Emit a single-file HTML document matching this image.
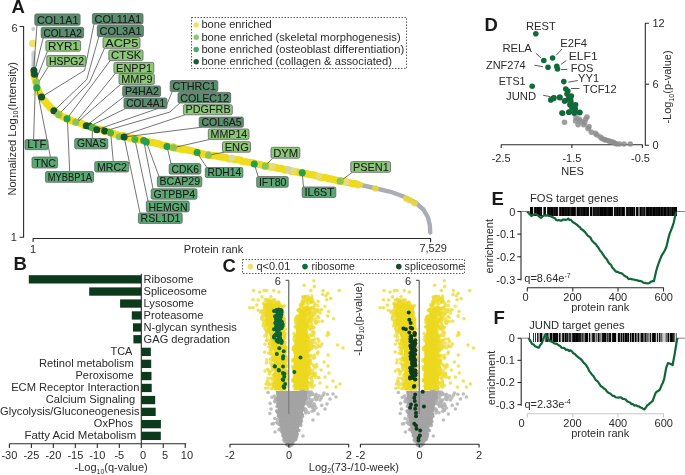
<!DOCTYPE html>
<html><head><meta charset="utf-8"><style>html,body{margin:0;padding:0;background:#fff;overflow:hidden}svg{display:block;will-change:transform}</style></head>
<body><svg width="685" height="475" viewBox="0 0 685 475" font-family='"Liberation Sans", sans-serif'>
<rect width="685" height="475" fill="#fff"/>
<text x="11.50" y="13.00" font-size="18.5" text-anchor="start" fill="#1a1a1a" font-weight="bold">A</text>
<text x="13.50" y="270.30" font-size="18.5" text-anchor="start" fill="#1a1a1a" font-weight="bold">B</text>
<text x="222.50" y="271.50" font-size="18.5" text-anchor="start" fill="#1a1a1a" font-weight="bold">C</text>
<text x="484.50" y="31.40" font-size="18.5" text-anchor="start" fill="#1a1a1a" font-weight="bold">D</text>
<text x="491.50" y="205.40" font-size="18.5" text-anchor="start" fill="#1a1a1a" font-weight="bold">E</text>
<text x="493.50" y="324.30" font-size="18.5" text-anchor="start" fill="#1a1a1a" font-weight="bold">F</text>
<polyline points="19.50,26.50 23.60,26.50 23.60,237.30 19.50,237.30" fill="none" stroke="#2a2a2a" stroke-width="1.1" stroke-linejoin="round"/>
<polyline points="33.10,242.00 33.10,238.50 430.60,238.50 430.60,242.20" fill="none" stroke="#2a2a2a" stroke-width="1.1" stroke-linejoin="round"/>
<text x="17.60" y="31.60" font-size="11" text-anchor="end" fill="#2b2b2b" font-weight="normal">6</text>
<text x="16.80" y="240.80" font-size="11" text-anchor="end" fill="#2b2b2b" font-weight="normal">1</text>
<text x="33.10" y="252.80" font-size="11" text-anchor="middle" fill="#2b2b2b" font-weight="normal">1</text>
<text x="433.20" y="252.40" font-size="11" text-anchor="middle" fill="#2b2b2b" font-weight="normal">7,529</text>
<text x="213.50" y="252.60" font-size="11" text-anchor="middle" fill="#2b2b2b" font-weight="normal">Protein rank</text>
<text transform="translate(16.0,128.8) rotate(-90)" font-size="11" text-anchor="middle" fill="#2b2b2b" textLength="133.5" lengthAdjust="spacingAndGlyphs">Normalized Log<tspan font-size="7" dy="2">10</tspan><tspan dy="-2">(Intensity)</tspan></text>
<circle cx="33.30" cy="29.10" r="2.0" fill="#c8cbcd"/>
<circle cx="33.50" cy="52.50" r="2.1" fill="#c6cacd" opacity="0.75"/>
<circle cx="33.50" cy="54.00" r="2.1" fill="#c6cacd" opacity="0.75"/>
<circle cx="33.50" cy="55.50" r="2.1" fill="#c6cacd" opacity="0.75"/>
<circle cx="33.50" cy="57.00" r="2.1" fill="#c6cacd" opacity="0.75"/>
<circle cx="33.50" cy="58.50" r="2.1" fill="#c6cacd" opacity="0.75"/>
<circle cx="33.50" cy="60.00" r="2.1" fill="#c6cacd" opacity="0.75"/>
<circle cx="33.50" cy="61.50" r="2.1" fill="#c6cacd" opacity="0.75"/>
<circle cx="33.50" cy="63.00" r="2.1" fill="#c6cacd" opacity="0.75"/>
<circle cx="33.50" cy="64.50" r="2.1" fill="#c6cacd" opacity="0.75"/>
<circle cx="33.50" cy="66.00" r="2.1" fill="#c6cacd" opacity="0.75"/>
<circle cx="33.50" cy="67.50" r="2.1" fill="#c6cacd" opacity="0.75"/>
<circle cx="32.70" cy="43.50" r="3.8" fill="#efe074"/>
<polyline points="358.00,184.40 367.80,186.50 390.50,191.80 403.00,196.30 415.80,202.80 423.40,209.50 428.00,217.50 429.80,225.00 430.20,232.50" fill="none" stroke="#a9aeb2" stroke-width="4.4" stroke-linejoin="round" stroke-linecap="round"/>
<polyline points="33.60,74.00 34.50,78.00 35.50,82.00 37.00,88.00 39.00,92.50 41.60,97.00 47.00,104.00 53.90,110.60 58.60,114.30 67.00,118.50 75.80,122.20 86.30,125.50 96.80,128.60 104.70,130.80 110.50,132.50 119.40,135.20 124.40,136.60 134.90,139.00 146.30,141.50 167.00,145.90 173.40,147.30 197.10,152.40 208.50,154.80 231.50,159.00 240.00,160.30 254.40,163.40 265.20,165.60 302.20,172.80 340.20,180.80 360.00,184.70" fill="none" stroke="#efdb1e" stroke-width="6.0" stroke-linejoin="round" stroke-linecap="round"/>
<circle cx="33.71" cy="73.97" r="3.6" fill="#efdb1e"/>
<circle cx="34.85" cy="77.91" r="3.6" fill="#efdb1e"/>
<circle cx="35.87" cy="81.91" r="3.6" fill="#efdb1e"/>
<circle cx="36.54" cy="84.93" r="3.6" fill="#efdb1e"/>
<circle cx="36.72" cy="88.13" r="3.6" fill="#efdb1e"/>
<circle cx="38.27" cy="90.13" r="3.6" fill="#efdb1e"/>
<circle cx="39.12" cy="92.43" r="3.6" fill="#efdb1e"/>
<circle cx="40.11" cy="94.86" r="3.6" fill="#efdb1e"/>
<circle cx="41.56" cy="97.03" r="3.6" fill="#efdb1e"/>
<circle cx="42.53" cy="99.07" r="3.6" fill="#efdb1e"/>
<circle cx="44.31" cy="100.49" r="3.6" fill="#efdb1e"/>
<circle cx="45.72" cy="102.19" r="3.6" fill="#efdb1e"/>
<circle cx="46.91" cy="104.10" r="3.6" fill="#efdb1e"/>
<circle cx="48.96" cy="105.40" r="3.6" fill="#efdb1e"/>
<circle cx="50.12" cy="107.65" r="3.6" fill="#efdb1e"/>
<circle cx="52.28" cy="108.84" r="3.6" fill="#efdb1e"/>
<circle cx="53.98" cy="110.49" r="3.6" fill="#efdb1e"/>
<circle cx="56.11" cy="112.62" r="3.6" fill="#efdb1e"/>
<circle cx="58.79" cy="113.93" r="3.6" fill="#efdb1e"/>
<circle cx="60.61" cy="115.52" r="3.6" fill="#efdb1e"/>
<circle cx="62.61" cy="116.78" r="3.6" fill="#efdb1e"/>
<circle cx="64.99" cy="117.28" r="3.6" fill="#efdb1e"/>
<circle cx="66.79" cy="118.99" r="3.6" fill="#efdb1e"/>
<circle cx="69.19" cy="119.46" r="3.6" fill="#efdb1e"/>
<circle cx="71.27" cy="120.65" r="3.6" fill="#efdb1e"/>
<circle cx="73.61" cy="121.24" r="3.6" fill="#efdb1e"/>
<circle cx="75.84" cy="122.09" r="3.6" fill="#efdb1e"/>
<circle cx="77.98" cy="122.60" r="3.6" fill="#efdb1e"/>
<circle cx="80.18" cy="122.96" r="3.6" fill="#efdb1e"/>
<circle cx="82.21" cy="123.84" r="3.6" fill="#efdb1e"/>
<circle cx="84.02" cy="125.40" r="3.6" fill="#efdb1e"/>
<circle cx="86.29" cy="125.54" r="3.6" fill="#efdb1e"/>
<circle cx="88.94" cy="126.23" r="3.6" fill="#efdb1e"/>
<circle cx="91.41" cy="127.51" r="3.6" fill="#efdb1e"/>
<circle cx="94.14" cy="127.95" r="3.6" fill="#efdb1e"/>
<circle cx="96.65" cy="129.15" r="3.6" fill="#efdb1e"/>
<circle cx="99.48" cy="129.17" r="3.6" fill="#efdb1e"/>
<circle cx="102.16" cy="129.74" r="3.6" fill="#efdb1e"/>
<circle cx="104.56" cy="131.28" r="3.6" fill="#efdb1e"/>
<circle cx="107.71" cy="131.26" r="3.6" fill="#efdb1e"/>
<circle cx="110.40" cy="132.84" r="3.6" fill="#efdb1e"/>
<circle cx="112.69" cy="133.28" r="3.6" fill="#efdb1e"/>
<circle cx="114.78" cy="134.40" r="3.6" fill="#efdb1e"/>
<circle cx="117.02" cy="135.03" r="3.6" fill="#efdb1e"/>
<circle cx="119.35" cy="135.39" r="3.6" fill="#efdb1e"/>
<circle cx="122.05" cy="135.37" r="3.6" fill="#efdb1e"/>
<circle cx="124.53" cy="136.04" r="3.6" fill="#efdb1e"/>
<circle cx="127.03" cy="137.17" r="3.6" fill="#efdb1e"/>
<circle cx="129.56" cy="138.17" r="3.6" fill="#efdb1e"/>
<circle cx="132.39" cy="137.91" r="3.6" fill="#efdb1e"/>
<circle cx="134.92" cy="138.91" r="3.6" fill="#efdb1e"/>
<circle cx="137.29" cy="139.01" r="3.6" fill="#efdb1e"/>
<circle cx="139.51" cy="139.78" r="3.6" fill="#efdb1e"/>
<circle cx="141.87" cy="139.92" r="3.6" fill="#efdb1e"/>
<circle cx="144.06" cy="140.80" r="3.6" fill="#efdb1e"/>
<circle cx="146.29" cy="141.53" r="3.6" fill="#efdb1e"/>
<circle cx="148.67" cy="141.64" r="3.6" fill="#efdb1e"/>
<circle cx="150.83" cy="142.81" r="3.6" fill="#efdb1e"/>
<circle cx="153.31" cy="142.44" r="3.6" fill="#efdb1e"/>
<circle cx="155.57" cy="143.12" r="3.6" fill="#efdb1e"/>
<circle cx="157.86" cy="143.66" r="3.6" fill="#efdb1e"/>
<circle cx="160.12" cy="144.32" r="3.6" fill="#efdb1e"/>
<circle cx="162.33" cy="145.23" r="3.6" fill="#efdb1e"/>
<circle cx="164.74" cy="145.24" r="3.6" fill="#efdb1e"/>
<circle cx="166.95" cy="146.13" r="3.6" fill="#efdb1e"/>
<circle cx="170.09" cy="147.09" r="3.6" fill="#efdb1e"/>
<circle cx="173.49" cy="146.87" r="3.6" fill="#efdb1e"/>
<circle cx="175.46" cy="148.19" r="3.6" fill="#efdb1e"/>
<circle cx="177.68" cy="148.34" r="3.6" fill="#efdb1e"/>
<circle cx="179.80" cy="148.98" r="3.6" fill="#efdb1e"/>
<circle cx="181.99" cy="149.28" r="3.6" fill="#efdb1e"/>
<circle cx="184.20" cy="149.51" r="3.6" fill="#efdb1e"/>
<circle cx="186.43" cy="149.61" r="3.6" fill="#efdb1e"/>
<circle cx="188.57" cy="150.13" r="3.6" fill="#efdb1e"/>
<circle cx="190.72" cy="150.63" r="3.6" fill="#efdb1e"/>
<circle cx="192.87" cy="151.09" r="3.6" fill="#efdb1e"/>
<circle cx="195.03" cy="151.52" r="3.6" fill="#efdb1e"/>
<circle cx="197.17" cy="152.06" r="3.6" fill="#efdb1e"/>
<circle cx="199.36" cy="152.95" r="3.6" fill="#efdb1e"/>
<circle cx="201.59" cy="153.68" r="3.6" fill="#efdb1e"/>
<circle cx="203.87" cy="154.19" r="3.6" fill="#efdb1e"/>
<circle cx="206.13" cy="154.73" r="3.6" fill="#efdb1e"/>
<circle cx="208.58" cy="154.35" r="3.6" fill="#efdb1e"/>
<circle cx="210.73" cy="155.60" r="3.6" fill="#efdb1e"/>
<circle cx="213.17" cy="155.27" r="3.6" fill="#efdb1e"/>
<circle cx="215.49" cy="155.56" r="3.6" fill="#efdb1e"/>
<circle cx="217.75" cy="156.23" r="3.6" fill="#efdb1e"/>
<circle cx="219.98" cy="157.00" r="3.6" fill="#efdb1e"/>
<circle cx="222.40" cy="156.79" r="3.6" fill="#efdb1e"/>
<circle cx="224.66" cy="157.41" r="3.6" fill="#efdb1e"/>
<circle cx="226.92" cy="158.04" r="3.6" fill="#efdb1e"/>
<circle cx="229.13" cy="158.96" r="3.6" fill="#efdb1e"/>
<circle cx="231.52" cy="158.88" r="3.6" fill="#efdb1e"/>
<circle cx="234.35" cy="159.33" r="3.6" fill="#efdb1e"/>
<circle cx="237.19" cy="159.71" r="3.6" fill="#efdb1e"/>
<circle cx="240.10" cy="159.82" r="3.6" fill="#efdb1e"/>
<circle cx="242.30" cy="161.26" r="3.6" fill="#efdb1e"/>
<circle cx="244.69" cy="161.83" r="3.6" fill="#efdb1e"/>
<circle cx="247.14" cy="162.11" r="3.6" fill="#efdb1e"/>
<circle cx="249.63" cy="162.25" r="3.6" fill="#efdb1e"/>
<circle cx="252.01" cy="162.82" r="3.6" fill="#efdb1e"/>
<circle cx="254.45" cy="163.18" r="3.6" fill="#efdb1e"/>
<circle cx="256.52" cy="164.02" r="3.6" fill="#efdb1e"/>
<circle cx="258.68" cy="164.46" r="3.6" fill="#efdb1e"/>
<circle cx="260.93" cy="164.50" r="3.6" fill="#efdb1e"/>
<circle cx="262.95" cy="165.60" r="3.6" fill="#efdb1e"/>
<circle cx="265.15" cy="165.86" r="3.6" fill="#efdb1e"/>
<circle cx="267.44" cy="165.69" r="3.6" fill="#efdb1e"/>
<circle cx="269.48" cy="166.81" r="3.6" fill="#efdb1e"/>
<circle cx="271.69" cy="167.08" r="3.6" fill="#efdb1e"/>
<circle cx="273.96" cy="167.00" r="3.6" fill="#efdb1e"/>
<circle cx="276.13" cy="167.48" r="3.6" fill="#efdb1e"/>
<circle cx="278.20" cy="168.44" r="3.6" fill="#efdb1e"/>
<circle cx="280.53" cy="168.07" r="3.6" fill="#efdb1e"/>
<circle cx="282.63" cy="168.91" r="3.6" fill="#efdb1e"/>
<circle cx="284.68" cy="169.96" r="3.6" fill="#efdb1e"/>
<circle cx="287.02" cy="169.55" r="3.6" fill="#efdb1e"/>
<circle cx="289.14" cy="170.26" r="3.6" fill="#efdb1e"/>
<circle cx="291.22" cy="171.16" r="3.6" fill="#efdb1e"/>
<circle cx="293.41" cy="171.55" r="3.6" fill="#efdb1e"/>
<circle cx="295.60" cy="171.87" r="3.6" fill="#efdb1e"/>
<circle cx="297.84" cy="171.99" r="3.6" fill="#efdb1e"/>
<circle cx="299.93" cy="172.88" r="3.6" fill="#efdb1e"/>
<circle cx="302.26" cy="172.51" r="3.6" fill="#efdb1e"/>
<circle cx="304.34" cy="173.72" r="3.6" fill="#efdb1e"/>
<circle cx="306.69" cy="173.63" r="3.6" fill="#efdb1e"/>
<circle cx="308.87" cy="174.40" r="3.6" fill="#efdb1e"/>
<circle cx="311.11" cy="174.81" r="3.6" fill="#efdb1e"/>
<circle cx="313.43" cy="174.90" r="3.6" fill="#efdb1e"/>
<circle cx="315.57" cy="175.83" r="3.6" fill="#efdb1e"/>
<circle cx="317.82" cy="176.22" r="3.6" fill="#efdb1e"/>
<circle cx="319.96" cy="177.14" r="3.6" fill="#efdb1e"/>
<circle cx="322.28" cy="177.23" r="3.6" fill="#efdb1e"/>
<circle cx="324.57" cy="177.44" r="3.6" fill="#efdb1e"/>
<circle cx="326.82" cy="177.84" r="3.6" fill="#efdb1e"/>
<circle cx="328.93" cy="178.90" r="3.6" fill="#efdb1e"/>
<circle cx="331.30" cy="178.74" r="3.6" fill="#efdb1e"/>
<circle cx="333.45" cy="179.58" r="3.6" fill="#efdb1e"/>
<circle cx="335.68" cy="180.09" r="3.6" fill="#efdb1e"/>
<circle cx="337.85" cy="180.88" r="3.6" fill="#efdb1e"/>
<circle cx="340.27" cy="180.44" r="3.6" fill="#efdb1e"/>
<circle cx="342.36" cy="181.43" r="3.6" fill="#efdb1e"/>
<circle cx="344.68" cy="181.28" r="3.6" fill="#efdb1e"/>
<circle cx="346.77" cy="182.26" r="3.6" fill="#efdb1e"/>
<circle cx="348.96" cy="182.72" r="3.6" fill="#efdb1e"/>
<circle cx="351.14" cy="183.25" r="3.6" fill="#efdb1e"/>
<circle cx="353.32" cy="183.83" r="3.6" fill="#efdb1e"/>
<circle cx="355.66" cy="183.52" r="3.6" fill="#efdb1e"/>
<circle cx="357.72" cy="184.69" r="3.6" fill="#efdb1e"/>
<circle cx="231.80" cy="157.90" r="3.4" fill="#dcdaa0" opacity="0.9"/>
<circle cx="272.60" cy="166.40" r="3.4" fill="#e8da80" opacity="0.9"/>
<circle cx="288.30" cy="169.70" r="3.4" fill="#cfd0b8" opacity="0.9"/>
<circle cx="293.60" cy="171.00" r="3.4" fill="#e8da80" opacity="0.9"/>
<circle cx="318.70" cy="176.40" r="3.4" fill="#e8da80" opacity="0.9"/>
<circle cx="346.10" cy="182.20" r="3.4" fill="#e8da80" opacity="0.9"/>
<circle cx="358.20" cy="185.00" r="3.3" fill="#ecd83a" opacity="0.85"/>
<circle cx="375.40" cy="188.50" r="3.3" fill="#ecd83a" opacity="0.85"/>
<circle cx="406.20" cy="198.60" r="3.3" fill="#ecd83a" opacity="0.85"/>
<circle cx="410.00" cy="200.50" r="3.3" fill="#ecd83a" opacity="0.85"/>
<circle cx="414.50" cy="203.20" r="3.3" fill="#ecd83a" opacity="0.85"/>
<polyline points="37.00,25.30 33.80,68.00" fill="none" stroke="#3a3a3a" stroke-width="0.7" stroke-linejoin="round"/>
<polyline points="43.20,38.00 34.50,72.00" fill="none" stroke="#3a3a3a" stroke-width="0.7" stroke-linejoin="round"/>
<polyline points="47.50,51.20 36.00,80.00" fill="none" stroke="#3a3a3a" stroke-width="0.7" stroke-linejoin="round"/>
<polyline points="48.50,66.40 37.50,84.00" fill="none" stroke="#3a3a3a" stroke-width="0.7" stroke-linejoin="round"/>
<polyline points="94.00,24.00 84.60,70.30 41.60,97.00" fill="none" stroke="#3a3a3a" stroke-width="0.7" stroke-linejoin="round"/>
<polyline points="98.80,36.70 86.80,79.40 53.90,110.80" fill="none" stroke="#3a3a3a" stroke-width="0.7" stroke-linejoin="round"/>
<polyline points="104.50,48.30 89.60,82.00 58.60,114.70" fill="none" stroke="#3a3a3a" stroke-width="0.7" stroke-linejoin="round"/>
<polyline points="110.20,60.60 67.00,118.70" fill="none" stroke="#3a3a3a" stroke-width="0.7" stroke-linejoin="round"/>
<polyline points="115.40,73.20 75.80,122.20" fill="none" stroke="#3a3a3a" stroke-width="0.7" stroke-linejoin="round"/>
<polyline points="120.50,84.40 80.00,120.00 75.80,122.20" fill="none" stroke="#3a3a3a" stroke-width="0.7" stroke-linejoin="round"/>
<polyline points="124.20,96.60 86.30,125.70" fill="none" stroke="#3a3a3a" stroke-width="0.7" stroke-linejoin="round"/>
<polyline points="125.50,108.60 89.80,126.20" fill="none" stroke="#3a3a3a" stroke-width="0.7" stroke-linejoin="round"/>
<polyline points="172.20,91.60 166.50,105.50 96.80,129.70" fill="none" stroke="#3a3a3a" stroke-width="0.7" stroke-linejoin="round"/>
<polyline points="179.80,103.00 170.00,112.00 104.70,131.00" fill="none" stroke="#3a3a3a" stroke-width="0.7" stroke-linejoin="round"/>
<polyline points="185.00,114.80 119.40,136.70" fill="none" stroke="#3a3a3a" stroke-width="0.7" stroke-linejoin="round"/>
<polyline points="200.80,127.30 124.10,137.00" fill="none" stroke="#3a3a3a" stroke-width="0.7" stroke-linejoin="round"/>
<polyline points="209.80,139.40 173.40,147.70" fill="none" stroke="#3a3a3a" stroke-width="0.7" stroke-linejoin="round"/>
<polyline points="224.00,152.20 208.50,155.20" fill="none" stroke="#3a3a3a" stroke-width="0.7" stroke-linejoin="round"/>
<polyline points="272.50,158.20 265.20,166.20" fill="none" stroke="#3a3a3a" stroke-width="0.7" stroke-linejoin="round"/>
<polyline points="352.30,172.30 340.20,181.20" fill="none" stroke="#3a3a3a" stroke-width="0.7" stroke-linejoin="round"/>
<polyline points="303.50,187.00 302.20,172.80" fill="none" stroke="#3a3a3a" stroke-width="0.7" stroke-linejoin="round"/>
<polyline points="258.20,176.60 254.30,164.00" fill="none" stroke="#3a3a3a" stroke-width="0.7" stroke-linejoin="round"/>
<polyline points="206.80,167.50 197.10,152.60" fill="none" stroke="#3a3a3a" stroke-width="0.7" stroke-linejoin="round"/>
<polyline points="171.00,163.60 167.00,146.40" fill="none" stroke="#3a3a3a" stroke-width="0.7" stroke-linejoin="round"/>
<polyline points="159.00,176.40 146.30,142.00" fill="none" stroke="#3a3a3a" stroke-width="0.7" stroke-linejoin="round"/>
<polyline points="153.00,188.80 143.70,140.60" fill="none" stroke="#3a3a3a" stroke-width="0.7" stroke-linejoin="round"/>
<polyline points="148.00,201.00 134.90,139.40" fill="none" stroke="#3a3a3a" stroke-width="0.7" stroke-linejoin="round"/>
<polyline points="140.00,213.00 124.10,137.00" fill="none" stroke="#3a3a3a" stroke-width="0.7" stroke-linejoin="round"/>
<polyline points="33.60,139.60 35.20,88.00" fill="none" stroke="#3a3a3a" stroke-width="0.7" stroke-linejoin="round"/>
<polyline points="50.40,157.00 37.10,89.70" fill="none" stroke="#3a3a3a" stroke-width="0.7" stroke-linejoin="round"/>
<polyline points="69.70,171.60 67.40,118.80" fill="none" stroke="#3a3a3a" stroke-width="0.7" stroke-linejoin="round"/>
<polyline points="92.30,138.50 92.30,128.00" fill="none" stroke="#3a3a3a" stroke-width="0.7" stroke-linejoin="round"/>
<polyline points="113.30,161.50 110.70,133.20" fill="none" stroke="#3a3a3a" stroke-width="0.7" stroke-linejoin="round"/>
<circle cx="33.90" cy="70.50" r="3.5" fill="#11532f"/>
<circle cx="34.50" cy="74.30" r="3.5" fill="#11532f"/>
<circle cx="36.40" cy="81.90" r="3.5" fill="#8cc453"/>
<circle cx="36.90" cy="87.70" r="3.5" fill="#22a04a"/>
<circle cx="41.60" cy="97.10" r="3.5" fill="#11532f"/>
<circle cx="53.90" cy="110.80" r="3.5" fill="#11532f"/>
<circle cx="58.60" cy="114.70" r="3.5" fill="#8cc453"/>
<circle cx="67.00" cy="118.70" r="3.5" fill="#22a04a"/>
<circle cx="75.80" cy="122.20" r="3.5" fill="#8cc453"/>
<circle cx="86.30" cy="125.70" r="3.5" fill="#11532f"/>
<circle cx="89.80" cy="126.20" r="3.5" fill="#11532f"/>
<circle cx="92.30" cy="127.50" r="3.5" fill="#50b040"/>
<circle cx="96.80" cy="129.70" r="3.5" fill="#11532f"/>
<circle cx="104.70" cy="131.00" r="3.5" fill="#11532f"/>
<circle cx="110.50" cy="132.70" r="3.5" fill="#50b040"/>
<circle cx="119.40" cy="136.70" r="3.5" fill="#8cc453"/>
<circle cx="124.10" cy="137.00" r="3.5" fill="#11532f"/>
<circle cx="134.90" cy="139.40" r="3.5" fill="#50b040"/>
<circle cx="143.70" cy="140.60" r="3.5" fill="#3b9a4e"/>
<circle cx="146.30" cy="142.00" r="3.5" fill="#22a050"/>
<circle cx="167.00" cy="146.40" r="3.5" fill="#22a04a"/>
<circle cx="173.40" cy="147.70" r="3.5" fill="#8cc453"/>
<circle cx="197.10" cy="152.60" r="3.5" fill="#22a04a"/>
<circle cx="208.50" cy="155.20" r="3.5" fill="#8cc453"/>
<circle cx="254.30" cy="164.00" r="3.5" fill="#22a04a"/>
<circle cx="265.20" cy="166.20" r="3.5" fill="#8cc453"/>
<circle cx="302.20" cy="172.80" r="3.5" fill="#22a04a"/>
<circle cx="340.20" cy="181.20" r="3.5" fill="#8cc453"/>
<rect x="34.80" y="13.90" width="45.30" height="11.40" rx="1.6" fill="#5a8c6e" stroke="#5e6660" stroke-width="0.8"/>
<text x="37.00" y="23.90" font-size="10.6" text-anchor="start" fill="#1a1a1a" font-weight="normal" textLength="41.40" lengthAdjust="spacingAndGlyphs" stroke="#1a1a1a" stroke-width="0.08">COL1A1</text>
<rect x="41.20" y="27.30" width="42.40" height="10.70" rx="1.6" fill="#5a8c6e" stroke="#5e6660" stroke-width="0.8"/>
<text x="43.40" y="36.60" font-size="10.6" text-anchor="start" fill="#1a1a1a" font-weight="normal" textLength="38.50" lengthAdjust="spacingAndGlyphs" stroke="#1a1a1a" stroke-width="0.08">COL1A2</text>
<rect x="45.90" y="40.60" width="34.70" height="10.60" rx="1.6" fill="#8cc878" stroke="#5e6660" stroke-width="0.8"/>
<text x="48.10" y="49.80" font-size="10.6" text-anchor="start" fill="#1a1a1a" font-weight="normal" textLength="30.80" lengthAdjust="spacingAndGlyphs" stroke="#1a1a1a" stroke-width="0.08">RYR1</text>
<rect x="46.80" y="55.60" width="39.00" height="10.80" rx="1.6" fill="#8cc878" stroke="#5e6660" stroke-width="0.8"/>
<text x="49.00" y="65.00" font-size="10.6" text-anchor="start" fill="#1a1a1a" font-weight="normal" textLength="35.10" lengthAdjust="spacingAndGlyphs" stroke="#1a1a1a" stroke-width="0.08">HSPG2</text>
<rect x="92.40" y="13.50" width="50.60" height="10.50" rx="1.6" fill="#5a8c6e" stroke="#5e6660" stroke-width="0.8"/>
<text x="94.60" y="22.60" font-size="10.6" text-anchor="start" fill="#1a1a1a" font-weight="normal" textLength="46.70" lengthAdjust="spacingAndGlyphs" stroke="#1a1a1a" stroke-width="0.08">COL11A1</text>
<rect x="97.30" y="25.20" width="46.10" height="11.50" rx="1.6" fill="#5a8c6e" stroke="#5e6660" stroke-width="0.8"/>
<text x="99.50" y="35.30" font-size="10.6" text-anchor="start" fill="#1a1a1a" font-weight="normal" textLength="42.20" lengthAdjust="spacingAndGlyphs" stroke="#1a1a1a" stroke-width="0.08">COL3A1</text>
<rect x="103.00" y="37.40" width="37.00" height="10.90" rx="1.6" fill="#8cc878" stroke="#5e6660" stroke-width="0.8"/>
<text x="105.20" y="46.90" font-size="10.6" text-anchor="start" fill="#1a1a1a" font-weight="normal" textLength="33.10" lengthAdjust="spacingAndGlyphs" stroke="#1a1a1a" stroke-width="0.08">ACP5</text>
<rect x="108.80" y="50.00" width="34.20" height="10.60" rx="1.6" fill="#8cc878" stroke="#5e6660" stroke-width="0.8"/>
<text x="111.00" y="59.20" font-size="10.6" text-anchor="start" fill="#1a1a1a" font-weight="normal" textLength="30.30" lengthAdjust="spacingAndGlyphs" stroke="#1a1a1a" stroke-width="0.08">CTSK</text>
<rect x="113.90" y="62.40" width="39.90" height="10.80" rx="1.6" fill="#8cc878" stroke="#5e6660" stroke-width="0.8"/>
<text x="116.10" y="71.80" font-size="10.6" text-anchor="start" fill="#1a1a1a" font-weight="normal" textLength="36.00" lengthAdjust="spacingAndGlyphs" stroke="#1a1a1a" stroke-width="0.08">ENPP1</text>
<rect x="119.00" y="73.70" width="35.30" height="10.70" rx="1.6" fill="#8cc878" stroke="#5e6660" stroke-width="0.8"/>
<text x="121.20" y="83.00" font-size="10.6" text-anchor="start" fill="#1a1a1a" font-weight="normal" textLength="31.40" lengthAdjust="spacingAndGlyphs" stroke="#1a1a1a" stroke-width="0.08">MMP9</text>
<rect x="122.70" y="85.90" width="37.90" height="10.70" rx="1.6" fill="#5a8c6e" stroke="#5e6660" stroke-width="0.8"/>
<text x="124.90" y="95.20" font-size="10.6" text-anchor="start" fill="#1a1a1a" font-weight="normal" textLength="34.00" lengthAdjust="spacingAndGlyphs" stroke="#1a1a1a" stroke-width="0.08">P4HA2</text>
<rect x="124.00" y="98.00" width="42.90" height="10.60" rx="1.6" fill="#5a8c6e" stroke="#5e6660" stroke-width="0.8"/>
<text x="126.20" y="107.20" font-size="10.6" text-anchor="start" fill="#1a1a1a" font-weight="normal" textLength="39.00" lengthAdjust="spacingAndGlyphs" stroke="#1a1a1a" stroke-width="0.08">COL4A1</text>
<rect x="170.20" y="80.50" width="47.60" height="11.10" rx="1.6" fill="#5a8c6e" stroke="#5e6660" stroke-width="0.8"/>
<text x="172.40" y="90.20" font-size="10.6" text-anchor="start" fill="#1a1a1a" font-weight="normal" textLength="43.70" lengthAdjust="spacingAndGlyphs" stroke="#1a1a1a" stroke-width="0.08">CTHRC1</text>
<rect x="178.00" y="92.40" width="52.70" height="10.60" rx="1.6" fill="#5a8c6e" stroke="#5e6660" stroke-width="0.8"/>
<text x="180.20" y="101.60" font-size="10.6" text-anchor="start" fill="#1a1a1a" font-weight="normal" textLength="48.80" lengthAdjust="spacingAndGlyphs" stroke="#1a1a1a" stroke-width="0.08">COLEC12</text>
<rect x="183.40" y="104.70" width="48.90" height="10.10" rx="1.6" fill="#8cc878" stroke="#5e6660" stroke-width="0.8"/>
<text x="185.60" y="113.40" font-size="10.6" text-anchor="start" fill="#1a1a1a" font-weight="normal" textLength="45.00" lengthAdjust="spacingAndGlyphs" stroke="#1a1a1a" stroke-width="0.08">PDGFRB</text>
<rect x="199.20" y="117.10" width="44.20" height="10.20" rx="1.6" fill="#5a8c6e" stroke="#5e6660" stroke-width="0.8"/>
<text x="201.40" y="125.90" font-size="10.6" text-anchor="start" fill="#1a1a1a" font-weight="normal" textLength="40.30" lengthAdjust="spacingAndGlyphs" stroke="#1a1a1a" stroke-width="0.08">COL6A5</text>
<rect x="208.30" y="129.00" width="40.70" height="10.40" rx="1.6" fill="#8cc878" stroke="#5e6660" stroke-width="0.8"/>
<text x="210.50" y="138.00" font-size="10.6" text-anchor="start" fill="#1a1a1a" font-weight="normal" textLength="36.80" lengthAdjust="spacingAndGlyphs" stroke="#1a1a1a" stroke-width="0.08">MMP14</text>
<rect x="222.50" y="141.70" width="28.00" height="10.50" rx="1.6" fill="#8cc878" stroke="#5e6660" stroke-width="0.8"/>
<text x="224.70" y="150.80" font-size="10.6" text-anchor="start" fill="#1a1a1a" font-weight="normal" textLength="24.10" lengthAdjust="spacingAndGlyphs" stroke="#1a1a1a" stroke-width="0.08">ENG</text>
<rect x="271.00" y="147.30" width="28.90" height="10.90" rx="1.6" fill="#8cc878" stroke="#5e6660" stroke-width="0.8"/>
<text x="273.20" y="156.80" font-size="10.6" text-anchor="start" fill="#1a1a1a" font-weight="normal" textLength="25.00" lengthAdjust="spacingAndGlyphs" stroke="#1a1a1a" stroke-width="0.08">DYM</text>
<rect x="350.80" y="161.60" width="39.70" height="10.70" rx="1.6" fill="#8cc878" stroke="#5e6660" stroke-width="0.8"/>
<text x="353.00" y="170.90" font-size="10.6" text-anchor="start" fill="#1a1a1a" font-weight="normal" textLength="35.80" lengthAdjust="spacingAndGlyphs" stroke="#1a1a1a" stroke-width="0.08">PSEN1</text>
<rect x="302.20" y="187.00" width="33.60" height="10.50" rx="1.6" fill="#5aa874" stroke="#5e6660" stroke-width="0.8"/>
<text x="304.40" y="196.10" font-size="10.6" text-anchor="start" fill="#1a1a1a" font-weight="normal" textLength="29.70" lengthAdjust="spacingAndGlyphs" stroke="#1a1a1a" stroke-width="0.08">IL6ST</text>
<rect x="256.70" y="176.60" width="31.50" height="10.70" rx="1.6" fill="#5aa874" stroke="#5e6660" stroke-width="0.8"/>
<text x="258.90" y="185.90" font-size="10.6" text-anchor="start" fill="#1a1a1a" font-weight="normal" textLength="27.60" lengthAdjust="spacingAndGlyphs" stroke="#1a1a1a" stroke-width="0.08">IFT80</text>
<rect x="205.30" y="167.50" width="37.60" height="10.00" rx="1.6" fill="#5aa874" stroke="#5e6660" stroke-width="0.8"/>
<text x="207.50" y="176.10" font-size="10.6" text-anchor="start" fill="#1a1a1a" font-weight="normal" textLength="33.70" lengthAdjust="spacingAndGlyphs" stroke="#1a1a1a" stroke-width="0.08">RDH14</text>
<rect x="169.20" y="163.60" width="31.60" height="10.50" rx="1.6" fill="#5aa874" stroke="#5e6660" stroke-width="0.8"/>
<text x="171.40" y="172.70" font-size="10.6" text-anchor="start" fill="#1a1a1a" font-weight="normal" textLength="27.70" lengthAdjust="spacingAndGlyphs" stroke="#1a1a1a" stroke-width="0.08">CDK6</text>
<rect x="157.30" y="176.40" width="44.50" height="10.40" rx="1.6" fill="#5aa874" stroke="#5e6660" stroke-width="0.8"/>
<text x="159.50" y="185.40" font-size="10.6" text-anchor="start" fill="#1a1a1a" font-weight="normal" textLength="40.60" lengthAdjust="spacingAndGlyphs" stroke="#1a1a1a" stroke-width="0.08">BCAP29</text>
<rect x="151.20" y="188.80" width="45.80" height="10.40" rx="1.6" fill="#5aa874" stroke="#5e6660" stroke-width="0.8"/>
<text x="153.40" y="197.80" font-size="10.6" text-anchor="start" fill="#1a1a1a" font-weight="normal" textLength="41.90" lengthAdjust="spacingAndGlyphs" stroke="#1a1a1a" stroke-width="0.08">GTPBP4</text>
<rect x="146.30" y="201.00" width="42.90" height="10.90" rx="1.6" fill="#5aa874" stroke="#5e6660" stroke-width="0.8"/>
<text x="148.50" y="210.50" font-size="10.6" text-anchor="start" fill="#1a1a1a" font-weight="normal" textLength="39.00" lengthAdjust="spacingAndGlyphs" stroke="#1a1a1a" stroke-width="0.08">HEMGN</text>
<rect x="138.40" y="213.00" width="43.80" height="10.40" rx="1.6" fill="#5aa874" stroke="#5e6660" stroke-width="0.8"/>
<text x="140.60" y="222.00" font-size="10.6" text-anchor="start" fill="#1a1a1a" font-weight="normal" textLength="39.90" lengthAdjust="spacingAndGlyphs" stroke="#1a1a1a" stroke-width="0.08">RSL1D1</text>
<rect x="25.00" y="139.60" width="23.00" height="10.10" rx="1.6" fill="#5aa874" stroke="#5e6660" stroke-width="0.8"/>
<text x="27.20" y="148.30" font-size="10.6" text-anchor="start" fill="#1a1a1a" font-weight="normal" textLength="19.10" lengthAdjust="spacingAndGlyphs" stroke="#1a1a1a" stroke-width="0.08">LTF</text>
<rect x="32.00" y="157.00" width="25.60" height="11.00" rx="1.6" fill="#5aa874" stroke="#5e6660" stroke-width="0.8"/>
<text x="34.20" y="166.60" font-size="10.6" text-anchor="start" fill="#1a1a1a" font-weight="normal" textLength="21.70" lengthAdjust="spacingAndGlyphs" stroke="#1a1a1a" stroke-width="0.08">TNC</text>
<rect x="45.50" y="171.60" width="48.10" height="10.70" rx="1.6" fill="#5aa874" stroke="#5e6660" stroke-width="0.8"/>
<text x="47.70" y="180.90" font-size="10.6" text-anchor="start" fill="#1a1a1a" font-weight="normal" textLength="44.20" lengthAdjust="spacingAndGlyphs" stroke="#1a1a1a" stroke-width="0.08">MYBBP1A</text>
<rect x="74.70" y="138.50" width="33.10" height="10.30" rx="1.6" fill="#5aa874" stroke="#5e6660" stroke-width="0.8"/>
<text x="76.90" y="147.40" font-size="10.6" text-anchor="start" fill="#1a1a1a" font-weight="normal" textLength="29.20" lengthAdjust="spacingAndGlyphs" stroke="#1a1a1a" stroke-width="0.08">GNAS</text>
<rect x="94.80" y="161.50" width="33.90" height="10.50" rx="1.6" fill="#5aa874" stroke="#5e6660" stroke-width="0.8"/>
<text x="97.00" y="170.60" font-size="10.6" text-anchor="start" fill="#1a1a1a" font-weight="normal" textLength="30.00" lengthAdjust="spacingAndGlyphs" stroke="#1a1a1a" stroke-width="0.08">MRC2</text>
<rect x="191.5" y="17.5" width="215" height="51" fill="none" stroke="#5a5a5a" stroke-width="1" stroke-dasharray="1.5,1.5"/>
<circle cx="196.20" cy="24.90" r="2.7" fill="#f2e06a"/>
<text x="201.40" y="28.30" font-size="11" text-anchor="start" fill="#2b2b2b" font-weight="normal" textLength="70.40" lengthAdjust="spacingAndGlyphs">bone enriched</text>
<circle cx="196.20" cy="37.20" r="2.7" fill="#8cc86e"/>
<text x="201.40" y="40.60" font-size="11" text-anchor="start" fill="#2b2b2b" font-weight="normal" textLength="199.30" lengthAdjust="spacingAndGlyphs">bone enriched (skeletal morphogenesis)</text>
<circle cx="196.20" cy="49.50" r="2.7" fill="#4ea56a"/>
<text x="201.40" y="52.90" font-size="11" text-anchor="start" fill="#2b2b2b" font-weight="normal" textLength="202.80" lengthAdjust="spacingAndGlyphs">bone enriched (osteoblast differentiation)</text>
<circle cx="196.20" cy="61.80" r="2.7" fill="#1f5a35"/>
<text x="201.40" y="65.20" font-size="11" text-anchor="start" fill="#2b2b2b" font-weight="normal" textLength="190.60" lengthAdjust="spacingAndGlyphs">bone enriched (collagen &amp; associated)</text>
<rect x="28.80" y="275.20" width="112.50" height="8.30" fill="#0c3a1d"/>
<text x="143.60" y="283.00" font-size="11" text-anchor="start" fill="#2b2b2b" font-weight="normal" textLength="49.80" lengthAdjust="spacingAndGlyphs">Ribosome</text>
<rect x="89.20" y="287.40" width="52.10" height="8.30" fill="#0c3a1d"/>
<text x="143.60" y="295.20" font-size="11" text-anchor="start" fill="#2b2b2b" font-weight="normal" textLength="63.30" lengthAdjust="spacingAndGlyphs">Spliceosome</text>
<rect x="120.10" y="299.40" width="21.20" height="8.30" fill="#0c3a1d"/>
<text x="143.60" y="307.20" font-size="11" text-anchor="start" fill="#2b2b2b" font-weight="normal" textLength="50.20" lengthAdjust="spacingAndGlyphs">Lysosome</text>
<rect x="131.80" y="311.30" width="9.50" height="8.30" fill="#0c3a1d"/>
<text x="143.60" y="319.10" font-size="11" text-anchor="start" fill="#2b2b2b" font-weight="normal" textLength="59.90" lengthAdjust="spacingAndGlyphs">Proteasome</text>
<rect x="133.00" y="323.30" width="8.30" height="8.30" fill="#0c3a1d"/>
<text x="143.60" y="331.10" font-size="11" text-anchor="start" fill="#2b2b2b" font-weight="normal" textLength="93.30" lengthAdjust="spacingAndGlyphs">N-glycan synthesis</text>
<rect x="133.40" y="335.10" width="7.90" height="8.30" fill="#0c3a1d"/>
<text x="143.60" y="342.90" font-size="11" text-anchor="start" fill="#2b2b2b" font-weight="normal" textLength="86.40" lengthAdjust="spacingAndGlyphs">GAG degradation</text>
<rect x="141.30" y="347.70" width="9.50" height="8.30" fill="#0c3a1d"/>
<text x="110.50" y="354.60" font-size="11" text-anchor="start" fill="#2b2b2b" font-weight="normal" textLength="21.90" lengthAdjust="spacingAndGlyphs">TCA</text>
<rect x="141.30" y="359.70" width="9.90" height="8.30" fill="#0c3a1d"/>
<text x="39.00" y="366.60" font-size="11" text-anchor="start" fill="#2b2b2b" font-weight="normal" textLength="94.90" lengthAdjust="spacingAndGlyphs">Retinol metabolism</text>
<rect x="141.30" y="371.90" width="10.20" height="8.30" fill="#0c3a1d"/>
<text x="133.60" y="378.80" font-size="11" text-anchor="end" fill="#2b2b2b" font-weight="normal">Peroxisome</text>
<rect x="141.30" y="383.80" width="10.40" height="8.30" fill="#0c3a1d"/>
<text x="11.20" y="390.70" font-size="11" text-anchor="start" fill="#2b2b2b" font-weight="normal" textLength="128.30" lengthAdjust="spacingAndGlyphs">ECM Receptor Interaction</text>
<rect x="141.30" y="395.90" width="13.90" height="8.30" fill="#0c3a1d"/>
<text x="45.70" y="402.80" font-size="11" text-anchor="start" fill="#2b2b2b" font-weight="normal" textLength="89.60" lengthAdjust="spacingAndGlyphs">Calcium Signaling</text>
<rect x="141.30" y="407.70" width="14.40" height="8.30" fill="#0c3a1d"/>
<text x="0.10" y="414.60" font-size="11" text-anchor="start" fill="#2b2b2b" font-weight="normal" textLength="139.40" lengthAdjust="spacingAndGlyphs">Glycolysis/Gluconeogenesis</text>
<rect x="141.30" y="420.00" width="19.60" height="8.30" fill="#0c3a1d"/>
<text x="133.00" y="426.90" font-size="11" text-anchor="end" fill="#2b2b2b" font-weight="normal">OxPhos</text>
<rect x="141.30" y="431.70" width="19.50" height="8.30" fill="#0c3a1d"/>
<text x="24.50" y="438.60" font-size="11" text-anchor="start" fill="#2b2b2b" font-weight="normal" textLength="111.80" lengthAdjust="spacingAndGlyphs">Fatty Acid Metabolism</text>
<line x1="141.30" y1="273.80" x2="141.30" y2="443.80" stroke="#2a2a2a" stroke-width="1.1"/>
<line x1="9.40" y1="443.70" x2="186.20" y2="443.70" stroke="#2a2a2a" stroke-width="1.1"/>
<line x1="9.40" y1="443.70" x2="9.40" y2="447.90" stroke="#2a2a2a" stroke-width="1.1"/>
<text x="9.40" y="458.60" font-size="11" text-anchor="middle" fill="#2b2b2b" font-weight="normal">-30</text>
<line x1="31.38" y1="443.70" x2="31.38" y2="447.90" stroke="#2a2a2a" stroke-width="1.1"/>
<text x="31.38" y="458.60" font-size="11" text-anchor="middle" fill="#2b2b2b" font-weight="normal">-25</text>
<line x1="53.36" y1="443.70" x2="53.36" y2="447.90" stroke="#2a2a2a" stroke-width="1.1"/>
<text x="53.36" y="458.60" font-size="11" text-anchor="middle" fill="#2b2b2b" font-weight="normal">-20</text>
<line x1="75.34" y1="443.70" x2="75.34" y2="447.90" stroke="#2a2a2a" stroke-width="1.1"/>
<text x="75.34" y="458.60" font-size="11" text-anchor="middle" fill="#2b2b2b" font-weight="normal">-15</text>
<line x1="97.32" y1="443.70" x2="97.32" y2="447.90" stroke="#2a2a2a" stroke-width="1.1"/>
<text x="97.32" y="458.60" font-size="11" text-anchor="middle" fill="#2b2b2b" font-weight="normal">-10</text>
<line x1="119.30" y1="443.70" x2="119.30" y2="447.90" stroke="#2a2a2a" stroke-width="1.1"/>
<text x="119.30" y="458.60" font-size="11" text-anchor="middle" fill="#2b2b2b" font-weight="normal">-5</text>
<line x1="141.28" y1="443.70" x2="141.28" y2="447.90" stroke="#2a2a2a" stroke-width="1.1"/>
<text x="142.98" y="458.60" font-size="11" text-anchor="middle" fill="#2b2b2b" font-weight="normal">0</text>
<line x1="163.26" y1="443.70" x2="163.26" y2="447.90" stroke="#2a2a2a" stroke-width="1.1"/>
<text x="164.96" y="458.60" font-size="11" text-anchor="middle" fill="#2b2b2b" font-weight="normal">5</text>
<line x1="185.24" y1="443.70" x2="185.24" y2="447.90" stroke="#2a2a2a" stroke-width="1.1"/>
<text x="186.94" y="458.60" font-size="11" text-anchor="middle" fill="#2b2b2b" font-weight="normal">10</text>
<text x="74.5" y="471" font-size="11" fill="#2b2b2b">-Log<tspan font-size="7" dy="2.5">10</tspan><tspan dy="-2.5">(q-value)</tspan></text>
<g id="vol"><polygon points="265.0,303.5 265.0,305.8 265.5,320.0 269.5,335.0 273.5,350.0 274.2,370.0 274.5,390.5 286.1,390.5 286.0,370.0 285.6,350.0 284.8,335.0 284.0,320.0 283.3,305.8 275.0,303.5" fill="#ecd91f"/><polygon points="299.5,311.0 297.0,320.0 295.0,340.0 293.6,360.0 293.6,380.0 293.6,390.5 308.5,390.5 308.0,380.0 307.5,360.0 307.5,340.0 306.5,320.0 304.5,311.0" fill="#ecd91f"/><circle cx="268.6" cy="329.0" r="1.8" fill="#ecd91f" fill-opacity="0.7"/><circle cx="272.4" cy="358.3" r="1.8" fill="#ecd91f" fill-opacity="0.7"/><circle cx="276.3" cy="348.0" r="1.8" fill="#ecd91f" fill-opacity="0.7"/><circle cx="273.9" cy="305.2" r="1.8" fill="#ecd91f" fill-opacity="0.7"/><circle cx="271.1" cy="303.4" r="1.8" fill="#ecd91f" fill-opacity="0.7"/><circle cx="265.0" cy="306.3" r="1.8" fill="#ecd91f" fill-opacity="0.7"/><circle cx="282.9" cy="338.0" r="1.8" fill="#ecd91f" fill-opacity="0.7"/><circle cx="268.0" cy="311.1" r="1.8" fill="#ecd91f" fill-opacity="0.7"/><circle cx="285.9" cy="356.2" r="1.8" fill="#ecd91f" fill-opacity="0.7"/><circle cx="277.2" cy="351.7" r="1.8" fill="#ecd91f" fill-opacity="0.7"/><circle cx="273.1" cy="387.4" r="1.8" fill="#ecd91f" fill-opacity="0.7"/><circle cx="276.3" cy="376.8" r="1.8" fill="#ecd91f" fill-opacity="0.7"/><circle cx="265.8" cy="312.9" r="1.8" fill="#ecd91f" fill-opacity="0.7"/><circle cx="281.8" cy="327.6" r="1.8" fill="#ecd91f" fill-opacity="0.7"/><circle cx="275.9" cy="316.2" r="1.8" fill="#ecd91f" fill-opacity="0.7"/><circle cx="277.0" cy="357.2" r="1.8" fill="#ecd91f" fill-opacity="0.7"/><circle cx="271.7" cy="349.0" r="1.8" fill="#ecd91f" fill-opacity="0.7"/><circle cx="267.4" cy="305.3" r="1.8" fill="#ecd91f" fill-opacity="0.7"/><circle cx="278.0" cy="360.9" r="1.8" fill="#ecd91f" fill-opacity="0.7"/><circle cx="277.2" cy="328.1" r="1.8" fill="#ecd91f" fill-opacity="0.7"/><circle cx="273.8" cy="340.6" r="1.8" fill="#ecd91f" fill-opacity="0.7"/><circle cx="282.3" cy="371.1" r="1.8" fill="#ecd91f" fill-opacity="0.7"/><circle cx="276.1" cy="321.8" r="1.8" fill="#ecd91f" fill-opacity="0.7"/><circle cx="284.4" cy="347.0" r="1.8" fill="#ecd91f" fill-opacity="0.7"/><circle cx="275.9" cy="365.3" r="1.8" fill="#ecd91f" fill-opacity="0.7"/><circle cx="274.1" cy="387.7" r="1.8" fill="#ecd91f" fill-opacity="0.7"/><circle cx="281.6" cy="337.4" r="1.8" fill="#ecd91f" fill-opacity="0.7"/><circle cx="273.8" cy="313.6" r="1.8" fill="#ecd91f" fill-opacity="0.7"/><circle cx="275.7" cy="303.5" r="1.8" fill="#ecd91f" fill-opacity="0.7"/><circle cx="280.4" cy="368.4" r="1.8" fill="#ecd91f" fill-opacity="0.7"/><circle cx="276.7" cy="378.4" r="1.8" fill="#ecd91f" fill-opacity="0.7"/><circle cx="280.5" cy="362.2" r="1.8" fill="#ecd91f" fill-opacity="0.7"/><circle cx="278.2" cy="351.9" r="1.8" fill="#ecd91f" fill-opacity="0.7"/><circle cx="286.1" cy="375.2" r="1.8" fill="#ecd91f" fill-opacity="0.7"/><circle cx="280.5" cy="342.4" r="1.8" fill="#ecd91f" fill-opacity="0.7"/><circle cx="278.1" cy="305.4" r="1.8" fill="#ecd91f" fill-opacity="0.7"/><circle cx="286.6" cy="357.9" r="1.8" fill="#ecd91f" fill-opacity="0.7"/><circle cx="276.1" cy="373.6" r="1.8" fill="#ecd91f" fill-opacity="0.7"/><circle cx="279.6" cy="334.5" r="1.8" fill="#ecd91f" fill-opacity="0.7"/><circle cx="270.6" cy="302.0" r="1.8" fill="#ecd91f" fill-opacity="0.7"/><circle cx="265.9" cy="315.0" r="1.8" fill="#ecd91f" fill-opacity="0.7"/><circle cx="279.5" cy="305.3" r="1.8" fill="#ecd91f" fill-opacity="0.7"/><circle cx="268.5" cy="311.6" r="1.8" fill="#ecd91f" fill-opacity="0.7"/><circle cx="283.6" cy="335.0" r="1.8" fill="#ecd91f" fill-opacity="0.7"/><circle cx="272.7" cy="307.2" r="1.8" fill="#ecd91f" fill-opacity="0.7"/><circle cx="284.7" cy="349.2" r="1.8" fill="#ecd91f" fill-opacity="0.7"/><circle cx="284.8" cy="373.3" r="1.8" fill="#ecd91f" fill-opacity="0.7"/><circle cx="273.2" cy="324.9" r="1.8" fill="#ecd91f" fill-opacity="0.7"/><circle cx="283.6" cy="332.1" r="1.8" fill="#ecd91f" fill-opacity="0.7"/><circle cx="274.5" cy="385.7" r="1.8" fill="#ecd91f" fill-opacity="0.7"/><circle cx="268.3" cy="315.8" r="1.8" fill="#ecd91f" fill-opacity="0.7"/><circle cx="274.1" cy="320.9" r="1.8" fill="#ecd91f" fill-opacity="0.7"/><circle cx="275.2" cy="352.7" r="1.8" fill="#ecd91f" fill-opacity="0.7"/><circle cx="268.7" cy="300.4" r="1.8" fill="#ecd91f" fill-opacity="0.7"/><circle cx="277.5" cy="333.0" r="1.8" fill="#ecd91f" fill-opacity="0.7"/><circle cx="282.5" cy="385.3" r="1.8" fill="#ecd91f" fill-opacity="0.7"/><circle cx="280.1" cy="346.1" r="1.8" fill="#ecd91f" fill-opacity="0.7"/><circle cx="272.2" cy="360.5" r="1.8" fill="#ecd91f" fill-opacity="0.7"/><circle cx="283.7" cy="380.5" r="1.8" fill="#ecd91f" fill-opacity="0.7"/><circle cx="283.9" cy="378.3" r="1.8" fill="#ecd91f" fill-opacity="0.7"/><circle cx="274.6" cy="335.1" r="1.8" fill="#ecd91f" fill-opacity="0.7"/><circle cx="276.8" cy="309.3" r="1.8" fill="#ecd91f" fill-opacity="0.7"/><circle cx="264.5" cy="305.6" r="1.8" fill="#ecd91f" fill-opacity="0.7"/><circle cx="266.9" cy="318.7" r="1.8" fill="#ecd91f" fill-opacity="0.7"/><circle cx="267.0" cy="330.4" r="1.8" fill="#ecd91f" fill-opacity="0.7"/><circle cx="265.0" cy="300.0" r="1.8" fill="#ecd91f" fill-opacity="0.7"/><circle cx="271.0" cy="309.1" r="1.8" fill="#ecd91f" fill-opacity="0.7"/><circle cx="277.8" cy="302.3" r="1.8" fill="#ecd91f" fill-opacity="0.7"/><circle cx="273.5" cy="355.0" r="1.8" fill="#ecd91f" fill-opacity="0.7"/><circle cx="271.4" cy="322.6" r="1.8" fill="#ecd91f" fill-opacity="0.7"/><circle cx="268.8" cy="332.6" r="1.8" fill="#ecd91f" fill-opacity="0.7"/><circle cx="286.8" cy="376.0" r="1.8" fill="#ecd91f" fill-opacity="0.7"/><circle cx="277.2" cy="341.7" r="1.8" fill="#ecd91f" fill-opacity="0.7"/><circle cx="265.3" cy="307.7" r="1.8" fill="#ecd91f" fill-opacity="0.7"/><circle cx="271.2" cy="330.7" r="1.8" fill="#ecd91f" fill-opacity="0.7"/><circle cx="274.3" cy="374.2" r="1.8" fill="#ecd91f" fill-opacity="0.7"/><circle cx="278.7" cy="302.1" r="1.8" fill="#ecd91f" fill-opacity="0.7"/><circle cx="272.7" cy="347.3" r="1.8" fill="#ecd91f" fill-opacity="0.7"/><circle cx="271.1" cy="348.6" r="1.8" fill="#ecd91f" fill-opacity="0.7"/><circle cx="286.1" cy="347.3" r="1.8" fill="#ecd91f" fill-opacity="0.7"/><circle cx="282.4" cy="377.3" r="1.8" fill="#ecd91f" fill-opacity="0.7"/><circle cx="272.0" cy="323.4" r="1.8" fill="#ecd91f" fill-opacity="0.7"/><circle cx="279.9" cy="315.0" r="1.8" fill="#ecd91f" fill-opacity="0.7"/><circle cx="282.9" cy="347.7" r="1.8" fill="#ecd91f" fill-opacity="0.7"/><circle cx="270.2" cy="329.5" r="1.8" fill="#ecd91f" fill-opacity="0.7"/><circle cx="286.7" cy="372.6" r="1.8" fill="#ecd91f" fill-opacity="0.7"/><circle cx="284.0" cy="376.3" r="1.8" fill="#ecd91f" fill-opacity="0.7"/><circle cx="283.0" cy="373.2" r="1.8" fill="#ecd91f" fill-opacity="0.7"/><circle cx="274.7" cy="320.3" r="1.8" fill="#ecd91f" fill-opacity="0.7"/><circle cx="266.8" cy="331.8" r="1.8" fill="#ecd91f" fill-opacity="0.7"/><circle cx="267.8" cy="302.5" r="1.8" fill="#ecd91f" fill-opacity="0.7"/><circle cx="278.8" cy="323.2" r="1.8" fill="#ecd91f" fill-opacity="0.7"/><circle cx="278.9" cy="385.6" r="1.8" fill="#ecd91f" fill-opacity="0.7"/><circle cx="286.8" cy="383.9" r="1.8" fill="#ecd91f" fill-opacity="0.7"/><circle cx="277.7" cy="385.5" r="1.8" fill="#ecd91f" fill-opacity="0.7"/><circle cx="268.4" cy="319.7" r="1.8" fill="#ecd91f" fill-opacity="0.7"/><circle cx="267.8" cy="317.6" r="1.8" fill="#ecd91f" fill-opacity="0.7"/><circle cx="285.1" cy="355.9" r="1.8" fill="#ecd91f" fill-opacity="0.7"/><circle cx="279.1" cy="375.2" r="1.8" fill="#ecd91f" fill-opacity="0.7"/><circle cx="283.6" cy="358.4" r="1.8" fill="#ecd91f" fill-opacity="0.7"/><circle cx="277.3" cy="307.6" r="1.8" fill="#ecd91f" fill-opacity="0.7"/><circle cx="283.8" cy="381.4" r="1.8" fill="#ecd91f" fill-opacity="0.7"/><circle cx="278.9" cy="367.1" r="1.8" fill="#ecd91f" fill-opacity="0.7"/><circle cx="280.3" cy="316.0" r="1.8" fill="#ecd91f" fill-opacity="0.7"/><circle cx="281.7" cy="329.8" r="1.8" fill="#ecd91f" fill-opacity="0.7"/><circle cx="278.2" cy="387.0" r="1.8" fill="#ecd91f" fill-opacity="0.7"/><circle cx="285.0" cy="335.9" r="1.8" fill="#ecd91f" fill-opacity="0.7"/><circle cx="274.1" cy="364.9" r="1.8" fill="#ecd91f" fill-opacity="0.7"/><circle cx="266.5" cy="311.4" r="1.8" fill="#ecd91f" fill-opacity="0.7"/><circle cx="284.1" cy="381.0" r="1.8" fill="#ecd91f" fill-opacity="0.7"/><circle cx="281.0" cy="313.1" r="1.8" fill="#ecd91f" fill-opacity="0.7"/><circle cx="282.0" cy="387.7" r="1.8" fill="#ecd91f" fill-opacity="0.7"/><circle cx="276.9" cy="331.4" r="1.8" fill="#ecd91f" fill-opacity="0.7"/><circle cx="263.5" cy="311.7" r="1.8" fill="#ecd91f" fill-opacity="0.7"/><circle cx="281.9" cy="386.9" r="1.8" fill="#ecd91f" fill-opacity="0.7"/><circle cx="285.4" cy="347.1" r="1.8" fill="#ecd91f" fill-opacity="0.7"/><circle cx="283.8" cy="338.8" r="1.8" fill="#ecd91f" fill-opacity="0.7"/><circle cx="275.1" cy="373.9" r="1.8" fill="#ecd91f" fill-opacity="0.7"/><circle cx="270.3" cy="322.5" r="1.8" fill="#ecd91f" fill-opacity="0.7"/><circle cx="276.3" cy="321.5" r="1.8" fill="#ecd91f" fill-opacity="0.7"/><circle cx="273.0" cy="323.2" r="1.8" fill="#ecd91f" fill-opacity="0.7"/><circle cx="282.8" cy="311.7" r="1.8" fill="#ecd91f" fill-opacity="0.7"/><circle cx="275.2" cy="331.7" r="1.8" fill="#ecd91f" fill-opacity="0.7"/><circle cx="285.1" cy="352.2" r="1.8" fill="#ecd91f" fill-opacity="0.7"/><circle cx="284.6" cy="337.6" r="1.8" fill="#ecd91f" fill-opacity="0.7"/><circle cx="278.6" cy="344.9" r="1.8" fill="#ecd91f" fill-opacity="0.7"/><circle cx="270.5" cy="346.9" r="1.8" fill="#ecd91f" fill-opacity="0.7"/><circle cx="271.5" cy="339.4" r="1.8" fill="#ecd91f" fill-opacity="0.7"/><circle cx="273.9" cy="300.4" r="1.8" fill="#ecd91f" fill-opacity="0.7"/><circle cx="273.5" cy="315.4" r="1.8" fill="#ecd91f" fill-opacity="0.7"/><circle cx="280.0" cy="364.9" r="1.8" fill="#ecd91f" fill-opacity="0.7"/><circle cx="276.0" cy="329.2" r="1.8" fill="#ecd91f" fill-opacity="0.7"/><circle cx="283.2" cy="349.7" r="1.8" fill="#ecd91f" fill-opacity="0.7"/><circle cx="275.2" cy="309.5" r="1.8" fill="#ecd91f" fill-opacity="0.7"/><circle cx="269.9" cy="322.2" r="1.8" fill="#ecd91f" fill-opacity="0.7"/><circle cx="279.4" cy="369.1" r="1.8" fill="#ecd91f" fill-opacity="0.7"/><circle cx="282.9" cy="350.3" r="1.8" fill="#ecd91f" fill-opacity="0.7"/><circle cx="278.7" cy="381.7" r="1.8" fill="#ecd91f" fill-opacity="0.7"/><circle cx="279.0" cy="354.8" r="1.8" fill="#ecd91f" fill-opacity="0.7"/><circle cx="281.4" cy="345.8" r="1.8" fill="#ecd91f" fill-opacity="0.7"/><circle cx="277.9" cy="340.5" r="1.8" fill="#ecd91f" fill-opacity="0.7"/><circle cx="285.3" cy="342.8" r="1.8" fill="#ecd91f" fill-opacity="0.7"/><circle cx="284.9" cy="362.6" r="1.8" fill="#ecd91f" fill-opacity="0.7"/><circle cx="276.1" cy="384.3" r="1.8" fill="#ecd91f" fill-opacity="0.7"/><circle cx="285.7" cy="350.1" r="1.8" fill="#ecd91f" fill-opacity="0.7"/><circle cx="274.0" cy="375.2" r="1.8" fill="#ecd91f" fill-opacity="0.7"/><circle cx="272.7" cy="310.9" r="1.8" fill="#ecd91f" fill-opacity="0.7"/><circle cx="268.2" cy="306.5" r="1.8" fill="#ecd91f" fill-opacity="0.7"/><circle cx="277.4" cy="306.5" r="1.8" fill="#ecd91f" fill-opacity="0.7"/><circle cx="285.3" cy="370.2" r="1.8" fill="#ecd91f" fill-opacity="0.7"/><circle cx="278.7" cy="313.8" r="1.8" fill="#ecd91f" fill-opacity="0.7"/><circle cx="273.5" cy="359.1" r="1.8" fill="#ecd91f" fill-opacity="0.7"/><circle cx="286.5" cy="379.0" r="1.8" fill="#ecd91f" fill-opacity="0.7"/><circle cx="284.0" cy="319.7" r="1.8" fill="#ecd91f" fill-opacity="0.7"/><circle cx="276.4" cy="335.6" r="1.8" fill="#ecd91f" fill-opacity="0.7"/><circle cx="284.6" cy="388.6" r="1.8" fill="#ecd91f" fill-opacity="0.7"/><circle cx="272.6" cy="314.5" r="1.8" fill="#ecd91f" fill-opacity="0.7"/><circle cx="275.6" cy="346.1" r="1.8" fill="#ecd91f" fill-opacity="0.7"/><circle cx="270.3" cy="317.5" r="1.8" fill="#ecd91f" fill-opacity="0.7"/><circle cx="271.8" cy="364.6" r="1.8" fill="#ecd91f" fill-opacity="0.7"/><circle cx="277.8" cy="349.6" r="1.8" fill="#ecd91f" fill-opacity="0.7"/><circle cx="268.2" cy="301.6" r="1.8" fill="#ecd91f" fill-opacity="0.7"/><circle cx="279.1" cy="355.8" r="1.8" fill="#ecd91f" fill-opacity="0.7"/><circle cx="284.2" cy="305.8" r="1.8" fill="#ecd91f" fill-opacity="0.7"/><circle cx="286.4" cy="370.6" r="1.8" fill="#ecd91f" fill-opacity="0.7"/><circle cx="268.9" cy="309.4" r="1.8" fill="#ecd91f" fill-opacity="0.7"/><circle cx="277.8" cy="303.5" r="1.8" fill="#ecd91f" fill-opacity="0.7"/><circle cx="267.2" cy="324.2" r="1.8" fill="#ecd91f" fill-opacity="0.7"/><circle cx="284.5" cy="337.8" r="1.8" fill="#ecd91f" fill-opacity="0.7"/><circle cx="275.7" cy="373.3" r="1.8" fill="#ecd91f" fill-opacity="0.7"/><circle cx="283.0" cy="313.4" r="1.8" fill="#ecd91f" fill-opacity="0.7"/><circle cx="281.9" cy="351.1" r="1.8" fill="#ecd91f" fill-opacity="0.7"/><circle cx="264.3" cy="308.0" r="1.8" fill="#ecd91f" fill-opacity="0.7"/><circle cx="277.9" cy="361.6" r="1.8" fill="#ecd91f" fill-opacity="0.7"/><circle cx="283.2" cy="306.5" r="1.8" fill="#ecd91f" fill-opacity="0.7"/><circle cx="283.6" cy="356.8" r="1.8" fill="#ecd91f" fill-opacity="0.7"/><circle cx="281.5" cy="307.5" r="1.8" fill="#ecd91f" fill-opacity="0.7"/><circle cx="281.6" cy="306.0" r="1.8" fill="#ecd91f" fill-opacity="0.7"/><circle cx="274.5" cy="340.6" r="1.8" fill="#ecd91f" fill-opacity="0.7"/><circle cx="285.4" cy="349.5" r="1.8" fill="#ecd91f" fill-opacity="0.7"/><circle cx="267.1" cy="324.0" r="1.8" fill="#ecd91f" fill-opacity="0.7"/><circle cx="274.1" cy="347.2" r="1.8" fill="#ecd91f" fill-opacity="0.7"/><circle cx="266.6" cy="309.8" r="1.8" fill="#ecd91f" fill-opacity="0.7"/><circle cx="267.2" cy="304.5" r="1.8" fill="#ecd91f" fill-opacity="0.7"/><circle cx="271.5" cy="327.9" r="1.8" fill="#ecd91f" fill-opacity="0.7"/><circle cx="276.1" cy="368.0" r="1.8" fill="#ecd91f" fill-opacity="0.7"/><circle cx="272.6" cy="344.8" r="1.8" fill="#ecd91f" fill-opacity="0.7"/><circle cx="266.4" cy="331.1" r="1.8" fill="#ecd91f" fill-opacity="0.7"/><circle cx="264.4" cy="322.4" r="1.8" fill="#ecd91f" fill-opacity="0.7"/><circle cx="280.0" cy="365.6" r="1.8" fill="#ecd91f" fill-opacity="0.7"/><circle cx="273.6" cy="317.0" r="1.8" fill="#ecd91f" fill-opacity="0.7"/><circle cx="273.8" cy="383.7" r="1.8" fill="#ecd91f" fill-opacity="0.7"/><circle cx="278.4" cy="373.3" r="1.8" fill="#ecd91f" fill-opacity="0.7"/><circle cx="283.6" cy="344.3" r="1.8" fill="#ecd91f" fill-opacity="0.7"/><circle cx="276.7" cy="335.2" r="1.8" fill="#ecd91f" fill-opacity="0.7"/><circle cx="286.5" cy="361.6" r="1.8" fill="#ecd91f" fill-opacity="0.7"/><circle cx="282.4" cy="330.7" r="1.8" fill="#ecd91f" fill-opacity="0.7"/><circle cx="281.2" cy="363.3" r="1.8" fill="#ecd91f" fill-opacity="0.7"/><circle cx="273.8" cy="336.2" r="1.8" fill="#ecd91f" fill-opacity="0.7"/><circle cx="265.8" cy="304.9" r="1.8" fill="#ecd91f" fill-opacity="0.7"/><circle cx="279.0" cy="306.3" r="1.8" fill="#ecd91f" fill-opacity="0.7"/><circle cx="267.6" cy="322.9" r="1.8" fill="#ecd91f" fill-opacity="0.7"/><circle cx="281.2" cy="307.6" r="1.8" fill="#ecd91f" fill-opacity="0.7"/><circle cx="282.0" cy="377.9" r="1.8" fill="#ecd91f" fill-opacity="0.7"/><circle cx="269.7" cy="325.2" r="1.8" fill="#ecd91f" fill-opacity="0.7"/><circle cx="274.4" cy="326.2" r="1.8" fill="#ecd91f" fill-opacity="0.7"/><circle cx="272.9" cy="314.1" r="1.8" fill="#ecd91f" fill-opacity="0.7"/><circle cx="284.4" cy="323.6" r="1.8" fill="#ecd91f" fill-opacity="0.7"/><circle cx="280.4" cy="387.0" r="1.8" fill="#ecd91f" fill-opacity="0.7"/><circle cx="284.4" cy="321.9" r="1.8" fill="#ecd91f" fill-opacity="0.7"/><circle cx="272.5" cy="327.7" r="1.8" fill="#ecd91f" fill-opacity="0.7"/><circle cx="268.0" cy="300.1" r="1.8" fill="#ecd91f" fill-opacity="0.7"/><circle cx="277.7" cy="342.5" r="1.8" fill="#ecd91f" fill-opacity="0.7"/><circle cx="274.3" cy="318.0" r="1.8" fill="#ecd91f" fill-opacity="0.7"/><circle cx="266.6" cy="300.4" r="1.8" fill="#ecd91f" fill-opacity="0.7"/><circle cx="271.7" cy="308.0" r="1.8" fill="#ecd91f" fill-opacity="0.7"/><circle cx="263.4" cy="303.7" r="1.8" fill="#ecd91f" fill-opacity="0.7"/><circle cx="269.9" cy="327.2" r="1.8" fill="#ecd91f" fill-opacity="0.7"/><circle cx="279.3" cy="352.4" r="1.8" fill="#ecd91f" fill-opacity="0.7"/><circle cx="281.6" cy="367.2" r="1.8" fill="#ecd91f" fill-opacity="0.7"/><circle cx="284.9" cy="364.1" r="1.8" fill="#ecd91f" fill-opacity="0.7"/><circle cx="273.2" cy="334.9" r="1.8" fill="#ecd91f" fill-opacity="0.7"/><circle cx="274.6" cy="388.1" r="1.8" fill="#ecd91f" fill-opacity="0.7"/><circle cx="281.3" cy="364.8" r="1.8" fill="#ecd91f" fill-opacity="0.7"/><circle cx="279.4" cy="303.9" r="1.8" fill="#ecd91f" fill-opacity="0.7"/><circle cx="281.4" cy="379.8" r="1.8" fill="#ecd91f" fill-opacity="0.7"/><circle cx="283.9" cy="365.7" r="1.8" fill="#ecd91f" fill-opacity="0.7"/><circle cx="274.5" cy="312.5" r="1.8" fill="#ecd91f" fill-opacity="0.7"/><circle cx="283.6" cy="345.1" r="1.8" fill="#ecd91f" fill-opacity="0.7"/><circle cx="284.3" cy="372.0" r="1.8" fill="#ecd91f" fill-opacity="0.7"/><circle cx="285.0" cy="352.3" r="1.8" fill="#ecd91f" fill-opacity="0.7"/><circle cx="282.0" cy="361.1" r="1.8" fill="#ecd91f" fill-opacity="0.7"/><circle cx="264.3" cy="320.6" r="1.8" fill="#ecd91f" fill-opacity="0.7"/><circle cx="271.0" cy="311.9" r="1.8" fill="#ecd91f" fill-opacity="0.7"/><circle cx="281.1" cy="309.4" r="1.8" fill="#ecd91f" fill-opacity="0.7"/><circle cx="280.8" cy="350.0" r="1.8" fill="#ecd91f" fill-opacity="0.7"/><circle cx="281.7" cy="356.0" r="1.8" fill="#ecd91f" fill-opacity="0.7"/><circle cx="269.4" cy="343.8" r="1.8" fill="#ecd91f" fill-opacity="0.7"/><circle cx="283.1" cy="371.4" r="1.8" fill="#ecd91f" fill-opacity="0.7"/><circle cx="278.6" cy="345.0" r="1.8" fill="#ecd91f" fill-opacity="0.7"/><circle cx="272.3" cy="359.0" r="1.8" fill="#ecd91f" fill-opacity="0.7"/><circle cx="275.4" cy="365.9" r="1.8" fill="#ecd91f" fill-opacity="0.7"/><circle cx="268.8" cy="306.7" r="1.8" fill="#ecd91f" fill-opacity="0.7"/><circle cx="274.7" cy="365.3" r="1.8" fill="#ecd91f" fill-opacity="0.7"/><circle cx="286.4" cy="366.2" r="1.8" fill="#ecd91f" fill-opacity="0.7"/><circle cx="275.9" cy="344.2" r="1.8" fill="#ecd91f" fill-opacity="0.7"/><circle cx="280.9" cy="342.9" r="1.8" fill="#ecd91f" fill-opacity="0.7"/><circle cx="281.0" cy="368.6" r="1.8" fill="#ecd91f" fill-opacity="0.7"/><circle cx="272.5" cy="357.5" r="1.8" fill="#ecd91f" fill-opacity="0.7"/><circle cx="268.7" cy="313.2" r="1.8" fill="#ecd91f" fill-opacity="0.7"/><circle cx="276.2" cy="366.5" r="1.8" fill="#ecd91f" fill-opacity="0.7"/><circle cx="271.2" cy="350.8" r="1.8" fill="#ecd91f" fill-opacity="0.7"/><circle cx="268.8" cy="305.4" r="1.8" fill="#ecd91f" fill-opacity="0.7"/><circle cx="282.0" cy="360.1" r="1.8" fill="#ecd91f" fill-opacity="0.7"/><circle cx="275.9" cy="360.5" r="1.8" fill="#ecd91f" fill-opacity="0.7"/><circle cx="277.6" cy="346.2" r="1.8" fill="#ecd91f" fill-opacity="0.7"/><circle cx="270.9" cy="341.7" r="1.8" fill="#ecd91f" fill-opacity="0.7"/><circle cx="275.1" cy="380.0" r="1.8" fill="#ecd91f" fill-opacity="0.7"/><circle cx="286.1" cy="387.5" r="1.8" fill="#ecd91f" fill-opacity="0.7"/><circle cx="270.2" cy="301.6" r="1.8" fill="#ecd91f" fill-opacity="0.7"/><circle cx="286.4" cy="373.4" r="1.8" fill="#ecd91f" fill-opacity="0.7"/><circle cx="273.2" cy="340.2" r="1.8" fill="#ecd91f" fill-opacity="0.7"/><circle cx="283.8" cy="318.8" r="1.8" fill="#ecd91f" fill-opacity="0.7"/><circle cx="276.0" cy="318.9" r="1.8" fill="#ecd91f" fill-opacity="0.7"/><circle cx="274.5" cy="312.7" r="1.8" fill="#ecd91f" fill-opacity="0.7"/><circle cx="274.3" cy="385.3" r="1.8" fill="#ecd91f" fill-opacity="0.7"/><circle cx="279.5" cy="373.4" r="1.8" fill="#ecd91f" fill-opacity="0.7"/><circle cx="282.5" cy="379.4" r="1.8" fill="#ecd91f" fill-opacity="0.7"/><circle cx="282.9" cy="320.7" r="1.8" fill="#ecd91f" fill-opacity="0.7"/><circle cx="269.7" cy="343.5" r="1.8" fill="#ecd91f" fill-opacity="0.7"/><circle cx="269.7" cy="300.3" r="1.8" fill="#ecd91f" fill-opacity="0.7"/><circle cx="273.8" cy="340.3" r="1.8" fill="#ecd91f" fill-opacity="0.7"/><circle cx="270.6" cy="312.6" r="1.8" fill="#ecd91f" fill-opacity="0.7"/><circle cx="282.3" cy="328.3" r="1.8" fill="#ecd91f" fill-opacity="0.7"/><circle cx="273.0" cy="300.2" r="1.8" fill="#ecd91f" fill-opacity="0.7"/><circle cx="273.7" cy="375.1" r="1.8" fill="#ecd91f" fill-opacity="0.7"/><circle cx="282.8" cy="382.9" r="1.8" fill="#ecd91f" fill-opacity="0.7"/><circle cx="276.4" cy="380.7" r="1.8" fill="#ecd91f" fill-opacity="0.7"/><circle cx="274.2" cy="333.3" r="1.8" fill="#ecd91f" fill-opacity="0.7"/><circle cx="281.1" cy="389.4" r="1.8" fill="#ecd91f" fill-opacity="0.7"/><circle cx="274.7" cy="332.3" r="1.8" fill="#ecd91f" fill-opacity="0.7"/><circle cx="265.6" cy="324.6" r="1.8" fill="#ecd91f" fill-opacity="0.7"/><circle cx="281.1" cy="309.1" r="1.8" fill="#ecd91f" fill-opacity="0.7"/><circle cx="284.0" cy="325.6" r="1.8" fill="#ecd91f" fill-opacity="0.7"/><circle cx="269.7" cy="322.3" r="1.8" fill="#ecd91f" fill-opacity="0.7"/><circle cx="273.0" cy="345.7" r="1.8" fill="#ecd91f" fill-opacity="0.7"/><circle cx="285.0" cy="333.4" r="1.8" fill="#ecd91f" fill-opacity="0.7"/><circle cx="284.2" cy="379.1" r="1.8" fill="#ecd91f" fill-opacity="0.7"/><circle cx="285.3" cy="356.5" r="1.8" fill="#ecd91f" fill-opacity="0.7"/><circle cx="280.4" cy="384.2" r="1.8" fill="#ecd91f" fill-opacity="0.7"/><circle cx="272.3" cy="364.4" r="1.8" fill="#ecd91f" fill-opacity="0.7"/><circle cx="278.4" cy="365.5" r="1.8" fill="#ecd91f" fill-opacity="0.7"/><circle cx="281.4" cy="367.4" r="1.8" fill="#ecd91f" fill-opacity="0.7"/><circle cx="265.8" cy="325.6" r="1.8" fill="#ecd91f" fill-opacity="0.7"/><circle cx="274.1" cy="382.9" r="1.8" fill="#ecd91f" fill-opacity="0.7"/><circle cx="274.9" cy="342.3" r="1.8" fill="#ecd91f" fill-opacity="0.7"/><circle cx="280.1" cy="326.7" r="1.8" fill="#ecd91f" fill-opacity="0.7"/><circle cx="276.2" cy="387.4" r="1.8" fill="#ecd91f" fill-opacity="0.7"/><circle cx="276.0" cy="358.7" r="1.8" fill="#ecd91f" fill-opacity="0.7"/><circle cx="277.1" cy="349.9" r="1.8" fill="#ecd91f" fill-opacity="0.7"/><circle cx="266.8" cy="315.0" r="1.8" fill="#ecd91f" fill-opacity="0.7"/><circle cx="282.9" cy="318.6" r="1.8" fill="#ecd91f" fill-opacity="0.7"/><circle cx="273.2" cy="344.5" r="1.8" fill="#ecd91f" fill-opacity="0.7"/><circle cx="286.9" cy="381.1" r="1.8" fill="#ecd91f" fill-opacity="0.7"/><circle cx="270.9" cy="340.3" r="1.8" fill="#ecd91f" fill-opacity="0.7"/><circle cx="265.4" cy="317.2" r="1.8" fill="#ecd91f" fill-opacity="0.7"/><circle cx="267.8" cy="330.6" r="1.8" fill="#ecd91f" fill-opacity="0.7"/><circle cx="269.3" cy="321.4" r="1.8" fill="#ecd91f" fill-opacity="0.7"/><circle cx="284.9" cy="351.0" r="1.8" fill="#ecd91f" fill-opacity="0.7"/><circle cx="277.9" cy="367.1" r="1.8" fill="#ecd91f" fill-opacity="0.7"/><circle cx="277.3" cy="337.0" r="1.8" fill="#ecd91f" fill-opacity="0.7"/><circle cx="273.2" cy="333.7" r="1.8" fill="#ecd91f" fill-opacity="0.7"/><circle cx="269.0" cy="305.6" r="1.8" fill="#ecd91f" fill-opacity="0.7"/><circle cx="274.2" cy="386.6" r="1.8" fill="#ecd91f" fill-opacity="0.7"/><circle cx="280.2" cy="345.1" r="1.8" fill="#ecd91f" fill-opacity="0.7"/><circle cx="275.2" cy="377.2" r="1.8" fill="#ecd91f" fill-opacity="0.7"/><circle cx="269.7" cy="324.3" r="1.8" fill="#ecd91f" fill-opacity="0.7"/><circle cx="275.6" cy="335.8" r="1.8" fill="#ecd91f" fill-opacity="0.7"/><circle cx="284.8" cy="385.4" r="1.8" fill="#ecd91f" fill-opacity="0.7"/><circle cx="272.4" cy="378.1" r="1.8" fill="#ecd91f" fill-opacity="0.7"/><circle cx="275.7" cy="302.9" r="1.8" fill="#ecd91f" fill-opacity="0.7"/><circle cx="279.1" cy="380.2" r="1.8" fill="#ecd91f" fill-opacity="0.7"/><circle cx="271.1" cy="352.6" r="1.8" fill="#ecd91f" fill-opacity="0.7"/><circle cx="284.6" cy="335.0" r="1.8" fill="#ecd91f" fill-opacity="0.7"/><circle cx="284.7" cy="373.9" r="1.8" fill="#ecd91f" fill-opacity="0.7"/><circle cx="276.0" cy="387.0" r="1.8" fill="#ecd91f" fill-opacity="0.7"/><circle cx="266.5" cy="309.8" r="1.8" fill="#ecd91f" fill-opacity="0.7"/><circle cx="281.3" cy="346.8" r="1.8" fill="#ecd91f" fill-opacity="0.7"/><circle cx="282.9" cy="384.3" r="1.8" fill="#ecd91f" fill-opacity="0.7"/><circle cx="283.1" cy="357.9" r="1.8" fill="#ecd91f" fill-opacity="0.7"/><circle cx="278.3" cy="340.9" r="1.8" fill="#ecd91f" fill-opacity="0.7"/><circle cx="277.9" cy="303.5" r="1.8" fill="#ecd91f" fill-opacity="0.7"/><circle cx="283.3" cy="320.8" r="1.8" fill="#ecd91f" fill-opacity="0.7"/><circle cx="276.0" cy="357.8" r="1.8" fill="#ecd91f" fill-opacity="0.7"/><circle cx="268.6" cy="311.5" r="1.8" fill="#ecd91f" fill-opacity="0.7"/><circle cx="282.0" cy="356.9" r="1.8" fill="#ecd91f" fill-opacity="0.7"/><circle cx="264.7" cy="310.0" r="1.8" fill="#ecd91f" fill-opacity="0.7"/><circle cx="279.7" cy="346.9" r="1.8" fill="#ecd91f" fill-opacity="0.7"/><circle cx="271.2" cy="334.7" r="1.8" fill="#ecd91f" fill-opacity="0.7"/><circle cx="271.3" cy="353.8" r="1.8" fill="#ecd91f" fill-opacity="0.7"/><circle cx="274.5" cy="327.0" r="1.8" fill="#ecd91f" fill-opacity="0.7"/><circle cx="281.8" cy="385.8" r="1.8" fill="#ecd91f" fill-opacity="0.7"/><circle cx="279.2" cy="379.1" r="1.8" fill="#ecd91f" fill-opacity="0.7"/><circle cx="269.0" cy="321.0" r="1.8" fill="#ecd91f" fill-opacity="0.7"/><circle cx="282.7" cy="386.0" r="1.8" fill="#ecd91f" fill-opacity="0.7"/><circle cx="265.7" cy="327.5" r="1.8" fill="#ecd91f" fill-opacity="0.7"/><circle cx="280.9" cy="344.6" r="1.8" fill="#ecd91f" fill-opacity="0.7"/><circle cx="272.4" cy="337.6" r="1.8" fill="#ecd91f" fill-opacity="0.7"/><circle cx="285.6" cy="359.7" r="1.8" fill="#ecd91f" fill-opacity="0.7"/><circle cx="264.3" cy="320.3" r="1.8" fill="#ecd91f" fill-opacity="0.7"/><circle cx="274.2" cy="330.3" r="1.8" fill="#ecd91f" fill-opacity="0.7"/><circle cx="274.4" cy="361.1" r="1.8" fill="#ecd91f" fill-opacity="0.7"/><circle cx="282.9" cy="371.3" r="1.8" fill="#ecd91f" fill-opacity="0.7"/><circle cx="273.1" cy="345.2" r="1.8" fill="#ecd91f" fill-opacity="0.7"/><circle cx="276.9" cy="386.8" r="1.8" fill="#ecd91f" fill-opacity="0.7"/><circle cx="275.3" cy="373.4" r="1.8" fill="#ecd91f" fill-opacity="0.7"/><circle cx="279.8" cy="319.8" r="1.8" fill="#ecd91f" fill-opacity="0.7"/><circle cx="284.4" cy="326.4" r="1.8" fill="#ecd91f" fill-opacity="0.7"/><circle cx="272.7" cy="344.4" r="1.8" fill="#ecd91f" fill-opacity="0.7"/><circle cx="272.5" cy="320.0" r="1.8" fill="#ecd91f" fill-opacity="0.7"/><circle cx="285.9" cy="359.5" r="1.8" fill="#ecd91f" fill-opacity="0.7"/><circle cx="271.7" cy="313.1" r="1.8" fill="#ecd91f" fill-opacity="0.7"/><circle cx="284.4" cy="319.1" r="1.8" fill="#ecd91f" fill-opacity="0.7"/><circle cx="264.4" cy="312.7" r="1.8" fill="#ecd91f" fill-opacity="0.7"/><circle cx="271.5" cy="305.4" r="1.8" fill="#ecd91f" fill-opacity="0.7"/><circle cx="285.2" cy="380.4" r="1.8" fill="#ecd91f" fill-opacity="0.7"/><circle cx="286.8" cy="365.6" r="1.8" fill="#ecd91f" fill-opacity="0.7"/><circle cx="277.1" cy="383.4" r="1.8" fill="#ecd91f" fill-opacity="0.7"/><circle cx="283.5" cy="316.6" r="1.8" fill="#ecd91f" fill-opacity="0.7"/><circle cx="272.1" cy="366.8" r="1.8" fill="#ecd91f" fill-opacity="0.7"/><circle cx="277.2" cy="359.5" r="1.8" fill="#ecd91f" fill-opacity="0.7"/><circle cx="273.0" cy="333.5" r="1.8" fill="#ecd91f" fill-opacity="0.7"/><circle cx="263.4" cy="315.1" r="1.8" fill="#ecd91f" fill-opacity="0.7"/><circle cx="271.9" cy="325.0" r="1.8" fill="#ecd91f" fill-opacity="0.7"/><circle cx="274.1" cy="385.5" r="1.8" fill="#ecd91f" fill-opacity="0.7"/><circle cx="275.4" cy="386.3" r="1.8" fill="#ecd91f" fill-opacity="0.7"/><circle cx="282.3" cy="331.9" r="1.8" fill="#ecd91f" fill-opacity="0.7"/><circle cx="278.4" cy="373.6" r="1.8" fill="#ecd91f" fill-opacity="0.7"/><circle cx="272.7" cy="304.4" r="1.8" fill="#ecd91f" fill-opacity="0.7"/><circle cx="284.3" cy="333.4" r="1.8" fill="#ecd91f" fill-opacity="0.7"/><circle cx="271.2" cy="317.3" r="1.8" fill="#ecd91f" fill-opacity="0.7"/><circle cx="272.6" cy="380.3" r="1.8" fill="#ecd91f" fill-opacity="0.7"/><circle cx="282.6" cy="336.8" r="1.8" fill="#ecd91f" fill-opacity="0.7"/><circle cx="272.3" cy="368.6" r="1.8" fill="#ecd91f" fill-opacity="0.7"/><circle cx="264.1" cy="303.1" r="1.8" fill="#ecd91f" fill-opacity="0.7"/><circle cx="276.0" cy="382.3" r="1.8" fill="#ecd91f" fill-opacity="0.7"/><circle cx="285.3" cy="366.9" r="1.8" fill="#ecd91f" fill-opacity="0.7"/><circle cx="271.3" cy="330.3" r="1.8" fill="#ecd91f" fill-opacity="0.7"/><circle cx="281.4" cy="385.7" r="1.8" fill="#ecd91f" fill-opacity="0.7"/><circle cx="279.3" cy="323.5" r="1.8" fill="#ecd91f" fill-opacity="0.7"/><circle cx="271.0" cy="328.3" r="1.8" fill="#ecd91f" fill-opacity="0.7"/><circle cx="273.3" cy="300.3" r="1.8" fill="#ecd91f" fill-opacity="0.7"/><circle cx="281.6" cy="382.0" r="1.8" fill="#ecd91f" fill-opacity="0.7"/><circle cx="272.6" cy="384.4" r="1.8" fill="#ecd91f" fill-opacity="0.7"/><circle cx="273.9" cy="320.9" r="1.8" fill="#ecd91f" fill-opacity="0.7"/><circle cx="286.4" cy="385.6" r="1.8" fill="#ecd91f" fill-opacity="0.7"/><circle cx="271.7" cy="334.6" r="1.8" fill="#ecd91f" fill-opacity="0.7"/><circle cx="276.9" cy="338.5" r="1.8" fill="#ecd91f" fill-opacity="0.7"/><circle cx="274.9" cy="383.1" r="1.8" fill="#ecd91f" fill-opacity="0.7"/><circle cx="282.9" cy="371.8" r="1.8" fill="#ecd91f" fill-opacity="0.7"/><circle cx="283.5" cy="373.6" r="1.8" fill="#ecd91f" fill-opacity="0.7"/><circle cx="276.2" cy="354.3" r="1.8" fill="#ecd91f" fill-opacity="0.7"/><circle cx="272.8" cy="328.6" r="1.8" fill="#ecd91f" fill-opacity="0.7"/><circle cx="272.9" cy="370.0" r="1.8" fill="#ecd91f" fill-opacity="0.7"/><circle cx="279.6" cy="317.7" r="1.8" fill="#ecd91f" fill-opacity="0.7"/><circle cx="265.4" cy="322.1" r="1.8" fill="#ecd91f" fill-opacity="0.7"/><circle cx="273.0" cy="303.0" r="1.8" fill="#ecd91f" fill-opacity="0.7"/><circle cx="285.2" cy="329.2" r="1.8" fill="#ecd91f" fill-opacity="0.7"/><circle cx="286.8" cy="379.1" r="1.8" fill="#ecd91f" fill-opacity="0.7"/><circle cx="266.1" cy="323.7" r="1.8" fill="#ecd91f" fill-opacity="0.7"/><circle cx="273.8" cy="308.6" r="1.8" fill="#ecd91f" fill-opacity="0.7"/><circle cx="278.3" cy="363.5" r="1.8" fill="#ecd91f" fill-opacity="0.7"/><circle cx="272.6" cy="321.0" r="1.8" fill="#ecd91f" fill-opacity="0.7"/><circle cx="281.6" cy="355.5" r="1.8" fill="#ecd91f" fill-opacity="0.7"/><circle cx="284.5" cy="366.9" r="1.8" fill="#ecd91f" fill-opacity="0.7"/><circle cx="273.2" cy="359.5" r="1.8" fill="#ecd91f" fill-opacity="0.7"/><circle cx="276.3" cy="375.3" r="1.8" fill="#ecd91f" fill-opacity="0.7"/><circle cx="276.8" cy="350.7" r="1.8" fill="#ecd91f" fill-opacity="0.7"/><circle cx="274.6" cy="366.1" r="1.8" fill="#ecd91f" fill-opacity="0.7"/><circle cx="269.2" cy="322.1" r="1.8" fill="#ecd91f" fill-opacity="0.7"/><circle cx="311.6" cy="298.1" r="1.8" fill="#ecd91f" fill-opacity="0.7"/><circle cx="303.8" cy="304.1" r="1.8" fill="#ecd91f" fill-opacity="0.7"/><circle cx="312.9" cy="301.5" r="1.8" fill="#ecd91f" fill-opacity="0.7"/><circle cx="302.7" cy="303.1" r="1.8" fill="#ecd91f" fill-opacity="0.7"/><circle cx="307.8" cy="307.3" r="1.8" fill="#ecd91f" fill-opacity="0.7"/><circle cx="299.1" cy="309.9" r="1.8" fill="#ecd91f" fill-opacity="0.7"/><circle cx="310.6" cy="302.6" r="1.8" fill="#ecd91f" fill-opacity="0.7"/><circle cx="311.5" cy="307.8" r="1.8" fill="#ecd91f" fill-opacity="0.7"/><circle cx="305.1" cy="296.6" r="1.8" fill="#ecd91f" fill-opacity="0.7"/><circle cx="303.6" cy="297.7" r="1.8" fill="#ecd91f" fill-opacity="0.7"/><circle cx="306.3" cy="309.6" r="1.8" fill="#ecd91f" fill-opacity="0.7"/><circle cx="303.3" cy="309.0" r="1.8" fill="#ecd91f" fill-opacity="0.7"/><circle cx="304.6" cy="308.1" r="1.8" fill="#ecd91f" fill-opacity="0.7"/><circle cx="310.3" cy="299.6" r="1.8" fill="#ecd91f" fill-opacity="0.7"/><circle cx="299.3" cy="309.2" r="1.8" fill="#ecd91f" fill-opacity="0.7"/><circle cx="307.8" cy="304.3" r="1.8" fill="#ecd91f" fill-opacity="0.7"/><circle cx="305.4" cy="299.0" r="1.8" fill="#ecd91f" fill-opacity="0.7"/><circle cx="303.7" cy="298.0" r="1.8" fill="#ecd91f" fill-opacity="0.7"/><circle cx="308.1" cy="299.6" r="1.8" fill="#ecd91f" fill-opacity="0.7"/><circle cx="301.8" cy="305.1" r="1.8" fill="#ecd91f" fill-opacity="0.7"/><circle cx="305.6" cy="296.2" r="1.8" fill="#ecd91f" fill-opacity="0.7"/><circle cx="301.5" cy="305.5" r="1.8" fill="#ecd91f" fill-opacity="0.7"/><circle cx="303.1" cy="300.4" r="1.8" fill="#ecd91f" fill-opacity="0.7"/><circle cx="306.3" cy="307.1" r="1.8" fill="#ecd91f" fill-opacity="0.7"/><circle cx="302.8" cy="296.9" r="1.8" fill="#ecd91f" fill-opacity="0.7"/><circle cx="307.2" cy="301.5" r="1.8" fill="#ecd91f" fill-opacity="0.7"/><circle cx="300.3" cy="304.9" r="1.8" fill="#ecd91f" fill-opacity="0.7"/><circle cx="309.4" cy="298.3" r="1.8" fill="#ecd91f" fill-opacity="0.7"/><circle cx="303.7" cy="301.7" r="1.8" fill="#ecd91f" fill-opacity="0.7"/><circle cx="312.4" cy="300.3" r="1.8" fill="#ecd91f" fill-opacity="0.7"/><circle cx="307.6" cy="300.4" r="1.8" fill="#ecd91f" fill-opacity="0.7"/><circle cx="305.6" cy="301.0" r="1.8" fill="#ecd91f" fill-opacity="0.7"/><circle cx="312.6" cy="308.1" r="1.8" fill="#ecd91f" fill-opacity="0.7"/><circle cx="302.8" cy="301.1" r="1.8" fill="#ecd91f" fill-opacity="0.7"/><circle cx="301.5" cy="306.2" r="1.8" fill="#ecd91f" fill-opacity="0.7"/><circle cx="311.9" cy="296.1" r="1.8" fill="#ecd91f" fill-opacity="0.7"/><circle cx="310.7" cy="301.9" r="1.8" fill="#ecd91f" fill-opacity="0.7"/><circle cx="311.5" cy="301.7" r="1.8" fill="#ecd91f" fill-opacity="0.7"/><circle cx="302.0" cy="302.5" r="1.8" fill="#ecd91f" fill-opacity="0.7"/><circle cx="308.0" cy="296.2" r="1.8" fill="#ecd91f" fill-opacity="0.7"/><circle cx="309.0" cy="360.2" r="1.8" fill="#ecd91f" fill-opacity="0.7"/><circle cx="305.9" cy="315.3" r="1.8" fill="#ecd91f" fill-opacity="0.7"/><circle cx="302.3" cy="338.2" r="1.8" fill="#ecd91f" fill-opacity="0.7"/><circle cx="300.0" cy="319.9" r="1.8" fill="#ecd91f" fill-opacity="0.7"/><circle cx="309.2" cy="350.5" r="1.8" fill="#ecd91f" fill-opacity="0.7"/><circle cx="303.7" cy="316.9" r="1.8" fill="#ecd91f" fill-opacity="0.7"/><circle cx="310.2" cy="373.6" r="1.8" fill="#ecd91f" fill-opacity="0.7"/><circle cx="296.9" cy="324.1" r="1.8" fill="#ecd91f" fill-opacity="0.7"/><circle cx="310.5" cy="384.9" r="1.8" fill="#ecd91f" fill-opacity="0.7"/><circle cx="293.7" cy="347.3" r="1.8" fill="#ecd91f" fill-opacity="0.7"/><circle cx="299.7" cy="383.5" r="1.8" fill="#ecd91f" fill-opacity="0.7"/><circle cx="303.9" cy="381.7" r="1.8" fill="#ecd91f" fill-opacity="0.7"/><circle cx="295.5" cy="375.2" r="1.8" fill="#ecd91f" fill-opacity="0.7"/><circle cx="296.6" cy="372.0" r="1.8" fill="#ecd91f" fill-opacity="0.7"/><circle cx="308.2" cy="341.0" r="1.8" fill="#ecd91f" fill-opacity="0.7"/><circle cx="295.9" cy="375.6" r="1.8" fill="#ecd91f" fill-opacity="0.7"/><circle cx="301.4" cy="325.8" r="1.8" fill="#ecd91f" fill-opacity="0.7"/><circle cx="299.5" cy="350.2" r="1.8" fill="#ecd91f" fill-opacity="0.7"/><circle cx="299.6" cy="318.0" r="1.8" fill="#ecd91f" fill-opacity="0.7"/><circle cx="308.9" cy="367.1" r="1.8" fill="#ecd91f" fill-opacity="0.7"/><circle cx="305.7" cy="311.3" r="1.8" fill="#ecd91f" fill-opacity="0.7"/><circle cx="293.3" cy="369.7" r="1.8" fill="#ecd91f" fill-opacity="0.7"/><circle cx="294.7" cy="376.3" r="1.8" fill="#ecd91f" fill-opacity="0.7"/><circle cx="302.5" cy="356.9" r="1.8" fill="#ecd91f" fill-opacity="0.7"/><circle cx="298.1" cy="359.1" r="1.8" fill="#ecd91f" fill-opacity="0.7"/><circle cx="303.5" cy="342.2" r="1.8" fill="#ecd91f" fill-opacity="0.7"/><circle cx="304.8" cy="342.7" r="1.8" fill="#ecd91f" fill-opacity="0.7"/><circle cx="300.8" cy="344.4" r="1.8" fill="#ecd91f" fill-opacity="0.7"/><circle cx="306.8" cy="309.9" r="1.8" fill="#ecd91f" fill-opacity="0.7"/><circle cx="296.9" cy="347.9" r="1.8" fill="#ecd91f" fill-opacity="0.7"/><circle cx="306.8" cy="370.2" r="1.8" fill="#ecd91f" fill-opacity="0.7"/><circle cx="296.1" cy="345.4" r="1.8" fill="#ecd91f" fill-opacity="0.7"/><circle cx="294.7" cy="346.6" r="1.8" fill="#ecd91f" fill-opacity="0.7"/><circle cx="302.6" cy="318.5" r="1.8" fill="#ecd91f" fill-opacity="0.7"/><circle cx="303.0" cy="315.5" r="1.8" fill="#ecd91f" fill-opacity="0.7"/><circle cx="293.4" cy="349.6" r="1.8" fill="#ecd91f" fill-opacity="0.7"/><circle cx="294.1" cy="359.9" r="1.8" fill="#ecd91f" fill-opacity="0.7"/><circle cx="306.7" cy="367.8" r="1.8" fill="#ecd91f" fill-opacity="0.7"/><circle cx="293.6" cy="349.7" r="1.8" fill="#ecd91f" fill-opacity="0.7"/><circle cx="299.4" cy="349.1" r="1.8" fill="#ecd91f" fill-opacity="0.7"/><circle cx="295.1" cy="385.5" r="1.8" fill="#ecd91f" fill-opacity="0.7"/><circle cx="310.8" cy="377.9" r="1.8" fill="#ecd91f" fill-opacity="0.7"/><circle cx="307.4" cy="367.7" r="1.8" fill="#ecd91f" fill-opacity="0.7"/><circle cx="311.4" cy="323.8" r="1.8" fill="#ecd91f" fill-opacity="0.7"/><circle cx="309.8" cy="348.1" r="1.8" fill="#ecd91f" fill-opacity="0.7"/><circle cx="295.6" cy="382.7" r="1.8" fill="#ecd91f" fill-opacity="0.7"/><circle cx="309.5" cy="372.3" r="1.8" fill="#ecd91f" fill-opacity="0.7"/><circle cx="302.0" cy="313.3" r="1.8" fill="#ecd91f" fill-opacity="0.7"/><circle cx="295.5" cy="369.6" r="1.8" fill="#ecd91f" fill-opacity="0.7"/><circle cx="297.6" cy="381.1" r="1.8" fill="#ecd91f" fill-opacity="0.7"/><circle cx="295.2" cy="374.5" r="1.8" fill="#ecd91f" fill-opacity="0.7"/><circle cx="309.1" cy="348.9" r="1.8" fill="#ecd91f" fill-opacity="0.7"/><circle cx="299.1" cy="325.0" r="1.8" fill="#ecd91f" fill-opacity="0.7"/><circle cx="298.4" cy="349.2" r="1.8" fill="#ecd91f" fill-opacity="0.7"/><circle cx="300.0" cy="311.0" r="1.8" fill="#ecd91f" fill-opacity="0.7"/><circle cx="310.7" cy="321.1" r="1.8" fill="#ecd91f" fill-opacity="0.7"/><circle cx="308.8" cy="363.4" r="1.8" fill="#ecd91f" fill-opacity="0.7"/><circle cx="308.2" cy="321.8" r="1.8" fill="#ecd91f" fill-opacity="0.7"/><circle cx="304.3" cy="317.4" r="1.8" fill="#ecd91f" fill-opacity="0.7"/><circle cx="299.1" cy="359.9" r="1.8" fill="#ecd91f" fill-opacity="0.7"/><circle cx="302.7" cy="379.1" r="1.8" fill="#ecd91f" fill-opacity="0.7"/><circle cx="308.5" cy="355.3" r="1.8" fill="#ecd91f" fill-opacity="0.7"/><circle cx="311.8" cy="316.5" r="1.8" fill="#ecd91f" fill-opacity="0.7"/><circle cx="299.7" cy="359.3" r="1.8" fill="#ecd91f" fill-opacity="0.7"/><circle cx="297.4" cy="373.0" r="1.8" fill="#ecd91f" fill-opacity="0.7"/><circle cx="303.2" cy="388.7" r="1.8" fill="#ecd91f" fill-opacity="0.7"/><circle cx="307.0" cy="337.4" r="1.8" fill="#ecd91f" fill-opacity="0.7"/><circle cx="296.2" cy="344.0" r="1.8" fill="#ecd91f" fill-opacity="0.7"/><circle cx="293.5" cy="368.6" r="1.8" fill="#ecd91f" fill-opacity="0.7"/><circle cx="297.2" cy="374.8" r="1.8" fill="#ecd91f" fill-opacity="0.7"/><circle cx="310.3" cy="360.1" r="1.8" fill="#ecd91f" fill-opacity="0.7"/><circle cx="304.5" cy="355.7" r="1.8" fill="#ecd91f" fill-opacity="0.7"/><circle cx="293.8" cy="333.5" r="1.8" fill="#ecd91f" fill-opacity="0.7"/><circle cx="299.5" cy="310.8" r="1.8" fill="#ecd91f" fill-opacity="0.7"/><circle cx="300.4" cy="358.2" r="1.8" fill="#ecd91f" fill-opacity="0.7"/><circle cx="308.6" cy="349.8" r="1.8" fill="#ecd91f" fill-opacity="0.7"/><circle cx="299.2" cy="318.8" r="1.8" fill="#ecd91f" fill-opacity="0.7"/><circle cx="293.0" cy="361.2" r="1.8" fill="#ecd91f" fill-opacity="0.7"/><circle cx="303.2" cy="308.2" r="1.8" fill="#ecd91f" fill-opacity="0.7"/><circle cx="301.6" cy="316.7" r="1.8" fill="#ecd91f" fill-opacity="0.7"/><circle cx="304.5" cy="326.3" r="1.8" fill="#ecd91f" fill-opacity="0.7"/><circle cx="296.3" cy="356.0" r="1.8" fill="#ecd91f" fill-opacity="0.7"/><circle cx="301.2" cy="358.9" r="1.8" fill="#ecd91f" fill-opacity="0.7"/><circle cx="310.8" cy="319.0" r="1.8" fill="#ecd91f" fill-opacity="0.7"/><circle cx="296.9" cy="327.9" r="1.8" fill="#ecd91f" fill-opacity="0.7"/><circle cx="306.2" cy="315.8" r="1.8" fill="#ecd91f" fill-opacity="0.7"/><circle cx="306.9" cy="379.0" r="1.8" fill="#ecd91f" fill-opacity="0.7"/><circle cx="297.9" cy="340.8" r="1.8" fill="#ecd91f" fill-opacity="0.7"/><circle cx="307.4" cy="308.9" r="1.8" fill="#ecd91f" fill-opacity="0.7"/><circle cx="298.9" cy="353.8" r="1.8" fill="#ecd91f" fill-opacity="0.7"/><circle cx="300.6" cy="360.6" r="1.8" fill="#ecd91f" fill-opacity="0.7"/><circle cx="306.0" cy="384.4" r="1.8" fill="#ecd91f" fill-opacity="0.7"/><circle cx="309.9" cy="328.3" r="1.8" fill="#ecd91f" fill-opacity="0.7"/><circle cx="305.2" cy="311.6" r="1.8" fill="#ecd91f" fill-opacity="0.7"/><circle cx="297.4" cy="341.1" r="1.8" fill="#ecd91f" fill-opacity="0.7"/><circle cx="308.8" cy="312.8" r="1.8" fill="#ecd91f" fill-opacity="0.7"/><circle cx="306.0" cy="309.0" r="1.8" fill="#ecd91f" fill-opacity="0.7"/><circle cx="295.2" cy="384.7" r="1.8" fill="#ecd91f" fill-opacity="0.7"/><circle cx="305.1" cy="324.3" r="1.8" fill="#ecd91f" fill-opacity="0.7"/><circle cx="304.1" cy="349.3" r="1.8" fill="#ecd91f" fill-opacity="0.7"/><circle cx="295.8" cy="374.3" r="1.8" fill="#ecd91f" fill-opacity="0.7"/><circle cx="299.0" cy="333.2" r="1.8" fill="#ecd91f" fill-opacity="0.7"/><circle cx="310.6" cy="312.0" r="1.8" fill="#ecd91f" fill-opacity="0.7"/><circle cx="305.6" cy="371.8" r="1.8" fill="#ecd91f" fill-opacity="0.7"/><circle cx="310.4" cy="308.5" r="1.8" fill="#ecd91f" fill-opacity="0.7"/><circle cx="301.0" cy="368.7" r="1.8" fill="#ecd91f" fill-opacity="0.7"/><circle cx="300.8" cy="368.5" r="1.8" fill="#ecd91f" fill-opacity="0.7"/><circle cx="296.3" cy="326.4" r="1.8" fill="#ecd91f" fill-opacity="0.7"/><circle cx="295.1" cy="326.9" r="1.8" fill="#ecd91f" fill-opacity="0.7"/><circle cx="306.8" cy="335.3" r="1.8" fill="#ecd91f" fill-opacity="0.7"/><circle cx="307.9" cy="364.7" r="1.8" fill="#ecd91f" fill-opacity="0.7"/><circle cx="297.4" cy="366.0" r="1.8" fill="#ecd91f" fill-opacity="0.7"/><circle cx="300.4" cy="353.1" r="1.8" fill="#ecd91f" fill-opacity="0.7"/><circle cx="302.1" cy="372.3" r="1.8" fill="#ecd91f" fill-opacity="0.7"/><circle cx="305.3" cy="329.6" r="1.8" fill="#ecd91f" fill-opacity="0.7"/><circle cx="296.6" cy="386.7" r="1.8" fill="#ecd91f" fill-opacity="0.7"/><circle cx="292.9" cy="379.7" r="1.8" fill="#ecd91f" fill-opacity="0.7"/><circle cx="298.2" cy="329.2" r="1.8" fill="#ecd91f" fill-opacity="0.7"/><circle cx="309.7" cy="368.6" r="1.8" fill="#ecd91f" fill-opacity="0.7"/><circle cx="298.5" cy="368.8" r="1.8" fill="#ecd91f" fill-opacity="0.7"/><circle cx="298.6" cy="379.7" r="1.8" fill="#ecd91f" fill-opacity="0.7"/><circle cx="310.0" cy="327.5" r="1.8" fill="#ecd91f" fill-opacity="0.7"/><circle cx="305.1" cy="359.4" r="1.8" fill="#ecd91f" fill-opacity="0.7"/><circle cx="310.3" cy="362.2" r="1.8" fill="#ecd91f" fill-opacity="0.7"/><circle cx="307.8" cy="346.3" r="1.8" fill="#ecd91f" fill-opacity="0.7"/><circle cx="308.1" cy="364.9" r="1.8" fill="#ecd91f" fill-opacity="0.7"/><circle cx="305.9" cy="343.6" r="1.8" fill="#ecd91f" fill-opacity="0.7"/><circle cx="298.1" cy="354.5" r="1.8" fill="#ecd91f" fill-opacity="0.7"/><circle cx="305.2" cy="325.3" r="1.8" fill="#ecd91f" fill-opacity="0.7"/><circle cx="310.7" cy="314.3" r="1.8" fill="#ecd91f" fill-opacity="0.7"/><circle cx="295.8" cy="319.8" r="1.8" fill="#ecd91f" fill-opacity="0.7"/><circle cx="310.8" cy="316.7" r="1.8" fill="#ecd91f" fill-opacity="0.7"/><circle cx="296.1" cy="336.1" r="1.8" fill="#ecd91f" fill-opacity="0.7"/><circle cx="298.0" cy="310.3" r="1.8" fill="#ecd91f" fill-opacity="0.7"/><circle cx="304.1" cy="364.4" r="1.8" fill="#ecd91f" fill-opacity="0.7"/><circle cx="305.9" cy="364.8" r="1.8" fill="#ecd91f" fill-opacity="0.7"/><circle cx="305.7" cy="313.4" r="1.8" fill="#ecd91f" fill-opacity="0.7"/><circle cx="307.9" cy="337.6" r="1.8" fill="#ecd91f" fill-opacity="0.7"/><circle cx="308.8" cy="374.8" r="1.8" fill="#ecd91f" fill-opacity="0.7"/><circle cx="310.1" cy="313.4" r="1.8" fill="#ecd91f" fill-opacity="0.7"/><circle cx="309.9" cy="382.5" r="1.8" fill="#ecd91f" fill-opacity="0.7"/><circle cx="299.1" cy="316.7" r="1.8" fill="#ecd91f" fill-opacity="0.7"/><circle cx="296.3" cy="317.1" r="1.8" fill="#ecd91f" fill-opacity="0.7"/><circle cx="307.4" cy="377.1" r="1.8" fill="#ecd91f" fill-opacity="0.7"/><circle cx="307.5" cy="359.7" r="1.8" fill="#ecd91f" fill-opacity="0.7"/><circle cx="297.8" cy="359.5" r="1.8" fill="#ecd91f" fill-opacity="0.7"/><circle cx="297.4" cy="316.1" r="1.8" fill="#ecd91f" fill-opacity="0.7"/><circle cx="296.3" cy="369.7" r="1.8" fill="#ecd91f" fill-opacity="0.7"/><circle cx="301.2" cy="334.0" r="1.8" fill="#ecd91f" fill-opacity="0.7"/><circle cx="301.4" cy="309.7" r="1.8" fill="#ecd91f" fill-opacity="0.7"/><circle cx="306.5" cy="331.0" r="1.8" fill="#ecd91f" fill-opacity="0.7"/><circle cx="299.1" cy="338.0" r="1.8" fill="#ecd91f" fill-opacity="0.7"/><circle cx="301.8" cy="386.6" r="1.8" fill="#ecd91f" fill-opacity="0.7"/><circle cx="303.9" cy="377.4" r="1.8" fill="#ecd91f" fill-opacity="0.7"/><circle cx="303.6" cy="310.5" r="1.8" fill="#ecd91f" fill-opacity="0.7"/><circle cx="306.8" cy="343.6" r="1.8" fill="#ecd91f" fill-opacity="0.7"/><circle cx="306.0" cy="336.3" r="1.8" fill="#ecd91f" fill-opacity="0.7"/><circle cx="296.5" cy="351.8" r="1.8" fill="#ecd91f" fill-opacity="0.7"/><circle cx="294.3" cy="378.3" r="1.8" fill="#ecd91f" fill-opacity="0.7"/><circle cx="295.7" cy="374.8" r="1.8" fill="#ecd91f" fill-opacity="0.7"/><circle cx="301.0" cy="308.1" r="1.8" fill="#ecd91f" fill-opacity="0.7"/><circle cx="310.3" cy="370.1" r="1.8" fill="#ecd91f" fill-opacity="0.7"/><circle cx="305.2" cy="308.4" r="1.8" fill="#ecd91f" fill-opacity="0.7"/><circle cx="307.0" cy="348.1" r="1.8" fill="#ecd91f" fill-opacity="0.7"/><circle cx="303.2" cy="323.0" r="1.8" fill="#ecd91f" fill-opacity="0.7"/><circle cx="308.2" cy="336.3" r="1.8" fill="#ecd91f" fill-opacity="0.7"/><circle cx="310.5" cy="329.2" r="1.8" fill="#ecd91f" fill-opacity="0.7"/><circle cx="297.7" cy="331.1" r="1.8" fill="#ecd91f" fill-opacity="0.7"/><circle cx="301.6" cy="365.0" r="1.8" fill="#ecd91f" fill-opacity="0.7"/><circle cx="306.0" cy="317.0" r="1.8" fill="#ecd91f" fill-opacity="0.7"/><circle cx="308.7" cy="314.6" r="1.8" fill="#ecd91f" fill-opacity="0.7"/><circle cx="306.8" cy="364.8" r="1.8" fill="#ecd91f" fill-opacity="0.7"/><circle cx="299.0" cy="359.2" r="1.8" fill="#ecd91f" fill-opacity="0.7"/><circle cx="300.2" cy="340.7" r="1.8" fill="#ecd91f" fill-opacity="0.7"/><circle cx="294.2" cy="380.6" r="1.8" fill="#ecd91f" fill-opacity="0.7"/><circle cx="293.1" cy="380.4" r="1.8" fill="#ecd91f" fill-opacity="0.7"/><circle cx="299.2" cy="324.8" r="1.8" fill="#ecd91f" fill-opacity="0.7"/><circle cx="301.8" cy="381.4" r="1.8" fill="#ecd91f" fill-opacity="0.7"/><circle cx="309.0" cy="338.9" r="1.8" fill="#ecd91f" fill-opacity="0.7"/><circle cx="302.3" cy="327.0" r="1.8" fill="#ecd91f" fill-opacity="0.7"/><circle cx="306.1" cy="351.3" r="1.8" fill="#ecd91f" fill-opacity="0.7"/><circle cx="304.3" cy="369.4" r="1.8" fill="#ecd91f" fill-opacity="0.7"/><circle cx="299.3" cy="336.4" r="1.8" fill="#ecd91f" fill-opacity="0.7"/><circle cx="309.2" cy="320.7" r="1.8" fill="#ecd91f" fill-opacity="0.7"/><circle cx="306.0" cy="362.0" r="1.8" fill="#ecd91f" fill-opacity="0.7"/><circle cx="302.4" cy="321.8" r="1.8" fill="#ecd91f" fill-opacity="0.7"/><circle cx="303.1" cy="371.0" r="1.8" fill="#ecd91f" fill-opacity="0.7"/><circle cx="303.1" cy="318.3" r="1.8" fill="#ecd91f" fill-opacity="0.7"/><circle cx="296.9" cy="380.1" r="1.8" fill="#ecd91f" fill-opacity="0.7"/><circle cx="299.9" cy="323.6" r="1.8" fill="#ecd91f" fill-opacity="0.7"/><circle cx="307.9" cy="365.3" r="1.8" fill="#ecd91f" fill-opacity="0.7"/><circle cx="297.8" cy="320.6" r="1.8" fill="#ecd91f" fill-opacity="0.7"/><circle cx="299.9" cy="328.2" r="1.8" fill="#ecd91f" fill-opacity="0.7"/><circle cx="295.5" cy="350.6" r="1.8" fill="#ecd91f" fill-opacity="0.7"/><circle cx="297.0" cy="334.7" r="1.8" fill="#ecd91f" fill-opacity="0.7"/><circle cx="306.0" cy="387.5" r="1.8" fill="#ecd91f" fill-opacity="0.7"/><circle cx="311.4" cy="316.3" r="1.8" fill="#ecd91f" fill-opacity="0.7"/><circle cx="302.0" cy="316.3" r="1.8" fill="#ecd91f" fill-opacity="0.7"/><circle cx="307.2" cy="388.2" r="1.8" fill="#ecd91f" fill-opacity="0.7"/><circle cx="300.5" cy="367.8" r="1.8" fill="#ecd91f" fill-opacity="0.7"/><circle cx="305.6" cy="324.0" r="1.8" fill="#ecd91f" fill-opacity="0.7"/><circle cx="299.1" cy="316.7" r="1.8" fill="#ecd91f" fill-opacity="0.7"/><circle cx="293.9" cy="339.6" r="1.8" fill="#ecd91f" fill-opacity="0.7"/><circle cx="307.3" cy="340.5" r="1.8" fill="#ecd91f" fill-opacity="0.7"/><circle cx="301.6" cy="364.5" r="1.8" fill="#ecd91f" fill-opacity="0.7"/><circle cx="300.9" cy="359.5" r="1.8" fill="#ecd91f" fill-opacity="0.7"/><circle cx="305.3" cy="319.6" r="1.8" fill="#ecd91f" fill-opacity="0.7"/><circle cx="306.4" cy="341.0" r="1.8" fill="#ecd91f" fill-opacity="0.7"/><circle cx="300.5" cy="382.0" r="1.8" fill="#ecd91f" fill-opacity="0.7"/><circle cx="306.1" cy="354.8" r="1.8" fill="#ecd91f" fill-opacity="0.7"/><circle cx="297.2" cy="342.3" r="1.8" fill="#ecd91f" fill-opacity="0.7"/><circle cx="308.5" cy="366.9" r="1.8" fill="#ecd91f" fill-opacity="0.7"/><circle cx="305.3" cy="371.1" r="1.8" fill="#ecd91f" fill-opacity="0.7"/><circle cx="305.0" cy="377.5" r="1.8" fill="#ecd91f" fill-opacity="0.7"/><circle cx="300.8" cy="360.3" r="1.8" fill="#ecd91f" fill-opacity="0.7"/><circle cx="304.8" cy="333.5" r="1.8" fill="#ecd91f" fill-opacity="0.7"/><circle cx="302.6" cy="316.0" r="1.8" fill="#ecd91f" fill-opacity="0.7"/><circle cx="305.6" cy="371.8" r="1.8" fill="#ecd91f" fill-opacity="0.7"/><circle cx="297.1" cy="359.3" r="1.8" fill="#ecd91f" fill-opacity="0.7"/><circle cx="301.2" cy="342.5" r="1.8" fill="#ecd91f" fill-opacity="0.7"/><circle cx="300.0" cy="358.7" r="1.8" fill="#ecd91f" fill-opacity="0.7"/><circle cx="309.4" cy="363.0" r="1.8" fill="#ecd91f" fill-opacity="0.7"/><circle cx="305.9" cy="322.9" r="1.8" fill="#ecd91f" fill-opacity="0.7"/><circle cx="299.7" cy="371.4" r="1.8" fill="#ecd91f" fill-opacity="0.7"/><circle cx="310.2" cy="347.9" r="1.8" fill="#ecd91f" fill-opacity="0.7"/><circle cx="305.4" cy="311.1" r="1.8" fill="#ecd91f" fill-opacity="0.7"/><circle cx="308.2" cy="321.1" r="1.8" fill="#ecd91f" fill-opacity="0.7"/><circle cx="302.1" cy="384.7" r="1.8" fill="#ecd91f" fill-opacity="0.7"/><circle cx="305.1" cy="316.2" r="1.8" fill="#ecd91f" fill-opacity="0.7"/><circle cx="305.5" cy="352.1" r="1.8" fill="#ecd91f" fill-opacity="0.7"/><circle cx="304.1" cy="349.7" r="1.8" fill="#ecd91f" fill-opacity="0.7"/><circle cx="302.1" cy="375.6" r="1.8" fill="#ecd91f" fill-opacity="0.7"/><circle cx="310.0" cy="341.4" r="1.8" fill="#ecd91f" fill-opacity="0.7"/><circle cx="306.3" cy="325.1" r="1.8" fill="#ecd91f" fill-opacity="0.7"/><circle cx="306.8" cy="340.0" r="1.8" fill="#ecd91f" fill-opacity="0.7"/><circle cx="311.6" cy="318.0" r="1.8" fill="#ecd91f" fill-opacity="0.7"/><circle cx="294.5" cy="337.0" r="1.8" fill="#ecd91f" fill-opacity="0.7"/><circle cx="301.0" cy="330.4" r="1.8" fill="#ecd91f" fill-opacity="0.7"/><circle cx="304.0" cy="309.1" r="1.8" fill="#ecd91f" fill-opacity="0.7"/><circle cx="305.5" cy="342.3" r="1.8" fill="#ecd91f" fill-opacity="0.7"/><circle cx="298.2" cy="336.7" r="1.8" fill="#ecd91f" fill-opacity="0.7"/><circle cx="307.2" cy="326.3" r="1.8" fill="#ecd91f" fill-opacity="0.7"/><circle cx="302.3" cy="384.6" r="1.8" fill="#ecd91f" fill-opacity="0.7"/><circle cx="308.2" cy="325.8" r="1.8" fill="#ecd91f" fill-opacity="0.7"/><circle cx="297.1" cy="339.9" r="1.8" fill="#ecd91f" fill-opacity="0.7"/><circle cx="308.2" cy="318.5" r="1.8" fill="#ecd91f" fill-opacity="0.7"/><circle cx="304.1" cy="374.0" r="1.8" fill="#ecd91f" fill-opacity="0.7"/><circle cx="302.9" cy="346.2" r="1.8" fill="#ecd91f" fill-opacity="0.7"/><circle cx="311.0" cy="326.4" r="1.8" fill="#ecd91f" fill-opacity="0.7"/><circle cx="304.8" cy="336.8" r="1.8" fill="#ecd91f" fill-opacity="0.7"/><circle cx="307.5" cy="374.7" r="1.8" fill="#ecd91f" fill-opacity="0.7"/><circle cx="298.1" cy="346.2" r="1.8" fill="#ecd91f" fill-opacity="0.7"/><circle cx="294.8" cy="352.7" r="1.8" fill="#ecd91f" fill-opacity="0.7"/><circle cx="299.1" cy="376.0" r="1.8" fill="#ecd91f" fill-opacity="0.7"/><circle cx="297.5" cy="377.3" r="1.8" fill="#ecd91f" fill-opacity="0.7"/><circle cx="297.9" cy="338.7" r="1.8" fill="#ecd91f" fill-opacity="0.7"/><circle cx="296.4" cy="342.7" r="1.8" fill="#ecd91f" fill-opacity="0.7"/><circle cx="308.6" cy="308.2" r="1.8" fill="#ecd91f" fill-opacity="0.7"/><circle cx="298.2" cy="330.9" r="1.8" fill="#ecd91f" fill-opacity="0.7"/><circle cx="302.2" cy="332.6" r="1.8" fill="#ecd91f" fill-opacity="0.7"/><circle cx="304.4" cy="342.9" r="1.8" fill="#ecd91f" fill-opacity="0.7"/><circle cx="299.1" cy="361.7" r="1.8" fill="#ecd91f" fill-opacity="0.7"/><circle cx="308.2" cy="383.7" r="1.8" fill="#ecd91f" fill-opacity="0.7"/><circle cx="309.6" cy="312.7" r="1.8" fill="#ecd91f" fill-opacity="0.7"/><circle cx="306.9" cy="381.8" r="1.8" fill="#ecd91f" fill-opacity="0.7"/><circle cx="309.1" cy="319.4" r="1.8" fill="#ecd91f" fill-opacity="0.7"/><circle cx="292.9" cy="359.6" r="1.8" fill="#ecd91f" fill-opacity="0.7"/><circle cx="311.9" cy="308.9" r="1.8" fill="#ecd91f" fill-opacity="0.7"/><circle cx="297.1" cy="361.5" r="1.8" fill="#ecd91f" fill-opacity="0.7"/><circle cx="298.1" cy="316.3" r="1.8" fill="#ecd91f" fill-opacity="0.7"/><circle cx="307.8" cy="327.0" r="1.8" fill="#ecd91f" fill-opacity="0.7"/><circle cx="296.3" cy="336.2" r="1.8" fill="#ecd91f" fill-opacity="0.7"/><circle cx="307.1" cy="381.7" r="1.8" fill="#ecd91f" fill-opacity="0.7"/><circle cx="310.0" cy="321.7" r="1.8" fill="#ecd91f" fill-opacity="0.7"/><circle cx="306.7" cy="357.6" r="1.8" fill="#ecd91f" fill-opacity="0.7"/><circle cx="308.7" cy="362.5" r="1.8" fill="#ecd91f" fill-opacity="0.7"/><circle cx="307.8" cy="372.2" r="1.8" fill="#ecd91f" fill-opacity="0.7"/><circle cx="306.5" cy="324.1" r="1.8" fill="#ecd91f" fill-opacity="0.7"/><circle cx="305.9" cy="351.3" r="1.8" fill="#ecd91f" fill-opacity="0.7"/><circle cx="308.7" cy="343.7" r="1.8" fill="#ecd91f" fill-opacity="0.7"/><circle cx="297.3" cy="353.2" r="1.8" fill="#ecd91f" fill-opacity="0.7"/><circle cx="296.8" cy="327.1" r="1.8" fill="#ecd91f" fill-opacity="0.7"/><circle cx="293.8" cy="348.2" r="1.8" fill="#ecd91f" fill-opacity="0.7"/><circle cx="295.4" cy="346.1" r="1.8" fill="#ecd91f" fill-opacity="0.7"/><circle cx="301.6" cy="348.0" r="1.8" fill="#ecd91f" fill-opacity="0.7"/><circle cx="308.1" cy="352.0" r="1.8" fill="#ecd91f" fill-opacity="0.7"/><circle cx="310.3" cy="308.5" r="1.8" fill="#ecd91f" fill-opacity="0.7"/><circle cx="302.9" cy="346.1" r="1.8" fill="#ecd91f" fill-opacity="0.7"/><circle cx="307.8" cy="362.2" r="1.8" fill="#ecd91f" fill-opacity="0.7"/><circle cx="300.8" cy="338.6" r="1.8" fill="#ecd91f" fill-opacity="0.7"/><circle cx="294.0" cy="386.3" r="1.8" fill="#ecd91f" fill-opacity="0.7"/><circle cx="304.1" cy="359.9" r="1.8" fill="#ecd91f" fill-opacity="0.7"/><circle cx="306.6" cy="310.3" r="1.8" fill="#ecd91f" fill-opacity="0.7"/><circle cx="309.4" cy="363.6" r="1.8" fill="#ecd91f" fill-opacity="0.7"/><circle cx="310.9" cy="334.9" r="1.8" fill="#ecd91f" fill-opacity="0.7"/><circle cx="301.3" cy="349.6" r="1.8" fill="#ecd91f" fill-opacity="0.7"/><circle cx="293.2" cy="381.2" r="1.8" fill="#ecd91f" fill-opacity="0.7"/><circle cx="303.9" cy="366.5" r="1.8" fill="#ecd91f" fill-opacity="0.7"/><circle cx="308.8" cy="335.6" r="1.8" fill="#ecd91f" fill-opacity="0.7"/><circle cx="301.8" cy="337.8" r="1.8" fill="#ecd91f" fill-opacity="0.7"/><circle cx="306.4" cy="350.8" r="1.8" fill="#ecd91f" fill-opacity="0.7"/><circle cx="302.0" cy="325.2" r="1.8" fill="#ecd91f" fill-opacity="0.7"/><circle cx="303.0" cy="342.4" r="1.8" fill="#ecd91f" fill-opacity="0.7"/><circle cx="297.9" cy="375.4" r="1.8" fill="#ecd91f" fill-opacity="0.7"/><circle cx="300.0" cy="375.5" r="1.8" fill="#ecd91f" fill-opacity="0.7"/><circle cx="297.5" cy="349.1" r="1.8" fill="#ecd91f" fill-opacity="0.7"/><circle cx="310.1" cy="349.3" r="1.8" fill="#ecd91f" fill-opacity="0.7"/><circle cx="306.9" cy="361.3" r="1.8" fill="#ecd91f" fill-opacity="0.7"/><circle cx="299.2" cy="335.0" r="1.8" fill="#ecd91f" fill-opacity="0.7"/><circle cx="304.1" cy="332.4" r="1.8" fill="#ecd91f" fill-opacity="0.7"/><circle cx="306.7" cy="359.7" r="1.8" fill="#ecd91f" fill-opacity="0.7"/><circle cx="308.1" cy="311.3" r="1.8" fill="#ecd91f" fill-opacity="0.7"/><circle cx="302.6" cy="380.2" r="1.8" fill="#ecd91f" fill-opacity="0.7"/><circle cx="301.5" cy="312.1" r="1.8" fill="#ecd91f" fill-opacity="0.7"/><circle cx="300.7" cy="308.5" r="1.8" fill="#ecd91f" fill-opacity="0.7"/><circle cx="303.7" cy="383.1" r="1.8" fill="#ecd91f" fill-opacity="0.7"/><circle cx="306.8" cy="361.6" r="1.8" fill="#ecd91f" fill-opacity="0.7"/><circle cx="303.8" cy="382.2" r="1.8" fill="#ecd91f" fill-opacity="0.7"/><circle cx="303.9" cy="358.3" r="1.8" fill="#ecd91f" fill-opacity="0.7"/><circle cx="303.4" cy="364.8" r="1.8" fill="#ecd91f" fill-opacity="0.7"/><circle cx="296.4" cy="363.5" r="1.8" fill="#ecd91f" fill-opacity="0.7"/><circle cx="300.9" cy="362.4" r="1.8" fill="#ecd91f" fill-opacity="0.7"/><circle cx="294.4" cy="370.2" r="1.8" fill="#ecd91f" fill-opacity="0.7"/><circle cx="295.6" cy="322.8" r="1.8" fill="#ecd91f" fill-opacity="0.7"/><circle cx="309.2" cy="371.1" r="1.8" fill="#ecd91f" fill-opacity="0.7"/><circle cx="299.3" cy="361.4" r="1.8" fill="#ecd91f" fill-opacity="0.7"/><circle cx="306.9" cy="375.0" r="1.8" fill="#ecd91f" fill-opacity="0.7"/><circle cx="297.2" cy="353.8" r="1.8" fill="#ecd91f" fill-opacity="0.7"/><circle cx="301.2" cy="332.6" r="1.8" fill="#ecd91f" fill-opacity="0.7"/><circle cx="301.3" cy="334.0" r="1.8" fill="#ecd91f" fill-opacity="0.7"/><circle cx="309.4" cy="360.3" r="1.8" fill="#ecd91f" fill-opacity="0.7"/><circle cx="305.6" cy="312.5" r="1.8" fill="#ecd91f" fill-opacity="0.7"/><circle cx="298.9" cy="311.2" r="1.8" fill="#ecd91f" fill-opacity="0.7"/><circle cx="303.1" cy="374.0" r="1.8" fill="#ecd91f" fill-opacity="0.7"/><circle cx="300.8" cy="382.9" r="1.8" fill="#ecd91f" fill-opacity="0.7"/><circle cx="303.5" cy="309.2" r="1.8" fill="#ecd91f" fill-opacity="0.7"/><circle cx="309.5" cy="356.2" r="1.8" fill="#ecd91f" fill-opacity="0.7"/><circle cx="301.3" cy="387.9" r="1.8" fill="#ecd91f" fill-opacity="0.7"/><circle cx="295.0" cy="341.6" r="1.8" fill="#ecd91f" fill-opacity="0.7"/><circle cx="296.4" cy="360.5" r="1.8" fill="#ecd91f" fill-opacity="0.7"/><circle cx="295.5" cy="320.4" r="1.8" fill="#ecd91f" fill-opacity="0.7"/><circle cx="308.0" cy="308.4" r="1.8" fill="#ecd91f" fill-opacity="0.7"/><circle cx="311.4" cy="317.9" r="1.8" fill="#ecd91f" fill-opacity="0.7"/><circle cx="309.9" cy="315.2" r="1.8" fill="#ecd91f" fill-opacity="0.7"/><circle cx="295.8" cy="318.5" r="1.8" fill="#ecd91f" fill-opacity="0.7"/><circle cx="297.0" cy="366.6" r="1.8" fill="#ecd91f" fill-opacity="0.7"/><circle cx="296.0" cy="367.8" r="1.8" fill="#ecd91f" fill-opacity="0.7"/><circle cx="308.8" cy="312.1" r="1.8" fill="#ecd91f" fill-opacity="0.7"/><circle cx="308.1" cy="366.2" r="1.8" fill="#ecd91f" fill-opacity="0.7"/><circle cx="294.1" cy="367.5" r="1.8" fill="#ecd91f" fill-opacity="0.7"/><circle cx="305.4" cy="359.2" r="1.8" fill="#ecd91f" fill-opacity="0.7"/><circle cx="309.5" cy="345.5" r="1.8" fill="#ecd91f" fill-opacity="0.7"/><circle cx="310.9" cy="328.7" r="1.8" fill="#ecd91f" fill-opacity="0.7"/><circle cx="292.8" cy="366.5" r="1.8" fill="#ecd91f" fill-opacity="0.7"/><circle cx="307.4" cy="309.2" r="1.8" fill="#ecd91f" fill-opacity="0.7"/><circle cx="294.1" cy="374.6" r="1.8" fill="#ecd91f" fill-opacity="0.7"/><circle cx="306.6" cy="333.4" r="1.8" fill="#ecd91f" fill-opacity="0.7"/><circle cx="309.5" cy="321.5" r="1.8" fill="#ecd91f" fill-opacity="0.7"/><circle cx="293.8" cy="347.6" r="1.8" fill="#ecd91f" fill-opacity="0.7"/><circle cx="303.6" cy="338.0" r="1.8" fill="#ecd91f" fill-opacity="0.7"/><circle cx="305.1" cy="343.8" r="1.8" fill="#ecd91f" fill-opacity="0.7"/><circle cx="308.5" cy="319.8" r="1.8" fill="#ecd91f" fill-opacity="0.7"/><circle cx="304.9" cy="337.6" r="1.8" fill="#ecd91f" fill-opacity="0.7"/><circle cx="300.1" cy="359.3" r="1.8" fill="#ecd91f" fill-opacity="0.7"/><circle cx="307.2" cy="339.4" r="1.8" fill="#ecd91f" fill-opacity="0.7"/><circle cx="307.0" cy="385.0" r="1.8" fill="#ecd91f" fill-opacity="0.7"/><circle cx="297.8" cy="354.2" r="1.8" fill="#ecd91f" fill-opacity="0.7"/><circle cx="311.8" cy="312.9" r="1.8" fill="#ecd91f" fill-opacity="0.7"/><circle cx="307.6" cy="365.3" r="1.8" fill="#ecd91f" fill-opacity="0.7"/><circle cx="304.3" cy="335.1" r="1.8" fill="#ecd91f" fill-opacity="0.7"/><circle cx="307.9" cy="387.7" r="1.8" fill="#ecd91f" fill-opacity="0.7"/><circle cx="298.2" cy="357.0" r="1.8" fill="#ecd91f" fill-opacity="0.7"/><circle cx="308.9" cy="342.9" r="1.8" fill="#ecd91f" fill-opacity="0.7"/><circle cx="305.5" cy="338.7" r="1.8" fill="#ecd91f" fill-opacity="0.7"/><circle cx="308.7" cy="357.0" r="1.8" fill="#ecd91f" fill-opacity="0.7"/><circle cx="297.8" cy="373.8" r="1.8" fill="#ecd91f" fill-opacity="0.7"/><circle cx="301.9" cy="308.1" r="1.8" fill="#ecd91f" fill-opacity="0.7"/><circle cx="303.5" cy="342.4" r="1.8" fill="#ecd91f" fill-opacity="0.7"/><circle cx="308.8" cy="374.5" r="1.8" fill="#ecd91f" fill-opacity="0.7"/><circle cx="309.8" cy="311.4" r="1.8" fill="#ecd91f" fill-opacity="0.7"/><circle cx="308.4" cy="374.2" r="1.8" fill="#ecd91f" fill-opacity="0.7"/><circle cx="297.5" cy="354.6" r="1.8" fill="#ecd91f" fill-opacity="0.7"/><circle cx="307.3" cy="377.4" r="1.8" fill="#ecd91f" fill-opacity="0.7"/><circle cx="309.1" cy="363.8" r="1.8" fill="#ecd91f" fill-opacity="0.7"/><circle cx="295.1" cy="336.3" r="1.8" fill="#ecd91f" fill-opacity="0.7"/><circle cx="306.9" cy="353.1" r="1.8" fill="#ecd91f" fill-opacity="0.7"/><circle cx="307.5" cy="324.3" r="1.8" fill="#ecd91f" fill-opacity="0.7"/><circle cx="296.9" cy="383.9" r="1.8" fill="#ecd91f" fill-opacity="0.7"/><circle cx="304.8" cy="357.5" r="1.8" fill="#ecd91f" fill-opacity="0.7"/><circle cx="296.6" cy="345.9" r="1.8" fill="#ecd91f" fill-opacity="0.7"/><circle cx="307.2" cy="328.8" r="1.8" fill="#ecd91f" fill-opacity="0.7"/><circle cx="301.0" cy="372.5" r="1.8" fill="#ecd91f" fill-opacity="0.7"/><circle cx="308.9" cy="315.1" r="1.8" fill="#ecd91f" fill-opacity="0.7"/><circle cx="296.8" cy="370.9" r="1.8" fill="#ecd91f" fill-opacity="0.7"/><circle cx="308.7" cy="355.2" r="1.8" fill="#ecd91f" fill-opacity="0.7"/><circle cx="302.1" cy="380.1" r="1.8" fill="#ecd91f" fill-opacity="0.7"/><circle cx="303.3" cy="346.8" r="1.8" fill="#ecd91f" fill-opacity="0.7"/><circle cx="298.1" cy="323.4" r="1.8" fill="#ecd91f" fill-opacity="0.7"/><circle cx="306.7" cy="322.7" r="1.8" fill="#ecd91f" fill-opacity="0.7"/><circle cx="303.4" cy="337.6" r="1.8" fill="#ecd91f" fill-opacity="0.7"/><circle cx="266.7" cy="340.6" r="1.8" fill="#eedd40" fill-opacity="0.8"/><circle cx="263.1" cy="311.6" r="1.8" fill="#eedd40" fill-opacity="0.8"/><circle cx="271.4" cy="388.8" r="1.8" fill="#eedd40" fill-opacity="0.8"/><circle cx="270.3" cy="359.3" r="1.8" fill="#eedd40" fill-opacity="0.8"/><circle cx="269.4" cy="371.8" r="1.8" fill="#eedd40" fill-opacity="0.8"/><circle cx="264.8" cy="335.9" r="1.8" fill="#eedd40" fill-opacity="0.8"/><circle cx="270.2" cy="350.1" r="1.8" fill="#eedd40" fill-opacity="0.8"/><circle cx="272.3" cy="388.2" r="1.8" fill="#eedd40" fill-opacity="0.8"/><circle cx="267.9" cy="378.2" r="1.8" fill="#eedd40" fill-opacity="0.8"/><circle cx="265.4" cy="329.2" r="1.8" fill="#eedd40" fill-opacity="0.8"/><circle cx="264.9" cy="371.1" r="1.8" fill="#eedd40" fill-opacity="0.8"/><circle cx="268.3" cy="370.1" r="1.8" fill="#eedd40" fill-opacity="0.8"/><circle cx="269.5" cy="374.3" r="1.8" fill="#eedd40" fill-opacity="0.8"/><circle cx="262.8" cy="311.1" r="1.8" fill="#eedd40" fill-opacity="0.8"/><circle cx="264.1" cy="324.3" r="1.8" fill="#eedd40" fill-opacity="0.8"/><circle cx="262.4" cy="312.1" r="1.8" fill="#eedd40" fill-opacity="0.8"/><circle cx="268.7" cy="353.1" r="1.8" fill="#eedd40" fill-opacity="0.8"/><circle cx="269.7" cy="384.7" r="1.8" fill="#eedd40" fill-opacity="0.8"/><circle cx="268.2" cy="381.7" r="1.8" fill="#eedd40" fill-opacity="0.8"/><circle cx="266.7" cy="340.2" r="1.8" fill="#eedd40" fill-opacity="0.8"/><circle cx="261.8" cy="317.7" r="1.8" fill="#eedd40" fill-opacity="0.8"/><circle cx="270.5" cy="353.7" r="1.8" fill="#eedd40" fill-opacity="0.8"/><circle cx="266.8" cy="359.9" r="1.8" fill="#eedd40" fill-opacity="0.8"/><circle cx="267.4" cy="339.8" r="1.8" fill="#eedd40" fill-opacity="0.8"/><circle cx="265.0" cy="344.3" r="1.8" fill="#eedd40" fill-opacity="0.8"/><circle cx="265.4" cy="388.3" r="1.8" fill="#eedd40" fill-opacity="0.8"/><circle cx="263.2" cy="326.0" r="1.8" fill="#eedd40" fill-opacity="0.8"/><circle cx="267.0" cy="336.5" r="1.8" fill="#eedd40" fill-opacity="0.8"/><circle cx="267.1" cy="381.1" r="1.8" fill="#eedd40" fill-opacity="0.8"/><circle cx="260.9" cy="311.8" r="1.8" fill="#eedd40" fill-opacity="0.8"/><circle cx="270.6" cy="371.7" r="1.8" fill="#eedd40" fill-opacity="0.8"/><circle cx="267.9" cy="387.8" r="1.8" fill="#eedd40" fill-opacity="0.8"/><circle cx="261.0" cy="312.5" r="1.8" fill="#eedd40" fill-opacity="0.8"/><circle cx="268.0" cy="384.1" r="1.8" fill="#eedd40" fill-opacity="0.8"/><circle cx="270.2" cy="362.8" r="1.8" fill="#eedd40" fill-opacity="0.8"/><circle cx="267.6" cy="369.4" r="1.8" fill="#eedd40" fill-opacity="0.8"/><circle cx="262.6" cy="316.5" r="1.8" fill="#eedd40" fill-opacity="0.8"/><circle cx="261.9" cy="318.1" r="1.8" fill="#eedd40" fill-opacity="0.8"/><circle cx="269.0" cy="347.0" r="1.8" fill="#eedd40" fill-opacity="0.8"/><circle cx="262.1" cy="319.6" r="1.8" fill="#eedd40" fill-opacity="0.8"/><circle cx="266.4" cy="362.9" r="1.8" fill="#eedd40" fill-opacity="0.8"/><circle cx="264.1" cy="323.8" r="1.8" fill="#eedd40" fill-opacity="0.8"/><circle cx="261.8" cy="310.9" r="1.8" fill="#eedd40" fill-opacity="0.8"/><circle cx="271.3" cy="383.7" r="1.8" fill="#eedd40" fill-opacity="0.8"/><circle cx="270.7" cy="378.2" r="1.8" fill="#eedd40" fill-opacity="0.8"/><circle cx="312.5" cy="342.6" r="1.8" fill="#eedd40" fill-opacity="0.8"/><circle cx="320.0" cy="313.1" r="1.8" fill="#eedd40" fill-opacity="0.8"/><circle cx="314.3" cy="357.8" r="1.8" fill="#eedd40" fill-opacity="0.8"/><circle cx="315.3" cy="343.0" r="1.8" fill="#eedd40" fill-opacity="0.8"/><circle cx="317.8" cy="345.1" r="1.8" fill="#eedd40" fill-opacity="0.8"/><circle cx="312.6" cy="357.8" r="1.8" fill="#eedd40" fill-opacity="0.8"/><circle cx="315.0" cy="309.8" r="1.8" fill="#eedd40" fill-opacity="0.8"/><circle cx="313.1" cy="365.0" r="1.8" fill="#eedd40" fill-opacity="0.8"/><circle cx="311.7" cy="378.1" r="1.8" fill="#eedd40" fill-opacity="0.8"/><circle cx="313.8" cy="327.4" r="1.8" fill="#eedd40" fill-opacity="0.8"/><circle cx="313.0" cy="327.8" r="1.8" fill="#eedd40" fill-opacity="0.8"/><circle cx="312.2" cy="375.5" r="1.8" fill="#eedd40" fill-opacity="0.8"/><circle cx="313.0" cy="346.2" r="1.8" fill="#eedd40" fill-opacity="0.8"/><circle cx="313.2" cy="331.7" r="1.8" fill="#eedd40" fill-opacity="0.8"/><circle cx="312.2" cy="387.2" r="1.8" fill="#eedd40" fill-opacity="0.8"/><circle cx="317.8" cy="309.8" r="1.8" fill="#eedd40" fill-opacity="0.8"/><circle cx="315.8" cy="322.7" r="1.8" fill="#eedd40" fill-opacity="0.8"/><circle cx="311.5" cy="345.1" r="1.8" fill="#eedd40" fill-opacity="0.8"/><circle cx="315.2" cy="321.9" r="1.8" fill="#eedd40" fill-opacity="0.8"/><circle cx="327.1" cy="335.6" r="1.8" fill="#eedd40" fill-opacity="0.8"/><circle cx="311.8" cy="382.7" r="1.8" fill="#eedd40" fill-opacity="0.8"/><circle cx="314.5" cy="313.2" r="1.8" fill="#eedd40" fill-opacity="0.8"/><circle cx="321.8" cy="309.8" r="1.8" fill="#eedd40" fill-opacity="0.8"/><circle cx="314.1" cy="366.0" r="1.8" fill="#eedd40" fill-opacity="0.8"/><circle cx="324.9" cy="306.3" r="1.8" fill="#eedd40" fill-opacity="0.8"/><circle cx="312.1" cy="372.8" r="1.8" fill="#eedd40" fill-opacity="0.8"/><circle cx="315.1" cy="305.2" r="1.8" fill="#eedd40" fill-opacity="0.8"/><circle cx="313.7" cy="374.9" r="1.8" fill="#eedd40" fill-opacity="0.8"/><circle cx="311.4" cy="341.6" r="1.8" fill="#eedd40" fill-opacity="0.8"/><circle cx="312.1" cy="381.6" r="1.8" fill="#eedd40" fill-opacity="0.8"/><circle cx="317.7" cy="316.6" r="1.8" fill="#eedd40" fill-opacity="0.8"/><circle cx="312.7" cy="320.1" r="1.8" fill="#eedd40" fill-opacity="0.8"/><circle cx="318.8" cy="321.5" r="1.8" fill="#eedd40" fill-opacity="0.8"/><circle cx="317.6" cy="311.7" r="1.8" fill="#eedd40" fill-opacity="0.8"/><circle cx="313.9" cy="346.6" r="1.8" fill="#eedd40" fill-opacity="0.8"/><circle cx="313.3" cy="328.0" r="1.8" fill="#eedd40" fill-opacity="0.8"/><circle cx="316.6" cy="364.5" r="1.8" fill="#eedd40" fill-opacity="0.8"/><circle cx="313.4" cy="373.2" r="1.8" fill="#eedd40" fill-opacity="0.8"/><circle cx="314.0" cy="310.5" r="1.8" fill="#eedd40" fill-opacity="0.8"/><circle cx="316.7" cy="366.5" r="1.8" fill="#eedd40" fill-opacity="0.8"/><circle cx="316.5" cy="309.7" r="1.8" fill="#eedd40" fill-opacity="0.8"/><circle cx="315.2" cy="373.1" r="1.8" fill="#eedd40" fill-opacity="0.8"/><circle cx="318.3" cy="377.6" r="1.8" fill="#eedd40" fill-opacity="0.8"/><circle cx="320.5" cy="346.4" r="1.8" fill="#eedd40" fill-opacity="0.8"/><circle cx="311.7" cy="345.0" r="1.8" fill="#eedd40" fill-opacity="0.8"/><circle cx="311.1" cy="378.2" r="1.8" fill="#eedd40" fill-opacity="0.8"/><circle cx="313.7" cy="374.9" r="1.8" fill="#eedd40" fill-opacity="0.8"/><circle cx="313.4" cy="335.8" r="1.8" fill="#eedd40" fill-opacity="0.8"/><circle cx="314.3" cy="355.0" r="1.8" fill="#eedd40" fill-opacity="0.8"/><circle cx="317.8" cy="305.4" r="1.8" fill="#eedd40" fill-opacity="0.8"/><circle cx="311.2" cy="348.3" r="1.8" fill="#eedd40" fill-opacity="0.8"/><circle cx="313.8" cy="315.1" r="1.8" fill="#eedd40" fill-opacity="0.8"/><circle cx="318.9" cy="377.7" r="1.8" fill="#eedd40" fill-opacity="0.8"/><circle cx="312.5" cy="332.0" r="1.8" fill="#eedd40" fill-opacity="0.8"/><circle cx="315.0" cy="368.1" r="1.8" fill="#eedd40" fill-opacity="0.8"/><circle cx="320.3" cy="310.1" r="1.8" fill="#eedd40" fill-opacity="0.8"/><circle cx="318.7" cy="346.6" r="1.8" fill="#eedd40" fill-opacity="0.8"/><circle cx="316.1" cy="348.1" r="1.8" fill="#eedd40" fill-opacity="0.8"/><circle cx="313.9" cy="306.7" r="1.8" fill="#eedd40" fill-opacity="0.8"/><circle cx="311.4" cy="386.3" r="1.8" fill="#eedd40" fill-opacity="0.8"/><circle cx="315.0" cy="313.6" r="1.8" fill="#eedd40" fill-opacity="0.8"/><circle cx="312.1" cy="326.0" r="1.8" fill="#eedd40" fill-opacity="0.8"/><circle cx="313.2" cy="313.1" r="1.8" fill="#eedd40" fill-opacity="0.8"/><circle cx="311.0" cy="363.7" r="1.8" fill="#eedd40" fill-opacity="0.8"/><circle cx="311.4" cy="355.3" r="1.8" fill="#eedd40" fill-opacity="0.8"/><circle cx="317.5" cy="353.4" r="1.8" fill="#eedd40" fill-opacity="0.8"/><circle cx="313.1" cy="313.6" r="1.8" fill="#eedd40" fill-opacity="0.8"/><circle cx="311.1" cy="378.0" r="1.8" fill="#eedd40" fill-opacity="0.8"/><circle cx="313.3" cy="315.3" r="1.8" fill="#eedd40" fill-opacity="0.8"/><circle cx="314.3" cy="346.5" r="1.8" fill="#eedd40" fill-opacity="0.8"/><circle cx="312.0" cy="315.3" r="1.8" fill="#eedd40" fill-opacity="0.8"/><circle cx="315.0" cy="339.1" r="1.8" fill="#eedd40" fill-opacity="0.8"/><circle cx="315.4" cy="377.3" r="1.8" fill="#eedd40" fill-opacity="0.8"/><circle cx="318.6" cy="317.4" r="1.8" fill="#eedd40" fill-opacity="0.8"/><circle cx="315.2" cy="318.8" r="1.8" fill="#eedd40" fill-opacity="0.8"/><circle cx="314.9" cy="374.4" r="1.8" fill="#eedd40" fill-opacity="0.8"/><circle cx="312.7" cy="340.3" r="1.8" fill="#eedd40" fill-opacity="0.8"/><circle cx="315.3" cy="375.5" r="1.8" fill="#eedd40" fill-opacity="0.8"/><circle cx="311.6" cy="384.1" r="1.8" fill="#eedd40" fill-opacity="0.8"/><circle cx="312.5" cy="370.3" r="1.8" fill="#eedd40" fill-opacity="0.8"/><circle cx="314.2" cy="333.1" r="1.8" fill="#eedd40" fill-opacity="0.8"/><circle cx="319.0" cy="341.6" r="1.8" fill="#eedd40" fill-opacity="0.8"/><circle cx="311.8" cy="381.7" r="1.8" fill="#eedd40" fill-opacity="0.8"/><circle cx="311.6" cy="373.5" r="1.8" fill="#eedd40" fill-opacity="0.8"/><circle cx="311.8" cy="348.5" r="1.8" fill="#eedd40" fill-opacity="0.8"/><circle cx="314.1" cy="385.5" r="1.8" fill="#eedd40" fill-opacity="0.8"/><circle cx="312.3" cy="340.5" r="1.8" fill="#eedd40" fill-opacity="0.8"/><circle cx="314.2" cy="358.1" r="1.8" fill="#eedd40" fill-opacity="0.8"/><circle cx="316.6" cy="310.8" r="1.8" fill="#eedd40" fill-opacity="0.8"/><circle cx="311.9" cy="341.4" r="1.8" fill="#eedd40" fill-opacity="0.8"/><circle cx="253.6" cy="290.6" r="1.8" fill="#eedd40" fill-opacity="0.85"/><circle cx="259.7" cy="292.1" r="1.8" fill="#eedd40" fill-opacity="0.85"/><circle cx="264.1" cy="290.6" r="1.8" fill="#eedd40" fill-opacity="0.85"/><circle cx="266.6" cy="290.6" r="1.8" fill="#eedd40" fill-opacity="0.85"/><circle cx="273.8" cy="290.6" r="1.8" fill="#eedd40" fill-opacity="0.85"/><circle cx="278.9" cy="292.1" r="1.8" fill="#eedd40" fill-opacity="0.85"/><circle cx="253.1" cy="299.7" r="1.8" fill="#eedd40" fill-opacity="0.85"/><circle cx="258.2" cy="300.1" r="1.8" fill="#eedd40" fill-opacity="0.85"/><circle cx="262.0" cy="296.9" r="1.8" fill="#eedd40" fill-opacity="0.85"/><circle cx="266.6" cy="299.2" r="1.8" fill="#eedd40" fill-opacity="0.85"/><circle cx="270.8" cy="296.9" r="1.8" fill="#eedd40" fill-opacity="0.85"/><circle cx="274.8" cy="300.1" r="1.8" fill="#eedd40" fill-opacity="0.85"/><circle cx="249.8" cy="307.7" r="1.8" fill="#eedd40" fill-opacity="0.85"/><circle cx="253.1" cy="307.7" r="1.8" fill="#eedd40" fill-opacity="0.85"/><circle cx="256.9" cy="305.1" r="1.8" fill="#eedd40" fill-opacity="0.85"/><circle cx="258.2" cy="310.2" r="1.8" fill="#eedd40" fill-opacity="0.85"/><circle cx="262.8" cy="315.6" r="1.8" fill="#eedd40" fill-opacity="0.85"/><circle cx="264.1" cy="322.2" r="1.8" fill="#eedd40" fill-opacity="0.85"/><circle cx="265.4" cy="328.3" r="1.8" fill="#eedd40" fill-opacity="0.85"/><circle cx="266.6" cy="333.6" r="1.8" fill="#eedd40" fill-opacity="0.85"/><circle cx="264.7" cy="352.0" r="1.8" fill="#eedd40" fill-opacity="0.85"/><circle cx="266.0" cy="384.0" r="1.8" fill="#eedd40" fill-opacity="0.85"/><circle cx="313.8" cy="280.8" r="1.8" fill="#eedd40" fill-opacity="0.85"/><circle cx="304.2" cy="285.2" r="1.8" fill="#eedd40" fill-opacity="0.85"/><circle cx="314.3" cy="286.6" r="1.8" fill="#eedd40" fill-opacity="0.85"/><circle cx="310.9" cy="290.6" r="1.8" fill="#eedd40" fill-opacity="0.85"/><circle cx="323.1" cy="290.6" r="1.8" fill="#eedd40" fill-opacity="0.85"/><circle cx="339.3" cy="290.6" r="1.8" fill="#eedd40" fill-opacity="0.85"/><circle cx="322.6" cy="294.4" r="1.8" fill="#eedd40" fill-opacity="0.85"/><circle cx="327.7" cy="293.4" r="1.8" fill="#eedd40" fill-opacity="0.85"/><circle cx="326.0" cy="295.7" r="1.8" fill="#eedd40" fill-opacity="0.85"/><circle cx="307.5" cy="297.0" r="1.8" fill="#eedd40" fill-opacity="0.85"/><circle cx="303.3" cy="299.7" r="1.8" fill="#eedd40" fill-opacity="0.85"/><circle cx="311.8" cy="299.2" r="1.8" fill="#eedd40" fill-opacity="0.85"/><circle cx="326.7" cy="299.7" r="1.8" fill="#eedd40" fill-opacity="0.85"/><circle cx="330.7" cy="298.6" r="1.8" fill="#eedd40" fill-opacity="0.85"/><circle cx="318.1" cy="301.4" r="1.8" fill="#eedd40" fill-opacity="0.85"/><circle cx="307.1" cy="303.0" r="1.8" fill="#eedd40" fill-opacity="0.85"/><circle cx="314.3" cy="303.3" r="1.8" fill="#eedd40" fill-opacity="0.85"/><circle cx="301.2" cy="307.7" r="1.8" fill="#eedd40" fill-opacity="0.85"/><circle cx="313.4" cy="308.1" r="1.8" fill="#eedd40" fill-opacity="0.85"/><circle cx="328.6" cy="311.5" r="1.8" fill="#eedd40" fill-opacity="0.85"/><circle cx="327.7" cy="315.9" r="1.8" fill="#eedd40" fill-opacity="0.85"/><circle cx="333.6" cy="318.7" r="1.8" fill="#eedd40" fill-opacity="0.85"/><circle cx="322.3" cy="321.3" r="1.8" fill="#eedd40" fill-opacity="0.85"/><circle cx="316.6" cy="321.0" r="1.8" fill="#eedd40" fill-opacity="0.85"/><circle cx="316.0" cy="323.5" r="1.8" fill="#eedd40" fill-opacity="0.85"/><circle cx="310.3" cy="322.0" r="1.8" fill="#eedd40" fill-opacity="0.85"/><circle cx="310.9" cy="326.6" r="1.8" fill="#eedd40" fill-opacity="0.85"/><circle cx="328.0" cy="332.6" r="1.8" fill="#eedd40" fill-opacity="0.85"/><circle cx="328.6" cy="334.2" r="1.8" fill="#eedd40" fill-opacity="0.85"/><circle cx="311.5" cy="335.5" r="1.8" fill="#eedd40" fill-opacity="0.85"/><circle cx="337.6" cy="345.0" r="1.8" fill="#eedd40" fill-opacity="0.85"/><circle cx="343.0" cy="348.0" r="1.8" fill="#eedd40" fill-opacity="0.85"/><circle cx="328.0" cy="355.0" r="1.8" fill="#eedd40" fill-opacity="0.85"/><circle cx="318.0" cy="352.0" r="1.8" fill="#eedd40" fill-opacity="0.85"/><circle cx="324.0" cy="362.0" r="1.8" fill="#eedd40" fill-opacity="0.85"/><circle cx="328.0" cy="366.0" r="1.8" fill="#eedd40" fill-opacity="0.85"/><circle cx="321.0" cy="370.0" r="1.8" fill="#eedd40" fill-opacity="0.85"/><circle cx="325.0" cy="377.0" r="1.8" fill="#eedd40" fill-opacity="0.85"/><circle cx="329.0" cy="373.0" r="1.8" fill="#eedd40" fill-opacity="0.85"/><circle cx="333.0" cy="381.0" r="1.8" fill="#eedd40" fill-opacity="0.85"/><circle cx="320.0" cy="383.0" r="1.8" fill="#eedd40" fill-opacity="0.85"/><circle cx="327.0" cy="387.0" r="1.8" fill="#eedd40" fill-opacity="0.85"/><circle cx="336.0" cy="387.0" r="1.8" fill="#eedd40" fill-opacity="0.85"/><circle cx="340.0" cy="384.0" r="1.8" fill="#eedd40" fill-opacity="0.85"/><circle cx="318.0" cy="339.0" r="1.8" fill="#eedd40" fill-opacity="0.85"/><circle cx="322.0" cy="344.0" r="1.8" fill="#eedd40" fill-opacity="0.85"/><polygon points="275.8,391.0 277.3,405.0 278.8,420.0 281.8,432.0 284.8,440.0 289.3,446.5 289.2,446.5 294.7,440.0 297.7,432.0 301.2,420.0 304.7,405.0 307.7,391.0" fill="#a4a4a4"/><circle cx="306.3" cy="399.1" r="1.8" fill="#a4a4a4" fill-opacity="0.8"/><circle cx="297.2" cy="433.8" r="1.8" fill="#a4a4a4" fill-opacity="0.8"/><circle cx="296.6" cy="426.0" r="1.8" fill="#a4a4a4" fill-opacity="0.8"/><circle cx="294.6" cy="439.7" r="1.8" fill="#a4a4a4" fill-opacity="0.8"/><circle cx="296.4" cy="393.4" r="1.8" fill="#a4a4a4" fill-opacity="0.8"/><circle cx="296.2" cy="406.0" r="1.8" fill="#a4a4a4" fill-opacity="0.8"/><circle cx="292.2" cy="406.4" r="1.8" fill="#a4a4a4" fill-opacity="0.8"/><circle cx="290.8" cy="441.9" r="1.8" fill="#a4a4a4" fill-opacity="0.8"/><circle cx="291.6" cy="405.2" r="1.8" fill="#a4a4a4" fill-opacity="0.8"/><circle cx="302.3" cy="415.1" r="1.8" fill="#a4a4a4" fill-opacity="0.8"/><circle cx="285.2" cy="407.2" r="1.8" fill="#a4a4a4" fill-opacity="0.8"/><circle cx="281.8" cy="426.8" r="1.8" fill="#a4a4a4" fill-opacity="0.8"/><circle cx="300.4" cy="423.9" r="1.8" fill="#a4a4a4" fill-opacity="0.8"/><circle cx="284.2" cy="419.5" r="1.8" fill="#a4a4a4" fill-opacity="0.8"/><circle cx="291.1" cy="416.9" r="1.8" fill="#a4a4a4" fill-opacity="0.8"/><circle cx="279.4" cy="399.6" r="1.8" fill="#a4a4a4" fill-opacity="0.8"/><circle cx="284.7" cy="398.7" r="1.8" fill="#a4a4a4" fill-opacity="0.8"/><circle cx="284.7" cy="413.7" r="1.8" fill="#a4a4a4" fill-opacity="0.8"/><circle cx="278.6" cy="404.8" r="1.8" fill="#a4a4a4" fill-opacity="0.8"/><circle cx="298.2" cy="421.3" r="1.8" fill="#a4a4a4" fill-opacity="0.8"/><circle cx="291.5" cy="424.7" r="1.8" fill="#a4a4a4" fill-opacity="0.8"/><circle cx="283.5" cy="426.9" r="1.8" fill="#a4a4a4" fill-opacity="0.8"/><circle cx="289.0" cy="430.2" r="1.8" fill="#a4a4a4" fill-opacity="0.8"/><circle cx="292.7" cy="421.4" r="1.8" fill="#a4a4a4" fill-opacity="0.8"/><circle cx="285.3" cy="417.1" r="1.8" fill="#a4a4a4" fill-opacity="0.8"/><circle cx="282.6" cy="404.7" r="1.8" fill="#a4a4a4" fill-opacity="0.8"/><circle cx="287.1" cy="419.4" r="1.8" fill="#a4a4a4" fill-opacity="0.8"/><circle cx="278.6" cy="423.4" r="1.8" fill="#a4a4a4" fill-opacity="0.8"/><circle cx="300.8" cy="410.7" r="1.8" fill="#a4a4a4" fill-opacity="0.8"/><circle cx="292.7" cy="404.5" r="1.8" fill="#a4a4a4" fill-opacity="0.8"/><circle cx="284.6" cy="418.3" r="1.8" fill="#a4a4a4" fill-opacity="0.8"/><circle cx="288.5" cy="445.3" r="1.8" fill="#a4a4a4" fill-opacity="0.8"/><circle cx="283.8" cy="433.6" r="1.8" fill="#a4a4a4" fill-opacity="0.8"/><circle cx="303.8" cy="395.1" r="1.8" fill="#a4a4a4" fill-opacity="0.8"/><circle cx="278.7" cy="415.5" r="1.8" fill="#a4a4a4" fill-opacity="0.8"/><circle cx="288.8" cy="412.6" r="1.8" fill="#a4a4a4" fill-opacity="0.8"/><circle cx="282.4" cy="431.6" r="1.8" fill="#a4a4a4" fill-opacity="0.8"/><circle cx="305.0" cy="403.8" r="1.8" fill="#a4a4a4" fill-opacity="0.8"/><circle cx="283.3" cy="431.8" r="1.8" fill="#a4a4a4" fill-opacity="0.8"/><circle cx="286.5" cy="409.9" r="1.8" fill="#a4a4a4" fill-opacity="0.8"/><circle cx="292.2" cy="428.3" r="1.8" fill="#a4a4a4" fill-opacity="0.8"/><circle cx="294.3" cy="437.8" r="1.8" fill="#a4a4a4" fill-opacity="0.8"/><circle cx="296.0" cy="419.7" r="1.8" fill="#a4a4a4" fill-opacity="0.8"/><circle cx="294.6" cy="432.0" r="1.8" fill="#a4a4a4" fill-opacity="0.8"/><circle cx="297.5" cy="417.4" r="1.8" fill="#a4a4a4" fill-opacity="0.8"/><circle cx="297.9" cy="430.1" r="1.8" fill="#a4a4a4" fill-opacity="0.8"/><circle cx="303.3" cy="398.4" r="1.8" fill="#a4a4a4" fill-opacity="0.8"/><circle cx="300.8" cy="391.7" r="1.8" fill="#a4a4a4" fill-opacity="0.8"/><circle cx="289.9" cy="423.4" r="1.8" fill="#a4a4a4" fill-opacity="0.8"/><circle cx="289.9" cy="444.0" r="1.8" fill="#a4a4a4" fill-opacity="0.8"/><circle cx="298.0" cy="414.3" r="1.8" fill="#a4a4a4" fill-opacity="0.8"/><circle cx="291.2" cy="439.1" r="1.8" fill="#a4a4a4" fill-opacity="0.8"/><circle cx="289.2" cy="412.2" r="1.8" fill="#a4a4a4" fill-opacity="0.8"/><circle cx="296.1" cy="416.5" r="1.8" fill="#a4a4a4" fill-opacity="0.8"/><circle cx="287.6" cy="407.5" r="1.8" fill="#a4a4a4" fill-opacity="0.8"/><circle cx="287.2" cy="421.8" r="1.8" fill="#a4a4a4" fill-opacity="0.8"/><circle cx="299.0" cy="409.0" r="1.8" fill="#a4a4a4" fill-opacity="0.8"/><circle cx="289.7" cy="437.8" r="1.8" fill="#a4a4a4" fill-opacity="0.8"/><circle cx="281.9" cy="415.7" r="1.8" fill="#a4a4a4" fill-opacity="0.8"/><circle cx="280.5" cy="408.1" r="1.8" fill="#a4a4a4" fill-opacity="0.8"/><circle cx="291.9" cy="422.9" r="1.8" fill="#a4a4a4" fill-opacity="0.8"/><circle cx="305.2" cy="396.3" r="1.8" fill="#a4a4a4" fill-opacity="0.8"/><circle cx="300.5" cy="409.2" r="1.8" fill="#a4a4a4" fill-opacity="0.8"/><circle cx="296.5" cy="437.2" r="1.8" fill="#a4a4a4" fill-opacity="0.8"/><circle cx="288.9" cy="402.6" r="1.8" fill="#a4a4a4" fill-opacity="0.8"/><circle cx="284.4" cy="441.1" r="1.8" fill="#a4a4a4" fill-opacity="0.8"/><circle cx="293.8" cy="394.1" r="1.8" fill="#a4a4a4" fill-opacity="0.8"/><circle cx="300.8" cy="418.6" r="1.8" fill="#a4a4a4" fill-opacity="0.8"/><circle cx="290.4" cy="433.7" r="1.8" fill="#a4a4a4" fill-opacity="0.8"/><circle cx="289.4" cy="445.9" r="1.8" fill="#a4a4a4" fill-opacity="0.8"/><circle cx="294.7" cy="419.7" r="1.8" fill="#a4a4a4" fill-opacity="0.8"/><circle cx="286.6" cy="412.7" r="1.8" fill="#a4a4a4" fill-opacity="0.8"/><circle cx="286.5" cy="423.9" r="1.8" fill="#a4a4a4" fill-opacity="0.8"/><circle cx="290.9" cy="443.2" r="1.8" fill="#a4a4a4" fill-opacity="0.8"/><circle cx="280.0" cy="420.1" r="1.8" fill="#a4a4a4" fill-opacity="0.8"/><circle cx="287.8" cy="411.9" r="1.8" fill="#a4a4a4" fill-opacity="0.8"/><circle cx="291.7" cy="422.1" r="1.8" fill="#a4a4a4" fill-opacity="0.8"/><circle cx="295.7" cy="439.5" r="1.8" fill="#a4a4a4" fill-opacity="0.8"/><circle cx="288.6" cy="418.0" r="1.8" fill="#a4a4a4" fill-opacity="0.8"/><circle cx="300.8" cy="425.5" r="1.8" fill="#a4a4a4" fill-opacity="0.8"/><circle cx="291.5" cy="410.2" r="1.8" fill="#a4a4a4" fill-opacity="0.8"/><circle cx="284.6" cy="436.0" r="1.8" fill="#a4a4a4" fill-opacity="0.8"/><circle cx="304.5" cy="408.8" r="1.8" fill="#a4a4a4" fill-opacity="0.8"/><circle cx="289.9" cy="436.5" r="1.8" fill="#a4a4a4" fill-opacity="0.8"/><circle cx="304.2" cy="397.5" r="1.8" fill="#a4a4a4" fill-opacity="0.8"/><circle cx="296.2" cy="429.1" r="1.8" fill="#a4a4a4" fill-opacity="0.8"/><circle cx="290.9" cy="445.5" r="1.8" fill="#a4a4a4" fill-opacity="0.8"/><circle cx="281.1" cy="414.4" r="1.8" fill="#a4a4a4" fill-opacity="0.8"/><circle cx="291.2" cy="407.3" r="1.8" fill="#a4a4a4" fill-opacity="0.8"/><circle cx="282.2" cy="419.0" r="1.8" fill="#a4a4a4" fill-opacity="0.8"/><circle cx="295.2" cy="401.4" r="1.8" fill="#a4a4a4" fill-opacity="0.8"/><circle cx="286.6" cy="424.4" r="1.8" fill="#a4a4a4" fill-opacity="0.8"/><circle cx="289.8" cy="445.7" r="1.8" fill="#a4a4a4" fill-opacity="0.8"/><circle cx="288.6" cy="393.8" r="1.8" fill="#a4a4a4" fill-opacity="0.8"/><circle cx="286.5" cy="434.4" r="1.8" fill="#a4a4a4" fill-opacity="0.8"/><circle cx="279.9" cy="429.1" r="1.8" fill="#a4a4a4" fill-opacity="0.8"/><circle cx="300.7" cy="408.1" r="1.8" fill="#a4a4a4" fill-opacity="0.8"/><circle cx="293.8" cy="423.4" r="1.8" fill="#a4a4a4" fill-opacity="0.8"/><circle cx="291.1" cy="402.2" r="1.8" fill="#a4a4a4" fill-opacity="0.8"/><circle cx="284.3" cy="421.7" r="1.8" fill="#a4a4a4" fill-opacity="0.8"/><circle cx="290.5" cy="426.8" r="1.8" fill="#a4a4a4" fill-opacity="0.8"/><circle cx="289.6" cy="445.8" r="1.8" fill="#a4a4a4" fill-opacity="0.8"/><circle cx="280.2" cy="413.9" r="1.8" fill="#a4a4a4" fill-opacity="0.8"/><circle cx="299.5" cy="400.0" r="1.8" fill="#a4a4a4" fill-opacity="0.8"/><circle cx="278.4" cy="397.3" r="1.8" fill="#a4a4a4" fill-opacity="0.8"/><circle cx="291.9" cy="400.8" r="1.8" fill="#a4a4a4" fill-opacity="0.8"/><circle cx="291.5" cy="436.4" r="1.8" fill="#a4a4a4" fill-opacity="0.8"/><circle cx="282.8" cy="435.5" r="1.8" fill="#a4a4a4" fill-opacity="0.8"/><circle cx="300.9" cy="392.2" r="1.8" fill="#a4a4a4" fill-opacity="0.8"/><circle cx="296.9" cy="409.1" r="1.8" fill="#a4a4a4" fill-opacity="0.8"/><circle cx="281.3" cy="410.8" r="1.8" fill="#a4a4a4" fill-opacity="0.8"/><circle cx="279.1" cy="406.0" r="1.8" fill="#a4a4a4" fill-opacity="0.8"/><circle cx="290.6" cy="440.8" r="1.8" fill="#a4a4a4" fill-opacity="0.8"/><circle cx="289.2" cy="410.5" r="1.8" fill="#a4a4a4" fill-opacity="0.8"/><circle cx="278.3" cy="412.5" r="1.8" fill="#a4a4a4" fill-opacity="0.8"/><circle cx="290.8" cy="440.0" r="1.8" fill="#a4a4a4" fill-opacity="0.8"/><circle cx="289.1" cy="443.8" r="1.8" fill="#a4a4a4" fill-opacity="0.8"/><circle cx="284.3" cy="425.3" r="1.8" fill="#a4a4a4" fill-opacity="0.8"/><circle cx="306.1" cy="393.9" r="1.8" fill="#a4a4a4" fill-opacity="0.8"/><circle cx="287.2" cy="438.1" r="1.8" fill="#a4a4a4" fill-opacity="0.8"/><circle cx="293.4" cy="440.5" r="1.8" fill="#a4a4a4" fill-opacity="0.8"/><circle cx="293.8" cy="408.1" r="1.8" fill="#a4a4a4" fill-opacity="0.8"/><circle cx="289.4" cy="443.8" r="1.8" fill="#a4a4a4" fill-opacity="0.8"/><circle cx="287.6" cy="443.3" r="1.8" fill="#a4a4a4" fill-opacity="0.8"/><circle cx="296.5" cy="412.7" r="1.8" fill="#a4a4a4" fill-opacity="0.8"/><circle cx="285.3" cy="403.6" r="1.8" fill="#a4a4a4" fill-opacity="0.8"/><circle cx="289.5" cy="439.2" r="1.8" fill="#a4a4a4" fill-opacity="0.8"/><circle cx="285.5" cy="434.7" r="1.8" fill="#a4a4a4" fill-opacity="0.8"/><circle cx="286.8" cy="401.0" r="1.8" fill="#a4a4a4" fill-opacity="0.8"/><circle cx="305.8" cy="401.7" r="1.8" fill="#a4a4a4" fill-opacity="0.8"/><circle cx="292.6" cy="407.3" r="1.8" fill="#a4a4a4" fill-opacity="0.8"/><circle cx="292.5" cy="397.8" r="1.8" fill="#a4a4a4" fill-opacity="0.8"/><circle cx="287.8" cy="412.5" r="1.8" fill="#a4a4a4" fill-opacity="0.8"/><circle cx="279.0" cy="395.1" r="1.8" fill="#a4a4a4" fill-opacity="0.8"/><circle cx="287.5" cy="436.5" r="1.8" fill="#a4a4a4" fill-opacity="0.8"/><circle cx="281.7" cy="404.8" r="1.8" fill="#a4a4a4" fill-opacity="0.8"/><circle cx="283.2" cy="407.0" r="1.8" fill="#a4a4a4" fill-opacity="0.8"/><circle cx="297.2" cy="393.4" r="1.8" fill="#a4a4a4" fill-opacity="0.8"/><circle cx="280.9" cy="410.1" r="1.8" fill="#a4a4a4" fill-opacity="0.8"/><circle cx="281.8" cy="430.0" r="1.8" fill="#a4a4a4" fill-opacity="0.8"/><circle cx="300.8" cy="406.2" r="1.8" fill="#a4a4a4" fill-opacity="0.8"/><circle cx="289.5" cy="398.5" r="1.8" fill="#a4a4a4" fill-opacity="0.8"/><circle cx="294.2" cy="437.1" r="1.8" fill="#a4a4a4" fill-opacity="0.8"/><circle cx="286.6" cy="400.2" r="1.8" fill="#a4a4a4" fill-opacity="0.8"/><circle cx="287.4" cy="430.9" r="1.8" fill="#a4a4a4" fill-opacity="0.8"/><circle cx="287.5" cy="443.7" r="1.8" fill="#a4a4a4" fill-opacity="0.8"/><circle cx="289.5" cy="443.3" r="1.8" fill="#a4a4a4" fill-opacity="0.8"/><circle cx="289.6" cy="403.9" r="1.8" fill="#a4a4a4" fill-opacity="0.8"/><circle cx="298.0" cy="398.6" r="1.8" fill="#a4a4a4" fill-opacity="0.8"/><circle cx="302.8" cy="405.7" r="1.8" fill="#a4a4a4" fill-opacity="0.8"/><circle cx="286.9" cy="423.5" r="1.8" fill="#a4a4a4" fill-opacity="0.8"/><circle cx="294.3" cy="404.9" r="1.8" fill="#a4a4a4" fill-opacity="0.8"/><circle cx="302.5" cy="403.1" r="1.8" fill="#a4a4a4" fill-opacity="0.8"/><circle cx="291.8" cy="398.2" r="1.8" fill="#a4a4a4" fill-opacity="0.8"/><circle cx="284.4" cy="421.1" r="1.8" fill="#a4a4a4" fill-opacity="0.8"/><circle cx="287.8" cy="433.6" r="1.8" fill="#a4a4a4" fill-opacity="0.8"/><circle cx="291.3" cy="427.3" r="1.8" fill="#a4a4a4" fill-opacity="0.8"/><circle cx="287.6" cy="408.4" r="1.8" fill="#a4a4a4" fill-opacity="0.8"/><circle cx="280.9" cy="396.2" r="1.8" fill="#a4a4a4" fill-opacity="0.8"/><circle cx="287.2" cy="437.9" r="1.8" fill="#a4a4a4" fill-opacity="0.8"/><circle cx="281.7" cy="427.6" r="1.8" fill="#a4a4a4" fill-opacity="0.8"/><circle cx="286.7" cy="422.1" r="1.8" fill="#a4a4a4" fill-opacity="0.8"/><circle cx="284.9" cy="418.8" r="1.8" fill="#a4a4a4" fill-opacity="0.8"/><circle cx="285.3" cy="395.1" r="1.8" fill="#a4a4a4" fill-opacity="0.8"/><circle cx="279.7" cy="403.8" r="1.8" fill="#a4a4a4" fill-opacity="0.8"/><circle cx="285.6" cy="430.6" r="1.8" fill="#a4a4a4" fill-opacity="0.8"/><circle cx="301.5" cy="413.5" r="1.8" fill="#a4a4a4" fill-opacity="0.8"/><circle cx="296.3" cy="433.7" r="1.8" fill="#a4a4a4" fill-opacity="0.8"/><circle cx="284.7" cy="438.4" r="1.8" fill="#a4a4a4" fill-opacity="0.8"/><circle cx="277.0" cy="406.6" r="1.8" fill="#a4a4a4" fill-opacity="0.8"/><circle cx="293.2" cy="428.5" r="1.8" fill="#a4a4a4" fill-opacity="0.8"/><circle cx="288.2" cy="410.7" r="1.8" fill="#a4a4a4" fill-opacity="0.8"/><circle cx="294.0" cy="427.4" r="1.8" fill="#a4a4a4" fill-opacity="0.8"/><circle cx="301.4" cy="405.0" r="1.8" fill="#a4a4a4" fill-opacity="0.8"/><circle cx="294.2" cy="410.7" r="1.8" fill="#a4a4a4" fill-opacity="0.8"/><circle cx="279.2" cy="401.4" r="1.8" fill="#a4a4a4" fill-opacity="0.8"/><circle cx="292.1" cy="441.2" r="1.8" fill="#a4a4a4" fill-opacity="0.8"/><circle cx="280.9" cy="430.3" r="1.8" fill="#a4a4a4" fill-opacity="0.8"/><circle cx="280.2" cy="393.7" r="1.8" fill="#a4a4a4" fill-opacity="0.8"/><circle cx="285.1" cy="402.3" r="1.8" fill="#a4a4a4" fill-opacity="0.8"/><circle cx="277.8" cy="412.3" r="1.8" fill="#a4a4a4" fill-opacity="0.8"/><circle cx="294.8" cy="408.4" r="1.8" fill="#a4a4a4" fill-opacity="0.8"/><circle cx="301.8" cy="401.3" r="1.8" fill="#a4a4a4" fill-opacity="0.8"/><circle cx="295.1" cy="422.6" r="1.8" fill="#a4a4a4" fill-opacity="0.8"/><circle cx="289.0" cy="405.4" r="1.8" fill="#a4a4a4" fill-opacity="0.8"/><circle cx="286.8" cy="428.8" r="1.8" fill="#a4a4a4" fill-opacity="0.8"/><circle cx="303.2" cy="391.6" r="1.8" fill="#a4a4a4" fill-opacity="0.8"/><circle cx="286.1" cy="433.8" r="1.8" fill="#a4a4a4" fill-opacity="0.8"/><circle cx="303.5" cy="393.8" r="1.8" fill="#a4a4a4" fill-opacity="0.8"/><circle cx="279.7" cy="424.6" r="1.8" fill="#a4a4a4" fill-opacity="0.8"/><circle cx="279.3" cy="404.8" r="1.8" fill="#a4a4a4" fill-opacity="0.8"/><circle cx="285.0" cy="434.6" r="1.8" fill="#a4a4a4" fill-opacity="0.8"/><circle cx="292.3" cy="441.3" r="1.8" fill="#a4a4a4" fill-opacity="0.8"/><circle cx="297.9" cy="396.2" r="1.8" fill="#a4a4a4" fill-opacity="0.8"/><circle cx="297.2" cy="413.0" r="1.8" fill="#a4a4a4" fill-opacity="0.8"/><circle cx="286.5" cy="436.7" r="1.8" fill="#a4a4a4" fill-opacity="0.8"/><circle cx="306.1" cy="396.4" r="1.8" fill="#a4a4a4" fill-opacity="0.8"/><circle cx="301.9" cy="414.6" r="1.8" fill="#a4a4a4" fill-opacity="0.8"/><circle cx="294.6" cy="429.2" r="1.8" fill="#a4a4a4" fill-opacity="0.8"/><circle cx="291.7" cy="436.7" r="1.8" fill="#a4a4a4" fill-opacity="0.8"/><circle cx="278.5" cy="416.2" r="1.8" fill="#a4a4a4" fill-opacity="0.8"/><circle cx="288.4" cy="429.6" r="1.8" fill="#a4a4a4" fill-opacity="0.8"/><circle cx="300.8" cy="419.4" r="1.8" fill="#a4a4a4" fill-opacity="0.8"/><circle cx="299.8" cy="398.5" r="1.8" fill="#a4a4a4" fill-opacity="0.8"/><circle cx="298.4" cy="393.9" r="1.8" fill="#a4a4a4" fill-opacity="0.8"/><circle cx="285.9" cy="435.4" r="1.8" fill="#a4a4a4" fill-opacity="0.8"/><circle cx="301.4" cy="421.3" r="1.8" fill="#a4a4a4" fill-opacity="0.8"/><circle cx="290.8" cy="426.2" r="1.8" fill="#a4a4a4" fill-opacity="0.8"/><circle cx="277.8" cy="405.1" r="1.8" fill="#a4a4a4" fill-opacity="0.8"/><circle cx="288.1" cy="411.0" r="1.8" fill="#a4a4a4" fill-opacity="0.8"/><circle cx="285.3" cy="402.5" r="1.8" fill="#a4a4a4" fill-opacity="0.8"/><circle cx="297.9" cy="398.9" r="1.8" fill="#a4a4a4" fill-opacity="0.8"/><circle cx="284.4" cy="428.0" r="1.8" fill="#a4a4a4" fill-opacity="0.8"/><circle cx="291.5" cy="404.7" r="1.8" fill="#a4a4a4" fill-opacity="0.8"/><circle cx="301.8" cy="415.8" r="1.8" fill="#a4a4a4" fill-opacity="0.8"/><circle cx="285.0" cy="410.7" r="1.8" fill="#a4a4a4" fill-opacity="0.8"/><circle cx="285.2" cy="439.7" r="1.8" fill="#a4a4a4" fill-opacity="0.8"/><circle cx="286.0" cy="422.2" r="1.8" fill="#a4a4a4" fill-opacity="0.8"/><circle cx="290.5" cy="435.9" r="1.8" fill="#a4a4a4" fill-opacity="0.8"/><circle cx="283.9" cy="432.9" r="1.8" fill="#a4a4a4" fill-opacity="0.8"/><circle cx="291.9" cy="427.8" r="1.8" fill="#a4a4a4" fill-opacity="0.8"/><circle cx="297.2" cy="416.6" r="1.8" fill="#a4a4a4" fill-opacity="0.8"/><circle cx="284.0" cy="436.8" r="1.8" fill="#a4a4a4" fill-opacity="0.8"/><circle cx="286.8" cy="407.3" r="1.8" fill="#a4a4a4" fill-opacity="0.8"/><circle cx="277.6" cy="402.8" r="1.8" fill="#a4a4a4" fill-opacity="0.8"/><circle cx="282.0" cy="406.8" r="1.8" fill="#a4a4a4" fill-opacity="0.8"/><circle cx="288.8" cy="429.7" r="1.8" fill="#a4a4a4" fill-opacity="0.8"/><circle cx="285.7" cy="397.7" r="1.8" fill="#a4a4a4" fill-opacity="0.8"/><circle cx="286.6" cy="417.0" r="1.8" fill="#a4a4a4" fill-opacity="0.8"/><circle cx="277.8" cy="400.7" r="1.8" fill="#a4a4a4" fill-opacity="0.8"/><circle cx="308.5" cy="392.1" r="1.8" fill="#a4a4a4" fill-opacity="0.8"/><circle cx="282.2" cy="432.4" r="1.8" fill="#a4a4a4" fill-opacity="0.8"/><circle cx="299.0" cy="430.6" r="1.8" fill="#a4a4a4" fill-opacity="0.8"/><circle cx="280.6" cy="422.2" r="1.8" fill="#a4a4a4" fill-opacity="0.8"/><circle cx="288.4" cy="418.1" r="1.8" fill="#a4a4a4" fill-opacity="0.8"/><circle cx="292.5" cy="401.8" r="1.8" fill="#a4a4a4" fill-opacity="0.8"/><circle cx="306.0" cy="392.0" r="1.8" fill="#a4a4a4" fill-opacity="0.8"/><circle cx="292.6" cy="426.6" r="1.8" fill="#a4a4a4" fill-opacity="0.8"/><circle cx="290.9" cy="442.5" r="1.8" fill="#a4a4a4" fill-opacity="0.8"/><circle cx="283.4" cy="405.2" r="1.8" fill="#a4a4a4" fill-opacity="0.8"/><circle cx="276.2" cy="399.1" r="1.8" fill="#a4a4a4" fill-opacity="0.8"/><circle cx="295.6" cy="433.7" r="1.8" fill="#a4a4a4" fill-opacity="0.8"/><circle cx="281.7" cy="407.6" r="1.8" fill="#a4a4a4" fill-opacity="0.8"/><circle cx="297.3" cy="426.3" r="1.8" fill="#a4a4a4" fill-opacity="0.8"/><circle cx="286.5" cy="442.0" r="1.8" fill="#a4a4a4" fill-opacity="0.8"/><circle cx="295.3" cy="434.3" r="1.8" fill="#a4a4a4" fill-opacity="0.8"/><circle cx="286.5" cy="432.0" r="1.8" fill="#a4a4a4" fill-opacity="0.8"/><circle cx="301.3" cy="401.6" r="1.8" fill="#a4a4a4" fill-opacity="0.8"/><circle cx="287.0" cy="408.9" r="1.8" fill="#a4a4a4" fill-opacity="0.8"/><circle cx="286.8" cy="421.5" r="1.8" fill="#a4a4a4" fill-opacity="0.8"/><circle cx="285.9" cy="436.8" r="1.8" fill="#a4a4a4" fill-opacity="0.8"/><circle cx="293.9" cy="393.7" r="1.8" fill="#a4a4a4" fill-opacity="0.8"/><circle cx="296.9" cy="425.7" r="1.8" fill="#a4a4a4" fill-opacity="0.8"/><circle cx="297.7" cy="430.0" r="1.8" fill="#a4a4a4" fill-opacity="0.8"/><circle cx="289.5" cy="443.0" r="1.8" fill="#a4a4a4" fill-opacity="0.8"/><circle cx="281.4" cy="418.7" r="1.8" fill="#a4a4a4" fill-opacity="0.8"/><circle cx="293.2" cy="407.8" r="1.8" fill="#a4a4a4" fill-opacity="0.8"/><circle cx="297.7" cy="395.9" r="1.8" fill="#a4a4a4" fill-opacity="0.8"/><circle cx="289.5" cy="400.4" r="1.8" fill="#a4a4a4" fill-opacity="0.8"/><circle cx="287.0" cy="444.4" r="1.8" fill="#a4a4a4" fill-opacity="0.8"/><circle cx="289.6" cy="393.7" r="1.8" fill="#a4a4a4" fill-opacity="0.8"/><circle cx="298.1" cy="401.9" r="1.8" fill="#a4a4a4" fill-opacity="0.8"/><circle cx="303.4" cy="391.7" r="1.8" fill="#a4a4a4" fill-opacity="0.8"/><circle cx="293.7" cy="438.1" r="1.8" fill="#a4a4a4" fill-opacity="0.8"/><circle cx="284.6" cy="414.7" r="1.8" fill="#a4a4a4" fill-opacity="0.8"/><circle cx="290.1" cy="427.6" r="1.8" fill="#a4a4a4" fill-opacity="0.8"/><circle cx="286.0" cy="414.5" r="1.8" fill="#a4a4a4" fill-opacity="0.8"/><circle cx="294.7" cy="415.4" r="1.8" fill="#a4a4a4" fill-opacity="0.8"/><circle cx="295.9" cy="436.5" r="1.8" fill="#a4a4a4" fill-opacity="0.8"/><circle cx="284.8" cy="400.5" r="1.8" fill="#a4a4a4" fill-opacity="0.8"/><circle cx="292.0" cy="415.7" r="1.8" fill="#a4a4a4" fill-opacity="0.8"/><circle cx="282.1" cy="410.5" r="1.8" fill="#a4a4a4" fill-opacity="0.8"/><circle cx="285.7" cy="396.1" r="1.8" fill="#a4a4a4" fill-opacity="0.8"/><circle cx="302.5" cy="416.6" r="1.8" fill="#a4a4a4" fill-opacity="0.8"/><circle cx="293.7" cy="441.0" r="1.8" fill="#a4a4a4" fill-opacity="0.8"/><circle cx="291.9" cy="444.6" r="1.8" fill="#a4a4a4" fill-opacity="0.8"/><circle cx="296.8" cy="425.3" r="1.8" fill="#a4a4a4" fill-opacity="0.8"/><circle cx="297.4" cy="394.8" r="1.8" fill="#a4a4a4" fill-opacity="0.8"/><circle cx="285.3" cy="424.7" r="1.8" fill="#a4a4a4" fill-opacity="0.8"/><circle cx="300.6" cy="422.6" r="1.8" fill="#a4a4a4" fill-opacity="0.8"/><circle cx="294.0" cy="417.7" r="1.8" fill="#a4a4a4" fill-opacity="0.8"/><circle cx="286.3" cy="407.8" r="1.8" fill="#a4a4a4" fill-opacity="0.8"/><circle cx="283.8" cy="439.7" r="1.8" fill="#a4a4a4" fill-opacity="0.8"/><circle cx="296.7" cy="401.8" r="1.8" fill="#a4a4a4" fill-opacity="0.8"/><circle cx="279.3" cy="415.9" r="1.8" fill="#a4a4a4" fill-opacity="0.8"/><circle cx="287.2" cy="427.5" r="1.8" fill="#a4a4a4" fill-opacity="0.8"/><circle cx="288.0" cy="423.2" r="1.8" fill="#a4a4a4" fill-opacity="0.8"/><circle cx="291.6" cy="420.4" r="1.8" fill="#a4a4a4" fill-opacity="0.8"/><circle cx="279.9" cy="413.1" r="1.8" fill="#a4a4a4" fill-opacity="0.8"/><circle cx="303.4" cy="401.3" r="1.8" fill="#a4a4a4" fill-opacity="0.8"/><circle cx="280.6" cy="421.4" r="1.8" fill="#a4a4a4" fill-opacity="0.8"/><circle cx="286.4" cy="438.5" r="1.8" fill="#a4a4a4" fill-opacity="0.8"/><circle cx="292.5" cy="396.7" r="1.8" fill="#a4a4a4" fill-opacity="0.8"/><circle cx="290.7" cy="405.2" r="1.8" fill="#a4a4a4" fill-opacity="0.8"/><circle cx="283.4" cy="421.7" r="1.8" fill="#a4a4a4" fill-opacity="0.8"/><circle cx="280.8" cy="422.7" r="1.8" fill="#a4a4a4" fill-opacity="0.8"/><circle cx="292.3" cy="419.5" r="1.8" fill="#a4a4a4" fill-opacity="0.8"/><circle cx="288.5" cy="395.9" r="1.8" fill="#a4a4a4" fill-opacity="0.8"/><circle cx="289.5" cy="395.5" r="1.8" fill="#a4a4a4" fill-opacity="0.8"/><circle cx="290.4" cy="438.6" r="1.8" fill="#a4a4a4" fill-opacity="0.8"/><circle cx="294.8" cy="430.4" r="1.8" fill="#a4a4a4" fill-opacity="0.8"/><circle cx="307.3" cy="397.7" r="1.8" fill="#a4a4a4" fill-opacity="0.8"/><circle cx="282.2" cy="430.8" r="1.8" fill="#a4a4a4" fill-opacity="0.8"/><circle cx="288.1" cy="436.7" r="1.8" fill="#a4a4a4" fill-opacity="0.8"/><circle cx="305.6" cy="400.8" r="1.8" fill="#a4a4a4" fill-opacity="0.8"/><circle cx="296.5" cy="422.2" r="1.8" fill="#a4a4a4" fill-opacity="0.8"/><circle cx="300.1" cy="399.0" r="1.8" fill="#a4a4a4" fill-opacity="0.8"/><circle cx="282.8" cy="394.6" r="1.8" fill="#a4a4a4" fill-opacity="0.8"/><circle cx="277.1" cy="411.8" r="1.8" fill="#a4a4a4" fill-opacity="0.8"/><circle cx="283.4" cy="423.9" r="1.8" fill="#a4a4a4" fill-opacity="0.8"/><circle cx="296.8" cy="407.8" r="1.8" fill="#a4a4a4" fill-opacity="0.8"/><circle cx="300.8" cy="414.7" r="1.8" fill="#a4a4a4" fill-opacity="0.8"/><circle cx="298.1" cy="425.4" r="1.8" fill="#a4a4a4" fill-opacity="0.8"/><circle cx="299.9" cy="422.2" r="1.8" fill="#a4a4a4" fill-opacity="0.8"/><circle cx="285.3" cy="439.0" r="1.8" fill="#a4a4a4" fill-opacity="0.8"/><circle cx="286.8" cy="432.1" r="1.8" fill="#a4a4a4" fill-opacity="0.8"/><circle cx="292.9" cy="433.1" r="1.8" fill="#a4a4a4" fill-opacity="0.8"/><circle cx="284.0" cy="436.5" r="1.8" fill="#a4a4a4" fill-opacity="0.8"/><circle cx="297.1" cy="411.8" r="1.8" fill="#a4a4a4" fill-opacity="0.8"/><circle cx="291.2" cy="443.2" r="1.8" fill="#a4a4a4" fill-opacity="0.8"/><circle cx="295.1" cy="393.9" r="1.8" fill="#a4a4a4" fill-opacity="0.8"/><circle cx="293.0" cy="396.9" r="1.8" fill="#a4a4a4" fill-opacity="0.8"/><circle cx="283.5" cy="435.3" r="1.8" fill="#a4a4a4" fill-opacity="0.8"/><circle cx="291.3" cy="441.9" r="1.8" fill="#a4a4a4" fill-opacity="0.8"/><circle cx="281.8" cy="405.4" r="1.8" fill="#a4a4a4" fill-opacity="0.8"/><circle cx="299.2" cy="415.8" r="1.8" fill="#a4a4a4" fill-opacity="0.8"/><circle cx="280.9" cy="423.2" r="1.8" fill="#a4a4a4" fill-opacity="0.8"/><circle cx="278.4" cy="392.6" r="1.8" fill="#a4a4a4" fill-opacity="0.8"/><circle cx="284.7" cy="435.1" r="1.8" fill="#a4a4a4" fill-opacity="0.8"/><circle cx="284.9" cy="421.7" r="1.8" fill="#a4a4a4" fill-opacity="0.8"/><circle cx="287.4" cy="429.0" r="1.8" fill="#a4a4a4" fill-opacity="0.8"/><circle cx="303.2" cy="399.4" r="1.8" fill="#a4a4a4" fill-opacity="0.8"/><circle cx="294.6" cy="420.8" r="1.8" fill="#a4a4a4" fill-opacity="0.8"/><circle cx="296.9" cy="435.5" r="1.8" fill="#a4a4a4" fill-opacity="0.8"/><circle cx="286.3" cy="392.3" r="1.8" fill="#a4a4a4" fill-opacity="0.8"/><circle cx="291.3" cy="399.7" r="1.8" fill="#a4a4a4" fill-opacity="0.8"/><circle cx="293.7" cy="439.1" r="1.8" fill="#a4a4a4" fill-opacity="0.8"/><circle cx="280.9" cy="393.4" r="1.8" fill="#a4a4a4" fill-opacity="0.8"/><circle cx="292.5" cy="436.1" r="1.8" fill="#a4a4a4" fill-opacity="0.8"/><circle cx="289.8" cy="412.9" r="1.8" fill="#a4a4a4" fill-opacity="0.8"/><circle cx="302.2" cy="400.1" r="1.8" fill="#a4a4a4" fill-opacity="0.8"/><circle cx="300.7" cy="412.9" r="1.8" fill="#a4a4a4" fill-opacity="0.8"/><circle cx="280.4" cy="424.8" r="1.8" fill="#a4a4a4" fill-opacity="0.8"/><circle cx="282.6" cy="409.4" r="1.8" fill="#a4a4a4" fill-opacity="0.8"/><circle cx="290.8" cy="440.2" r="1.8" fill="#a4a4a4" fill-opacity="0.8"/><circle cx="280.5" cy="393.9" r="1.8" fill="#a4a4a4" fill-opacity="0.8"/><circle cx="289.7" cy="411.2" r="1.8" fill="#a4a4a4" fill-opacity="0.8"/><circle cx="287.3" cy="422.9" r="1.8" fill="#a4a4a4" fill-opacity="0.8"/><circle cx="276.7" cy="410.8" r="1.8" fill="#a4a4a4" fill-opacity="0.8"/><circle cx="286.1" cy="423.1" r="1.8" fill="#a4a4a4" fill-opacity="0.8"/><circle cx="290.3" cy="392.6" r="1.8" fill="#a4a4a4" fill-opacity="0.8"/><circle cx="287.3" cy="445.3" r="1.8" fill="#a4a4a4" fill-opacity="0.8"/><circle cx="296.7" cy="399.4" r="1.8" fill="#a4a4a4" fill-opacity="0.8"/><circle cx="284.2" cy="406.4" r="1.8" fill="#a4a4a4" fill-opacity="0.8"/><circle cx="284.0" cy="418.8" r="1.8" fill="#a4a4a4" fill-opacity="0.8"/><circle cx="290.6" cy="422.5" r="1.8" fill="#a4a4a4" fill-opacity="0.8"/><circle cx="292.9" cy="443.7" r="1.8" fill="#a4a4a4" fill-opacity="0.8"/><circle cx="293.7" cy="393.4" r="1.8" fill="#a4a4a4" fill-opacity="0.8"/><circle cx="296.2" cy="433.5" r="1.8" fill="#a4a4a4" fill-opacity="0.8"/><circle cx="292.0" cy="433.7" r="1.8" fill="#a4a4a4" fill-opacity="0.8"/><circle cx="286.9" cy="426.1" r="1.8" fill="#a4a4a4" fill-opacity="0.8"/><circle cx="299.6" cy="406.8" r="1.8" fill="#a4a4a4" fill-opacity="0.8"/><circle cx="295.5" cy="439.1" r="1.8" fill="#a4a4a4" fill-opacity="0.8"/><circle cx="285.8" cy="428.6" r="1.8" fill="#a4a4a4" fill-opacity="0.8"/><circle cx="294.0" cy="433.1" r="1.8" fill="#a4a4a4" fill-opacity="0.8"/><circle cx="293.5" cy="419.2" r="1.8" fill="#a4a4a4" fill-opacity="0.8"/><circle cx="292.1" cy="410.6" r="1.8" fill="#a4a4a4" fill-opacity="0.8"/><circle cx="278.5" cy="413.6" r="1.8" fill="#a4a4a4" fill-opacity="0.8"/><circle cx="285.7" cy="409.9" r="1.8" fill="#a4a4a4" fill-opacity="0.8"/><circle cx="289.3" cy="445.4" r="1.8" fill="#a4a4a4" fill-opacity="0.8"/><circle cx="283.4" cy="411.5" r="1.8" fill="#a4a4a4" fill-opacity="0.8"/><circle cx="286.5" cy="404.3" r="1.8" fill="#a4a4a4" fill-opacity="0.8"/><circle cx="275.6" cy="398.9" r="1.8" fill="#a4a4a4" fill-opacity="0.8"/><circle cx="289.1" cy="439.0" r="1.8" fill="#a4a4a4" fill-opacity="0.8"/><circle cx="292.1" cy="415.8" r="1.8" fill="#a4a4a4" fill-opacity="0.8"/><circle cx="281.2" cy="408.0" r="1.8" fill="#a4a4a4" fill-opacity="0.8"/><circle cx="284.9" cy="395.1" r="1.8" fill="#a4a4a4" fill-opacity="0.8"/><circle cx="297.3" cy="408.3" r="1.8" fill="#a4a4a4" fill-opacity="0.8"/><circle cx="300.5" cy="421.5" r="1.8" fill="#a4a4a4" fill-opacity="0.8"/><circle cx="302.6" cy="410.1" r="1.8" fill="#a4a4a4" fill-opacity="0.8"/><circle cx="311.2" cy="392.1" r="1.8" fill="#b3b3b3" fill-opacity="0.85"/><circle cx="312.3" cy="394.5" r="1.8" fill="#b3b3b3" fill-opacity="0.85"/><circle cx="312.3" cy="406.3" r="1.8" fill="#b3b3b3" fill-opacity="0.85"/><circle cx="309.7" cy="392.9" r="1.8" fill="#b3b3b3" fill-opacity="0.85"/><circle cx="307.9" cy="404.5" r="1.8" fill="#b3b3b3" fill-opacity="0.85"/><circle cx="323.0" cy="395.3" r="1.8" fill="#b3b3b3" fill-opacity="0.85"/><circle cx="309.1" cy="394.5" r="1.8" fill="#b3b3b3" fill-opacity="0.85"/><circle cx="311.0" cy="401.1" r="1.8" fill="#b3b3b3" fill-opacity="0.85"/><circle cx="309.8" cy="393.0" r="1.8" fill="#b3b3b3" fill-opacity="0.85"/><circle cx="306.1" cy="410.6" r="1.8" fill="#b3b3b3" fill-opacity="0.85"/><circle cx="309.2" cy="403.9" r="1.8" fill="#b3b3b3" fill-opacity="0.85"/><circle cx="312.1" cy="407.5" r="1.8" fill="#b3b3b3" fill-opacity="0.85"/><circle cx="309.7" cy="405.1" r="1.8" fill="#b3b3b3" fill-opacity="0.85"/><circle cx="314.0" cy="410.4" r="1.8" fill="#b3b3b3" fill-opacity="0.85"/><circle cx="319.2" cy="395.7" r="1.8" fill="#b3b3b3" fill-opacity="0.85"/><circle cx="311.1" cy="402.4" r="1.8" fill="#b3b3b3" fill-opacity="0.85"/><circle cx="310.1" cy="399.7" r="1.8" fill="#b3b3b3" fill-opacity="0.85"/><circle cx="321.4" cy="397.9" r="1.8" fill="#b3b3b3" fill-opacity="0.85"/><circle cx="317.7" cy="397.6" r="1.8" fill="#b3b3b3" fill-opacity="0.85"/><circle cx="305.6" cy="412.9" r="1.8" fill="#b3b3b3" fill-opacity="0.85"/><circle cx="306.6" cy="402.4" r="1.8" fill="#b3b3b3" fill-opacity="0.85"/><circle cx="313.7" cy="409.4" r="1.8" fill="#b3b3b3" fill-opacity="0.85"/><circle cx="307.9" cy="402.1" r="1.8" fill="#b3b3b3" fill-opacity="0.85"/><circle cx="309.9" cy="395.5" r="1.8" fill="#b3b3b3" fill-opacity="0.85"/><circle cx="312.8" cy="393.9" r="1.8" fill="#b3b3b3" fill-opacity="0.85"/><circle cx="316.6" cy="399.7" r="1.8" fill="#b3b3b3" fill-opacity="0.85"/><circle cx="309.0" cy="392.6" r="1.8" fill="#b3b3b3" fill-opacity="0.85"/><circle cx="321.8" cy="405.4" r="1.8" fill="#b3b3b3" fill-opacity="0.85"/><circle cx="327.4" cy="394.3" r="1.8" fill="#b3b3b3" fill-opacity="0.85"/><circle cx="314.8" cy="405.9" r="1.8" fill="#b3b3b3" fill-opacity="0.85"/><circle cx="308.6" cy="397.7" r="1.8" fill="#b3b3b3" fill-opacity="0.85"/><circle cx="309.9" cy="402.6" r="1.8" fill="#b3b3b3" fill-opacity="0.85"/><circle cx="315.4" cy="395.9" r="1.8" fill="#b3b3b3" fill-opacity="0.85"/><circle cx="316.1" cy="408.0" r="1.8" fill="#b3b3b3" fill-opacity="0.85"/><circle cx="314.0" cy="403.8" r="1.8" fill="#b3b3b3" fill-opacity="0.85"/><circle cx="314.9" cy="398.9" r="1.8" fill="#b3b3b3" fill-opacity="0.85"/><circle cx="312.3" cy="400.1" r="1.8" fill="#b3b3b3" fill-opacity="0.85"/><circle cx="311.5" cy="405.6" r="1.8" fill="#b3b3b3" fill-opacity="0.85"/><circle cx="305.6" cy="409.2" r="1.8" fill="#b3b3b3" fill-opacity="0.85"/><circle cx="305.6" cy="410.9" r="1.8" fill="#b3b3b3" fill-opacity="0.85"/><circle cx="308.6" cy="412.7" r="1.8" fill="#b3b3b3" fill-opacity="0.85"/><circle cx="312.2" cy="411.2" r="1.8" fill="#b3b3b3" fill-opacity="0.85"/><circle cx="309.9" cy="393.9" r="1.8" fill="#b3b3b3" fill-opacity="0.85"/><circle cx="309.1" cy="406.4" r="1.8" fill="#b3b3b3" fill-opacity="0.85"/><circle cx="316.2" cy="394.3" r="1.8" fill="#b3b3b3" fill-opacity="0.85"/><circle cx="277.3" cy="419.2" r="1.8" fill="#b3b3b3" fill-opacity="0.85"/><circle cx="273.5" cy="423.6" r="1.8" fill="#b3b3b3" fill-opacity="0.85"/><circle cx="270.1" cy="403.4" r="1.8" fill="#b3b3b3" fill-opacity="0.85"/><circle cx="277.7" cy="423.0" r="1.8" fill="#b3b3b3" fill-opacity="0.85"/><circle cx="275.1" cy="400.0" r="1.8" fill="#b3b3b3" fill-opacity="0.85"/><circle cx="272.0" cy="397.2" r="1.8" fill="#b3b3b3" fill-opacity="0.85"/><circle cx="275.6" cy="401.7" r="1.8" fill="#b3b3b3" fill-opacity="0.85"/><circle cx="279.0" cy="429.8" r="1.8" fill="#b3b3b3" fill-opacity="0.85"/><circle cx="274.6" cy="401.6" r="1.8" fill="#b3b3b3" fill-opacity="0.85"/><circle cx="276.8" cy="422.3" r="1.8" fill="#b3b3b3" fill-opacity="0.85"/><circle cx="274.3" cy="396.1" r="1.8" fill="#b3b3b3" fill-opacity="0.85"/><circle cx="278.1" cy="423.8" r="1.8" fill="#b3b3b3" fill-opacity="0.85"/><circle cx="269.8" cy="413.5" r="1.8" fill="#b3b3b3" fill-opacity="0.85"/><circle cx="274.8" cy="418.5" r="1.8" fill="#b3b3b3" fill-opacity="0.85"/><circle cx="333.0" cy="394.0" r="1.8" fill="#b3b3b3" fill-opacity="0.85"/><circle cx="336.0" cy="397.0" r="1.8" fill="#b3b3b3" fill-opacity="0.85"/><circle cx="330.0" cy="399.0" r="1.8" fill="#b3b3b3" fill-opacity="0.85"/><circle cx="327.0" cy="404.0" r="1.8" fill="#b3b3b3" fill-opacity="0.85"/><circle cx="325.0" cy="409.0" r="1.8" fill="#b3b3b3" fill-opacity="0.85"/><circle cx="318.0" cy="414.0" r="1.8" fill="#b3b3b3" fill-opacity="0.85"/><circle cx="313.0" cy="420.0" r="1.8" fill="#b3b3b3" fill-opacity="0.85"/><circle cx="268.0" cy="392.5" r="1.8" fill="#b3b3b3" fill-opacity="0.85"/><circle cx="271.0" cy="409.0" r="1.8" fill="#b3b3b3" fill-opacity="0.85"/><circle cx="272.0" cy="424.0" r="1.8" fill="#b3b3b3" fill-opacity="0.85"/><circle cx="275.0" cy="432.0" r="1.8" fill="#b3b3b3" fill-opacity="0.85"/><circle cx="303.0" cy="436.0" r="1.8" fill="#b3b3b3" fill-opacity="0.85"/><circle cx="316.0" cy="397.0" r="1.8" fill="#b3b3b3" fill-opacity="0.85"/><circle cx="320.0" cy="400.0" r="1.8" fill="#b3b3b3" fill-opacity="0.85"/><circle cx="324.0" cy="393.0" r="1.8" fill="#b3b3b3" fill-opacity="0.85"/><circle cx="314.0" cy="405.0" r="1.8" fill="#b3b3b3" fill-opacity="0.85"/></g>
<use href="#vol" transform="translate(130.4,0)"/>
<line x1="288.80" y1="280.30" x2="288.80" y2="391.00" stroke="#444" stroke-width="1.0"/>
<line x1="288.80" y1="391.00" x2="288.80" y2="414.00" stroke="#6a6a6a" stroke-width="0.8"/>
<line x1="285.50" y1="280.30" x2="288.80" y2="280.30" stroke="#444" stroke-width="1.0"/>
<text x="280.80" y="285.00" font-size="11" text-anchor="end" fill="#2b2b2b" font-weight="normal">6</text>
<polyline points="230.00,447.60 230.00,444.20 348.70,444.20 348.70,447.60" fill="none" stroke="#2a2a2a" stroke-width="1.1" stroke-linejoin="round"/>
<line x1="288.80" y1="444.20" x2="288.80" y2="447.60" stroke="#2a2a2a" stroke-width="1.1"/>
<text x="230.00" y="458.70" font-size="11" text-anchor="middle" fill="#2b2b2b" font-weight="normal">-2</text>
<text x="289.10" y="458.70" font-size="11" text-anchor="middle" fill="#2b2b2b" font-weight="normal">0</text>
<text x="348.70" y="458.70" font-size="11" text-anchor="middle" fill="#2b2b2b" font-weight="normal">2</text>
<line x1="419.20" y1="280.30" x2="419.20" y2="391.00" stroke="#444" stroke-width="1.0"/>
<line x1="419.20" y1="391.00" x2="419.20" y2="414.00" stroke="#6a6a6a" stroke-width="0.8"/>
<line x1="415.90" y1="280.30" x2="419.20" y2="280.30" stroke="#444" stroke-width="1.0"/>
<text x="411.20" y="285.00" font-size="11" text-anchor="end" fill="#2b2b2b" font-weight="normal">6</text>
<polyline points="360.40,447.60 360.40,444.20 479.10,444.20 479.10,447.60" fill="none" stroke="#2a2a2a" stroke-width="1.1" stroke-linejoin="round"/>
<line x1="419.20" y1="444.20" x2="419.20" y2="447.60" stroke="#2a2a2a" stroke-width="1.1"/>
<text x="360.40" y="458.70" font-size="11" text-anchor="middle" fill="#2b2b2b" font-weight="normal">-2</text>
<text x="419.50" y="458.70" font-size="11" text-anchor="middle" fill="#2b2b2b" font-weight="normal">0</text>
<text x="479.10" y="458.70" font-size="11" text-anchor="middle" fill="#2b2b2b" font-weight="normal">2</text>
<text x="308.8" y="470.9" font-size="11" fill="#2b2b2b">Log<tspan font-size="7" dy="2.5">2</tspan><tspan dy="-2.5">(73-/10-week)</tspan></text>
<text transform="translate(361.6,319.2) rotate(-90)" font-size="11" text-anchor="middle" fill="#2b2b2b">-Log<tspan font-size="7" dy="2.5">10</tspan><tspan dy="-2.5">(p-value)</tspan></text>
<rect x="242.5" y="259.5" width="222" height="14" fill="none" stroke="#5a5a5a" stroke-width="1" stroke-dasharray="1.5,1.5"/>
<circle cx="250.40" cy="266.60" r="2.8" fill="#f0df6a"/>
<text x="256.50" y="269.80" font-size="11" text-anchor="start" fill="#2b2b2b" font-weight="normal" textLength="33.80" lengthAdjust="spacingAndGlyphs">q&lt;0.01</text>
<circle cx="305.00" cy="266.60" r="2.8" fill="#0e6b3a"/>
<text x="311.50" y="269.80" font-size="11" text-anchor="start" fill="#2b2b2b" font-weight="normal" textLength="43.50" lengthAdjust="spacingAndGlyphs">ribosome</text>
<circle cx="398.80" cy="266.60" r="2.8" fill="#1a4a2a"/>
<text x="404.60" y="269.60" font-size="11" text-anchor="start" fill="#2b2b2b" font-weight="normal" textLength="59.50" lengthAdjust="spacingAndGlyphs">spliceosome</text>
<circle cx="275.89" cy="326.96" r="2.0" fill="#0d6535"/>
<circle cx="277.06" cy="328.93" r="2.0" fill="#0d6535"/>
<circle cx="279.31" cy="311.16" r="2.0" fill="#0d6535"/>
<circle cx="273.92" cy="336.64" r="2.0" fill="#0d6535"/>
<circle cx="276.08" cy="316.73" r="2.0" fill="#0d6535"/>
<circle cx="282.56" cy="324.52" r="2.0" fill="#0d6535"/>
<circle cx="281.16" cy="324.72" r="2.0" fill="#0d6535"/>
<circle cx="279.42" cy="313.97" r="2.0" fill="#0d6535"/>
<circle cx="279.39" cy="337.65" r="2.0" fill="#0d6535"/>
<circle cx="278.40" cy="333.46" r="2.0" fill="#0d6535"/>
<circle cx="279.71" cy="311.11" r="2.0" fill="#0d6535"/>
<circle cx="280.47" cy="328.51" r="2.0" fill="#0d6535"/>
<circle cx="276.45" cy="310.02" r="2.0" fill="#0d6535"/>
<circle cx="281.42" cy="324.60" r="2.0" fill="#0d6535"/>
<circle cx="280.13" cy="338.00" r="2.0" fill="#0d6535"/>
<circle cx="280.08" cy="339.40" r="2.0" fill="#0d6535"/>
<circle cx="277.28" cy="335.43" r="2.0" fill="#0d6535"/>
<circle cx="277.71" cy="339.87" r="2.0" fill="#0d6535"/>
<circle cx="281.53" cy="312.22" r="2.0" fill="#0d6535"/>
<circle cx="275.00" cy="316.16" r="2.0" fill="#0d6535"/>
<circle cx="282.30" cy="323.39" r="2.0" fill="#0d6535"/>
<circle cx="279.31" cy="318.93" r="2.0" fill="#0d6535"/>
<circle cx="278.26" cy="321.73" r="2.0" fill="#0d6535"/>
<circle cx="276.89" cy="328.31" r="2.0" fill="#0d6535"/>
<circle cx="278.94" cy="338.84" r="2.0" fill="#0d6535"/>
<circle cx="279.80" cy="339.66" r="2.0" fill="#0d6535"/>
<circle cx="281.34" cy="341.70" r="2.0" fill="#0d6535"/>
<circle cx="279.71" cy="314.38" r="2.0" fill="#0d6535"/>
<circle cx="281.37" cy="340.83" r="2.0" fill="#0d6535"/>
<circle cx="281.76" cy="327.78" r="2.0" fill="#0d6535"/>
<circle cx="280.08" cy="315.97" r="2.0" fill="#0d6535"/>
<circle cx="281.12" cy="327.93" r="2.0" fill="#0d6535"/>
<circle cx="276.31" cy="311.09" r="2.0" fill="#0d6535"/>
<circle cx="281.31" cy="341.66" r="2.0" fill="#0d6535"/>
<circle cx="274.58" cy="335.42" r="2.0" fill="#0d6535"/>
<circle cx="277.41" cy="313.98" r="2.0" fill="#0d6535"/>
<circle cx="276.39" cy="334.37" r="2.0" fill="#0d6535"/>
<circle cx="281.48" cy="310.46" r="2.0" fill="#0d6535"/>
<circle cx="279.21" cy="310.48" r="2.0" fill="#0d6535"/>
<circle cx="280.12" cy="319.92" r="2.0" fill="#0d6535"/>
<circle cx="281.55" cy="341.36" r="2.0" fill="#0d6535"/>
<circle cx="278.25" cy="341.95" r="2.0" fill="#0d6535"/>
<circle cx="276.53" cy="311.54" r="2.0" fill="#0d6535"/>
<circle cx="279.08" cy="310.04" r="2.0" fill="#0d6535"/>
<circle cx="275.54" cy="322.46" r="2.0" fill="#0d6535"/>
<circle cx="279.17" cy="314.15" r="2.0" fill="#0d6535"/>
<circle cx="274.17" cy="337.64" r="2.0" fill="#0d6535"/>
<circle cx="276.56" cy="340.64" r="2.0" fill="#0d6535"/>
<circle cx="281.69" cy="321.47" r="2.0" fill="#0d6535"/>
<circle cx="277.85" cy="326.16" r="2.0" fill="#0d6535"/>
<circle cx="279.47" cy="328.66" r="2.0" fill="#0d6535"/>
<circle cx="278.72" cy="329.46" r="2.0" fill="#0d6535"/>
<circle cx="282.08" cy="325.73" r="2.0" fill="#0d6535"/>
<circle cx="277.59" cy="332.77" r="2.0" fill="#0d6535"/>
<circle cx="275.89" cy="318.94" r="2.0" fill="#0d6535"/>
<circle cx="282.40" cy="326.20" r="2.0" fill="#0d6535"/>
<circle cx="278.63" cy="309.38" r="2.0" fill="#0d6535"/>
<circle cx="277.45" cy="328.14" r="2.0" fill="#0d6535"/>
<circle cx="273.98" cy="329.32" r="2.0" fill="#0d6535"/>
<circle cx="279.36" cy="310.98" r="2.0" fill="#0d6535"/>
<circle cx="279.32" cy="324.39" r="2.0" fill="#0d6535"/>
<circle cx="279.78" cy="320.64" r="2.0" fill="#0d6535"/>
<circle cx="280.02" cy="333.36" r="2.0" fill="#0d6535"/>
<circle cx="274.00" cy="311.00" r="2.0" fill="#0d6535"/>
<circle cx="279.75" cy="340.79" r="2.0" fill="#0d6535"/>
<circle cx="276.01" cy="324.06" r="2.0" fill="#0d6535"/>
<circle cx="279.02" cy="319.56" r="2.0" fill="#0d6535"/>
<circle cx="277.00" cy="319.32" r="2.0" fill="#0d6535"/>
<circle cx="277.05" cy="328.66" r="2.0" fill="#0d6535"/>
<circle cx="276.44" cy="321.45" r="2.0" fill="#0d6535"/>
<circle cx="280.60" cy="309.89" r="2.0" fill="#0d6535"/>
<circle cx="278.81" cy="333.26" r="2.0" fill="#0d6535"/>
<circle cx="276.53" cy="316.34" r="2.0" fill="#0d6535"/>
<circle cx="280.87" cy="316.88" r="2.0" fill="#0d6535"/>
<circle cx="275.45" cy="323.36" r="2.0" fill="#0d6535"/>
<circle cx="279.94" cy="312.36" r="2.0" fill="#0d6535"/>
<circle cx="276.63" cy="320.01" r="2.0" fill="#0d6535"/>
<circle cx="281.14" cy="323.47" r="2.0" fill="#0d6535"/>
<circle cx="281.33" cy="314.59" r="2.0" fill="#0d6535"/>
<circle cx="276.76" cy="330.46" r="2.0" fill="#0d6535"/>
<circle cx="275.70" cy="334.40" r="2.0" fill="#0d6535"/>
<circle cx="280.00" cy="335.00" r="2.0" fill="#0d6535"/>
<circle cx="281.50" cy="343.10" r="2.0" fill="#0d6535"/>
<circle cx="279.30" cy="348.20" r="2.0" fill="#0d6535"/>
<circle cx="283.70" cy="351.20" r="2.0" fill="#0d6535"/>
<circle cx="276.80" cy="354.10" r="2.0" fill="#0d6535"/>
<circle cx="283.20" cy="356.30" r="2.0" fill="#0d6535"/>
<circle cx="283.00" cy="358.50" r="2.0" fill="#0d6535"/>
<circle cx="274.90" cy="366.50" r="2.0" fill="#0d6535"/>
<circle cx="283.00" cy="366.50" r="2.0" fill="#0d6535"/>
<circle cx="278.60" cy="370.10" r="2.0" fill="#0d6535"/>
<circle cx="283.00" cy="373.10" r="2.0" fill="#0d6535"/>
<circle cx="284.40" cy="373.80" r="2.0" fill="#0d6535"/>
<circle cx="282.70" cy="379.60" r="2.0" fill="#0d6535"/>
<circle cx="285.10" cy="384.00" r="2.0" fill="#0d6535"/>
<circle cx="283.70" cy="386.20" r="2.0" fill="#0d6535"/>
<circle cx="284.10" cy="387.70" r="2.0" fill="#0d6535"/>
<circle cx="300.50" cy="357.40" r="2.0" fill="#0d6535"/>
<circle cx="294.30" cy="372.00" r="2.0" fill="#0d6535"/>
<circle cx="274.70" cy="366.30" r="2.0" fill="#0d6535"/>
<circle cx="279.00" cy="370.50" r="2.0" fill="#0d6535"/>
<circle cx="283.20" cy="373.70" r="2.0" fill="#0d6535"/>
<circle cx="284.20" cy="376.80" r="2.0" fill="#0d6535"/>
<circle cx="283.20" cy="380.00" r="2.0" fill="#0d6535"/>
<circle cx="408.70" cy="312.60" r="2.0" fill="#0f3b1c"/>
<circle cx="409.30" cy="319.80" r="2.0" fill="#0f3b1c"/>
<circle cx="410.60" cy="322.90" r="2.0" fill="#0f3b1c"/>
<circle cx="403.40" cy="328.50" r="2.0" fill="#0f3b1c"/>
<circle cx="405.80" cy="329.20" r="2.0" fill="#0f3b1c"/>
<circle cx="410.60" cy="327.70" r="2.0" fill="#0f3b1c"/>
<circle cx="412.10" cy="328.50" r="2.0" fill="#0f3b1c"/>
<circle cx="409.30" cy="332.40" r="2.0" fill="#0f3b1c"/>
<circle cx="415.13" cy="354.20" r="2.0" fill="#0f3b1c"/>
<circle cx="411.31" cy="338.68" r="2.0" fill="#0f3b1c"/>
<circle cx="413.07" cy="341.97" r="2.0" fill="#0f3b1c"/>
<circle cx="414.68" cy="372.41" r="2.0" fill="#0f3b1c"/>
<circle cx="411.06" cy="346.09" r="2.0" fill="#0f3b1c"/>
<circle cx="414.68" cy="363.17" r="2.0" fill="#0f3b1c"/>
<circle cx="414.68" cy="349.23" r="2.0" fill="#0f3b1c"/>
<circle cx="410.75" cy="346.72" r="2.0" fill="#0f3b1c"/>
<circle cx="414.60" cy="345.75" r="2.0" fill="#0f3b1c"/>
<circle cx="412.01" cy="352.59" r="2.0" fill="#0f3b1c"/>
<circle cx="412.43" cy="352.25" r="2.0" fill="#0f3b1c"/>
<circle cx="415.34" cy="340.33" r="2.0" fill="#0f3b1c"/>
<circle cx="410.03" cy="377.33" r="2.0" fill="#0f3b1c"/>
<circle cx="415.10" cy="379.38" r="2.0" fill="#0f3b1c"/>
<circle cx="412.52" cy="377.66" r="2.0" fill="#0f3b1c"/>
<circle cx="415.38" cy="343.44" r="2.0" fill="#0f3b1c"/>
<circle cx="414.32" cy="372.32" r="2.0" fill="#0f3b1c"/>
<circle cx="413.85" cy="357.39" r="2.0" fill="#0f3b1c"/>
<circle cx="411.68" cy="349.03" r="2.0" fill="#0f3b1c"/>
<circle cx="411.32" cy="336.20" r="2.0" fill="#0f3b1c"/>
<circle cx="413.41" cy="346.49" r="2.0" fill="#0f3b1c"/>
<circle cx="414.70" cy="335.12" r="2.0" fill="#0f3b1c"/>
<circle cx="415.24" cy="365.60" r="2.0" fill="#0f3b1c"/>
<circle cx="415.36" cy="375.14" r="2.0" fill="#0f3b1c"/>
<circle cx="415.22" cy="360.12" r="2.0" fill="#0f3b1c"/>
<circle cx="410.08" cy="368.03" r="2.0" fill="#0f3b1c"/>
<circle cx="411.00" cy="347.09" r="2.0" fill="#0f3b1c"/>
<circle cx="413.84" cy="357.67" r="2.0" fill="#0f3b1c"/>
<circle cx="412.40" cy="377.13" r="2.0" fill="#0f3b1c"/>
<circle cx="413.55" cy="349.04" r="2.0" fill="#0f3b1c"/>
<circle cx="411.46" cy="373.50" r="2.0" fill="#0f3b1c"/>
<circle cx="412.77" cy="369.77" r="2.0" fill="#0f3b1c"/>
<circle cx="412.04" cy="342.27" r="2.0" fill="#0f3b1c"/>
<circle cx="413.10" cy="371.39" r="2.0" fill="#0f3b1c"/>
<circle cx="410.99" cy="370.21" r="2.0" fill="#0f3b1c"/>
<circle cx="415.35" cy="370.88" r="2.0" fill="#0f3b1c"/>
<circle cx="414.78" cy="333.35" r="2.0" fill="#0f3b1c"/>
<circle cx="413.65" cy="373.54" r="2.0" fill="#0f3b1c"/>
<circle cx="410.29" cy="345.76" r="2.0" fill="#0f3b1c"/>
<circle cx="411.56" cy="357.78" r="2.0" fill="#0f3b1c"/>
<circle cx="412.45" cy="355.23" r="2.0" fill="#0f3b1c"/>
<circle cx="414.50" cy="333.09" r="2.0" fill="#0f3b1c"/>
<circle cx="410.32" cy="338.96" r="2.0" fill="#0f3b1c"/>
<circle cx="410.72" cy="336.22" r="2.0" fill="#0f3b1c"/>
<circle cx="415.65" cy="373.16" r="2.0" fill="#0f3b1c"/>
<circle cx="410.50" cy="356.60" r="2.0" fill="#0f3b1c"/>
<circle cx="411.83" cy="347.79" r="2.0" fill="#0f3b1c"/>
<circle cx="412.04" cy="363.40" r="2.0" fill="#0f3b1c"/>
<circle cx="413.40" cy="349.96" r="2.0" fill="#0f3b1c"/>
<circle cx="411.11" cy="348.45" r="2.0" fill="#0f3b1c"/>
<circle cx="410.72" cy="359.11" r="2.0" fill="#0f3b1c"/>
<circle cx="414.15" cy="350.87" r="2.0" fill="#0f3b1c"/>
<circle cx="410.46" cy="341.39" r="2.0" fill="#0f3b1c"/>
<circle cx="412.16" cy="361.41" r="2.0" fill="#0f3b1c"/>
<circle cx="414.54" cy="350.87" r="2.0" fill="#0f3b1c"/>
<circle cx="414.65" cy="362.28" r="2.0" fill="#0f3b1c"/>
<circle cx="412.50" cy="350.50" r="2.0" fill="#0f3b1c"/>
<circle cx="412.88" cy="366.04" r="2.0" fill="#0f3b1c"/>
<circle cx="412.44" cy="365.62" r="2.0" fill="#0f3b1c"/>
<circle cx="412.67" cy="344.52" r="2.0" fill="#0f3b1c"/>
<circle cx="413.11" cy="365.67" r="2.0" fill="#0f3b1c"/>
<circle cx="410.42" cy="352.97" r="2.0" fill="#0f3b1c"/>
<circle cx="412.47" cy="374.34" r="2.0" fill="#0f3b1c"/>
<circle cx="415.43" cy="350.59" r="2.0" fill="#0f3b1c"/>
<circle cx="415.21" cy="370.17" r="2.0" fill="#0f3b1c"/>
<circle cx="411.52" cy="354.81" r="2.0" fill="#0f3b1c"/>
<circle cx="410.71" cy="371.22" r="2.0" fill="#0f3b1c"/>
<circle cx="413.84" cy="374.71" r="2.0" fill="#0f3b1c"/>
<circle cx="414.60" cy="364.38" r="2.0" fill="#0f3b1c"/>
<circle cx="414.26" cy="359.50" r="2.0" fill="#0f3b1c"/>
<circle cx="411.00" cy="371.70" r="2.0" fill="#0f3b1c"/>
<circle cx="414.30" cy="374.20" r="2.0" fill="#0f3b1c"/>
<circle cx="410.10" cy="378.40" r="2.0" fill="#0f3b1c"/>
<circle cx="415.20" cy="379.20" r="2.0" fill="#0f3b1c"/>
<circle cx="414.30" cy="386.00" r="2.0" fill="#0f3b1c"/>
<circle cx="413.80" cy="386.80" r="2.0" fill="#0f3b1c"/>
<circle cx="422.70" cy="391.80" r="2.0" fill="#0f3b1c"/>
<circle cx="415.20" cy="394.40" r="2.0" fill="#0f3b1c"/>
<circle cx="414.30" cy="397.70" r="2.0" fill="#0f3b1c"/>
<circle cx="414.80" cy="401.10" r="2.0" fill="#0f3b1c"/>
<circle cx="411.00" cy="404.50" r="2.0" fill="#0f3b1c"/>
<circle cx="416.00" cy="405.30" r="2.0" fill="#0f3b1c"/>
<circle cx="423.90" cy="406.60" r="2.0" fill="#0f3b1c"/>
<circle cx="410.10" cy="407.80" r="2.0" fill="#0f3b1c"/>
<circle cx="415.20" cy="408.70" r="2.0" fill="#0f3b1c"/>
<circle cx="416.00" cy="412.90" r="2.0" fill="#0f3b1c"/>
<circle cx="416.00" cy="416.20" r="2.0" fill="#0f3b1c"/>
<circle cx="414.30" cy="423.80" r="2.0" fill="#0f3b1c"/>
<circle cx="416.00" cy="425.50" r="2.0" fill="#0f3b1c"/>
<circle cx="416.50" cy="428.80" r="2.0" fill="#0f3b1c"/>
<circle cx="420.20" cy="430.50" r="2.0" fill="#0f3b1c"/>
<circle cx="419.90" cy="435.50" r="2.0" fill="#0f3b1c"/>
<circle cx="418.50" cy="438.10" r="2.0" fill="#0f3b1c"/>
<circle cx="418.50" cy="440.60" r="2.0" fill="#0f3b1c"/>
<polyline points="501.20,148.00 501.20,144.80 642.40,144.80 642.40,148.00" fill="none" stroke="#2a2a2a" stroke-width="1.1" stroke-linejoin="round"/>
<line x1="571.90" y1="144.80" x2="571.90" y2="148.00" stroke="#2a2a2a" stroke-width="1.1"/>
<polyline points="649.00,23.30 645.30,23.30 645.30,145.20 649.00,145.20" fill="none" stroke="#2a2a2a" stroke-width="1.1" stroke-linejoin="round"/>
<line x1="645.30" y1="84.20" x2="649.00" y2="84.20" stroke="#2a2a2a" stroke-width="1.1"/>
<text x="501.20" y="162.20" font-size="11" text-anchor="middle" fill="#2b2b2b" font-weight="normal">-2.5</text>
<text x="571.90" y="162.20" font-size="11" text-anchor="middle" fill="#2b2b2b" font-weight="normal">-1.5</text>
<text x="640.50" y="162.20" font-size="11" text-anchor="middle" fill="#2b2b2b" font-weight="normal">-0.5</text>
<text x="572.60" y="175.00" font-size="11" text-anchor="middle" fill="#2b2b2b" font-weight="normal">NES</text>
<text x="652.40" y="27.40" font-size="11" text-anchor="start" fill="#2b2b2b" font-weight="normal">12</text>
<text x="652.40" y="88.40" font-size="11" text-anchor="start" fill="#2b2b2b" font-weight="normal">6</text>
<text x="652.40" y="149.00" font-size="11" text-anchor="start" fill="#2b2b2b" font-weight="normal">0</text>
<text transform="translate(671.4,87) rotate(-90)" font-size="11" text-anchor="middle" fill="#2b2b2b">-Log<tspan font-size="7" dy="2.5">10</tspan><tspan dy="-2.5">(p-value)</tspan></text>
<circle cx="564.50" cy="122.20" r="2.8" fill="#8d8d8d" fill-opacity="0.85"/>
<circle cx="575.60" cy="121.00" r="2.8" fill="#8d8d8d" fill-opacity="0.85"/>
<circle cx="579.40" cy="119.20" r="2.8" fill="#8d8d8d" fill-opacity="0.85"/>
<circle cx="585.60" cy="119.20" r="2.8" fill="#8d8d8d" fill-opacity="0.85"/>
<circle cx="583.80" cy="124.70" r="2.8" fill="#8d8d8d" fill-opacity="0.85"/>
<circle cx="578.10" cy="124.70" r="2.8" fill="#8d8d8d" fill-opacity="0.85"/>
<circle cx="588.00" cy="128.40" r="2.8" fill="#8d8d8d" fill-opacity="0.85"/>
<circle cx="591.30" cy="132.10" r="2.8" fill="#8d8d8d" fill-opacity="0.85"/>
<circle cx="595.50" cy="133.40" r="2.8" fill="#8d8d8d" fill-opacity="0.85"/>
<circle cx="600.40" cy="137.10" r="2.8" fill="#8d8d8d" fill-opacity="0.85"/>
<circle cx="604.20" cy="139.60" r="2.8" fill="#8d8d8d" fill-opacity="0.85"/>
<circle cx="608.60" cy="140.80" r="2.8" fill="#8d8d8d" fill-opacity="0.85"/>
<circle cx="612.90" cy="142.00" r="2.8" fill="#8d8d8d" fill-opacity="0.85"/>
<circle cx="616.60" cy="144.00" r="2.8" fill="#8d8d8d" fill-opacity="0.85"/>
<circle cx="624.00" cy="144.00" r="2.8" fill="#8d8d8d" fill-opacity="0.85"/>
<circle cx="630.20" cy="144.00" r="2.8" fill="#8d8d8d" fill-opacity="0.85"/>
<circle cx="584.70" cy="122.60" r="2.8" fill="#8d8d8d" fill-opacity="0.85"/>
<circle cx="589.00" cy="126.80" r="2.8" fill="#8d8d8d" fill-opacity="0.85"/>
<circle cx="597.00" cy="135.00" r="2.8" fill="#8d8d8d" fill-opacity="0.85"/>
<circle cx="602.00" cy="138.50" r="2.8" fill="#8d8d8d" fill-opacity="0.85"/>
<circle cx="606.00" cy="140.00" r="2.8" fill="#8d8d8d" fill-opacity="0.85"/>
<circle cx="610.50" cy="141.50" r="2.8" fill="#8d8d8d" fill-opacity="0.85"/>
<circle cx="614.50" cy="143.00" r="2.8" fill="#8d8d8d" fill-opacity="0.85"/>
<circle cx="619.50" cy="144.00" r="2.8" fill="#8d8d8d" fill-opacity="0.85"/>
<circle cx="576.00" cy="117.50" r="2.8" fill="#8d8d8d" fill-opacity="0.85"/>
<circle cx="581.00" cy="121.50" r="2.8" fill="#8d8d8d" fill-opacity="0.85"/>
<circle cx="587.00" cy="117.00" r="2.8" fill="#8d8d8d" fill-opacity="0.85"/>
<circle cx="535.80" cy="33.80" r="2.8" fill="#116a3a"/>
<circle cx="543.80" cy="60.50" r="2.8" fill="#116a3a"/>
<circle cx="552.60" cy="58.00" r="2.8" fill="#116a3a"/>
<circle cx="548.00" cy="67.30" r="2.8" fill="#116a3a"/>
<circle cx="556.80" cy="66.40" r="2.8" fill="#116a3a"/>
<circle cx="557.50" cy="69.00" r="2.8" fill="#116a3a"/>
<circle cx="532.20" cy="86.20" r="2.8" fill="#116a3a"/>
<circle cx="563.80" cy="81.60" r="2.8" fill="#116a3a"/>
<circle cx="565.80" cy="89.00" r="2.8" fill="#116a3a"/>
<circle cx="567.90" cy="91.00" r="2.8" fill="#116a3a"/>
<circle cx="550.80" cy="99.90" r="2.8" fill="#116a3a"/>
<circle cx="554.00" cy="97.90" r="2.8" fill="#116a3a"/>
<circle cx="560.00" cy="97.40" r="2.8" fill="#116a3a"/>
<circle cx="564.50" cy="101.10" r="2.8" fill="#116a3a"/>
<circle cx="568.90" cy="97.40" r="2.8" fill="#116a3a"/>
<circle cx="570.70" cy="99.90" r="2.8" fill="#116a3a"/>
<circle cx="571.40" cy="96.10" r="2.8" fill="#116a3a"/>
<circle cx="569.90" cy="104.80" r="2.8" fill="#116a3a"/>
<circle cx="573.90" cy="106.80" r="2.8" fill="#116a3a"/>
<circle cx="575.60" cy="104.80" r="2.8" fill="#116a3a"/>
<circle cx="562.00" cy="113.00" r="2.8" fill="#116a3a"/>
<circle cx="568.90" cy="112.30" r="2.8" fill="#116a3a"/>
<circle cx="574.40" cy="112.30" r="2.8" fill="#116a3a"/>
<circle cx="579.80" cy="112.30" r="2.8" fill="#116a3a"/>
<circle cx="553.20" cy="98.40" r="2.8" fill="#116a3a"/>
<circle cx="559.50" cy="97.40" r="2.8" fill="#116a3a"/>
<circle cx="565.80" cy="100.50" r="2.8" fill="#116a3a"/>
<circle cx="570.00" cy="97.00" r="2.8" fill="#116a3a"/>
<circle cx="571.00" cy="102.60" r="2.8" fill="#116a3a"/>
<circle cx="573.20" cy="105.80" r="2.8" fill="#116a3a"/>
<circle cx="575.30" cy="109.00" r="2.8" fill="#116a3a"/>
<circle cx="562.60" cy="113.20" r="2.8" fill="#116a3a"/>
<circle cx="569.00" cy="112.10" r="2.8" fill="#116a3a"/>
<circle cx="579.50" cy="112.70" r="2.8" fill="#116a3a"/>
<circle cx="574.20" cy="113.20" r="2.8" fill="#116a3a"/>
<circle cx="567.00" cy="94.00" r="2.8" fill="#116a3a"/>
<circle cx="572.00" cy="108.00" r="2.8" fill="#116a3a"/>
<text x="526.00" y="30.00" font-size="11" text-anchor="start" fill="#2b2b2b" font-weight="normal" textLength="29.70" lengthAdjust="spacingAndGlyphs">REST</text>
<text x="502.40" y="51.70" font-size="11" text-anchor="start" fill="#2b2b2b" font-weight="normal" textLength="29.50" lengthAdjust="spacingAndGlyphs">RELA</text>
<text x="560.20" y="46.80" font-size="11" text-anchor="start" fill="#2b2b2b" font-weight="normal" textLength="26.90" lengthAdjust="spacingAndGlyphs">E2F4</text>
<text x="486.00" y="68.50" font-size="11" text-anchor="start" fill="#2b2b2b" font-weight="normal" textLength="39.60" lengthAdjust="spacingAndGlyphs">ZNF274</text>
<text x="568.70" y="59.50" font-size="11" text-anchor="start" fill="#2b2b2b" font-weight="normal" textLength="29.00" lengthAdjust="spacingAndGlyphs">ELF1</text>
<text x="570.70" y="71.70" font-size="11" text-anchor="start" fill="#2b2b2b" font-weight="normal" textLength="22.80" lengthAdjust="spacingAndGlyphs">FOS</text>
<text x="498.70" y="84.70" font-size="11" text-anchor="start" fill="#2b2b2b" font-weight="normal" textLength="26.90" lengthAdjust="spacingAndGlyphs">ETS1</text>
<text x="578.10" y="81.60" font-size="11" text-anchor="start" fill="#2b2b2b" font-weight="normal" textLength="21.00" lengthAdjust="spacingAndGlyphs">YY1</text>
<text x="583.00" y="92.70" font-size="11" text-anchor="start" fill="#2b2b2b" font-weight="normal" textLength="33.60" lengthAdjust="spacingAndGlyphs">TCF12</text>
<text x="506.00" y="99.50" font-size="11" text-anchor="start" fill="#2b2b2b" font-weight="normal" textLength="30.10" lengthAdjust="spacingAndGlyphs">JUND</text>
<line x1="535.80" y1="53.20" x2="541.00" y2="58.00" stroke="#333" stroke-width="0.8"/>
<line x1="556.20" y1="55.30" x2="562.10" y2="49.00" stroke="#333" stroke-width="0.8"/>
<line x1="534.30" y1="65.20" x2="543.20" y2="66.80" stroke="#333" stroke-width="0.8"/>
<line x1="561.00" y1="64.30" x2="566.30" y2="60.50" stroke="#333" stroke-width="0.8"/>
<line x1="561.00" y1="69.60" x2="567.40" y2="69.40" stroke="#333" stroke-width="0.8"/>
<line x1="568.40" y1="82.20" x2="577.90" y2="80.50" stroke="#333" stroke-width="0.8"/>
<line x1="571.00" y1="88.50" x2="579.50" y2="88.50" stroke="#333" stroke-width="0.8"/>
<line x1="543.20" y1="95.30" x2="550.50" y2="96.70" stroke="#333" stroke-width="0.8"/>
<line x1="521.00" y1="211.50" x2="521.00" y2="280.45" stroke="#2a2a2a" stroke-width="1.1"/>
<line x1="517.30" y1="211.50" x2="521.00" y2="211.50" stroke="#2a2a2a" stroke-width="1.1"/>
<text x="515.30" y="215.80" font-size="11" text-anchor="end" fill="#2b2b2b" font-weight="normal">0</text>
<line x1="517.30" y1="234.15" x2="521.00" y2="234.15" stroke="#2a2a2a" stroke-width="1.1"/>
<text x="515.30" y="238.45" font-size="11" text-anchor="end" fill="#2b2b2b" font-weight="normal">-0.1</text>
<line x1="517.30" y1="256.80" x2="521.00" y2="256.80" stroke="#2a2a2a" stroke-width="1.1"/>
<text x="515.30" y="261.10" font-size="11" text-anchor="end" fill="#2b2b2b" font-weight="normal">-0.2</text>
<line x1="517.30" y1="279.45" x2="521.00" y2="279.45" stroke="#2a2a2a" stroke-width="1.1"/>
<text x="515.30" y="283.75" font-size="11" text-anchor="end" fill="#2b2b2b" font-weight="normal">-0.3</text>
<line x1="521.00" y1="211.50" x2="685.00" y2="211.50" stroke="#666" stroke-width="0.8"/>
<rect x="530" y="207" width="1" height="9.00" fill="rgb(0,0,0)" shape-rendering="crispEdges"/><rect x="531" y="207" width="1" height="9.00" fill="rgb(0,0,0)" shape-rendering="crispEdges"/><rect x="532" y="207" width="1" height="9.00" fill="rgb(0,0,0)" shape-rendering="crispEdges"/><rect x="533" y="207" width="1" height="9.00" fill="rgb(216,216,216)" shape-rendering="crispEdges"/><rect x="534" y="207" width="1" height="9.00" fill="rgb(25,25,25)" shape-rendering="crispEdges"/><rect x="535" y="207" width="1" height="9.00" fill="rgb(0,0,0)" shape-rendering="crispEdges"/><rect x="536" y="207" width="1" height="9.00" fill="rgb(25,25,25)" shape-rendering="crispEdges"/><rect x="537" y="207" width="1" height="9.00" fill="rgb(0,0,0)" shape-rendering="crispEdges"/><rect x="538" y="207" width="1" height="9.00" fill="rgb(0,0,0)" shape-rendering="crispEdges"/><rect x="539" y="207" width="1" height="9.00" fill="rgb(0,0,0)" shape-rendering="crispEdges"/><rect x="540" y="207" width="1" height="9.00" fill="rgb(25,25,25)" shape-rendering="crispEdges"/><rect x="541" y="207" width="1" height="9.00" fill="rgb(0,0,0)" shape-rendering="crispEdges"/><rect x="542" y="207" width="1" height="9.00" fill="rgb(255,255,255)" shape-rendering="crispEdges"/><rect x="543" y="207" width="1" height="9.00" fill="rgb(102,102,102)" shape-rendering="crispEdges"/><rect x="544" y="207" width="1" height="9.00" fill="rgb(0,0,0)" shape-rendering="crispEdges"/><rect x="545" y="207" width="1" height="9.00" fill="rgb(25,25,25)" shape-rendering="crispEdges"/><rect x="546" y="207" width="1" height="9.00" fill="rgb(255,255,255)" shape-rendering="crispEdges"/><rect x="547" y="207" width="1" height="9.00" fill="rgb(38,38,38)" shape-rendering="crispEdges"/><rect x="548" y="207" width="1" height="9.00" fill="rgb(12,12,12)" shape-rendering="crispEdges"/><rect x="549" y="207" width="1" height="9.00" fill="rgb(12,12,12)" shape-rendering="crispEdges"/><rect x="550" y="207" width="1" height="9.00" fill="rgb(12,12,12)" shape-rendering="crispEdges"/><rect x="551" y="207" width="1" height="9.00" fill="rgb(0,0,0)" shape-rendering="crispEdges"/><rect x="552" y="207" width="1" height="9.00" fill="rgb(0,0,0)" shape-rendering="crispEdges"/><rect x="553" y="207" width="1" height="9.00" fill="rgb(38,38,38)" shape-rendering="crispEdges"/><rect x="554" y="207" width="1" height="9.00" fill="rgb(12,12,12)" shape-rendering="crispEdges"/><rect x="555" y="207" width="1" height="9.00" fill="rgb(25,25,25)" shape-rendering="crispEdges"/><rect x="556" y="207" width="1" height="9.00" fill="rgb(0,0,0)" shape-rendering="crispEdges"/><rect x="557" y="207" width="1" height="9.00" fill="rgb(25,25,25)" shape-rendering="crispEdges"/><rect x="558" y="207" width="1" height="9.00" fill="rgb(216,216,216)" shape-rendering="crispEdges"/><rect x="559" y="207" width="1" height="9.00" fill="rgb(38,38,38)" shape-rendering="crispEdges"/><rect x="560" y="207" width="1" height="9.00" fill="rgb(0,0,0)" shape-rendering="crispEdges"/><rect x="561" y="207" width="1" height="9.00" fill="rgb(38,38,38)" shape-rendering="crispEdges"/><rect x="562" y="207" width="1" height="9.00" fill="rgb(0,0,0)" shape-rendering="crispEdges"/><rect x="563" y="207" width="1" height="9.00" fill="rgb(0,0,0)" shape-rendering="crispEdges"/><rect x="564" y="207" width="1" height="9.00" fill="rgb(25,25,25)" shape-rendering="crispEdges"/><rect x="565" y="207" width="1" height="9.00" fill="rgb(12,12,12)" shape-rendering="crispEdges"/><rect x="566" y="207" width="1" height="9.00" fill="rgb(12,12,12)" shape-rendering="crispEdges"/><rect x="567" y="207" width="1" height="9.00" fill="rgb(25,25,25)" shape-rendering="crispEdges"/><rect x="568" y="207" width="1" height="9.00" fill="rgb(0,0,0)" shape-rendering="crispEdges"/><rect x="569" y="207" width="1" height="9.00" fill="rgb(25,25,25)" shape-rendering="crispEdges"/><rect x="570" y="207" width="1" height="9.00" fill="rgb(38,38,38)" shape-rendering="crispEdges"/><rect x="571" y="207" width="1" height="9.00" fill="rgb(12,12,12)" shape-rendering="crispEdges"/><rect x="572" y="207" width="1" height="9.00" fill="rgb(0,0,0)" shape-rendering="crispEdges"/><rect x="573" y="207" width="1" height="9.00" fill="rgb(0,0,0)" shape-rendering="crispEdges"/><rect x="574" y="207" width="1" height="9.00" fill="rgb(0,0,0)" shape-rendering="crispEdges"/><rect x="575" y="207" width="1" height="9.00" fill="rgb(38,38,38)" shape-rendering="crispEdges"/><rect x="576" y="207" width="1" height="9.00" fill="rgb(140,140,140)" shape-rendering="crispEdges"/><rect x="577" y="207" width="1" height="9.00" fill="rgb(0,0,0)" shape-rendering="crispEdges"/><rect x="578" y="207" width="1" height="9.00" fill="rgb(12,12,12)" shape-rendering="crispEdges"/><rect x="579" y="207" width="1" height="9.00" fill="rgb(12,12,12)" shape-rendering="crispEdges"/><rect x="580" y="207" width="1" height="9.00" fill="rgb(38,38,38)" shape-rendering="crispEdges"/><rect x="581" y="207" width="1" height="9.00" fill="rgb(12,12,12)" shape-rendering="crispEdges"/><rect x="582" y="207" width="1" height="9.00" fill="rgb(25,25,25)" shape-rendering="crispEdges"/><rect x="583" y="207" width="1" height="9.00" fill="rgb(12,12,12)" shape-rendering="crispEdges"/><rect x="584" y="207" width="1" height="9.00" fill="rgb(0,0,0)" shape-rendering="crispEdges"/><rect x="585" y="207" width="1" height="9.00" fill="rgb(25,25,25)" shape-rendering="crispEdges"/><rect x="586" y="207" width="1" height="9.00" fill="rgb(12,12,12)" shape-rendering="crispEdges"/><rect x="587" y="207" width="1" height="9.00" fill="rgb(12,12,12)" shape-rendering="crispEdges"/><rect x="588" y="207" width="1" height="9.00" fill="rgb(12,12,12)" shape-rendering="crispEdges"/><rect x="589" y="207" width="1" height="9.00" fill="rgb(229,229,229)" shape-rendering="crispEdges"/><rect x="590" y="207" width="1" height="9.00" fill="rgb(0,0,0)" shape-rendering="crispEdges"/><rect x="591" y="207" width="1" height="9.00" fill="rgb(0,0,0)" shape-rendering="crispEdges"/><rect x="592" y="207" width="1" height="9.00" fill="rgb(127,127,127)" shape-rendering="crispEdges"/><rect x="593" y="207" width="1" height="9.00" fill="rgb(12,12,12)" shape-rendering="crispEdges"/><rect x="594" y="207" width="1" height="9.00" fill="rgb(25,25,25)" shape-rendering="crispEdges"/><rect x="595" y="207" width="1" height="9.00" fill="rgb(25,25,25)" shape-rendering="crispEdges"/><rect x="596" y="207" width="1" height="9.00" fill="rgb(25,25,25)" shape-rendering="crispEdges"/><rect x="597" y="207" width="1" height="9.00" fill="rgb(25,25,25)" shape-rendering="crispEdges"/><rect x="598" y="207" width="1" height="9.00" fill="rgb(12,12,12)" shape-rendering="crispEdges"/><rect x="599" y="207" width="1" height="9.00" fill="rgb(38,38,38)" shape-rendering="crispEdges"/><rect x="600" y="207" width="1" height="9.00" fill="rgb(0,0,0)" shape-rendering="crispEdges"/><rect x="601" y="207" width="1" height="9.00" fill="rgb(0,0,0)" shape-rendering="crispEdges"/><rect x="602" y="207" width="1" height="9.00" fill="rgb(0,0,0)" shape-rendering="crispEdges"/><rect x="603" y="207" width="1" height="9.00" fill="rgb(12,12,12)" shape-rendering="crispEdges"/><rect x="604" y="207" width="1" height="9.00" fill="rgb(0,0,0)" shape-rendering="crispEdges"/><rect x="605" y="207" width="1" height="9.00" fill="rgb(0,0,0)" shape-rendering="crispEdges"/><rect x="606" y="207" width="1" height="9.00" fill="rgb(12,12,12)" shape-rendering="crispEdges"/><rect x="607" y="207" width="1" height="9.00" fill="rgb(25,25,25)" shape-rendering="crispEdges"/><rect x="608" y="207" width="1" height="9.00" fill="rgb(12,12,12)" shape-rendering="crispEdges"/><rect x="609" y="207" width="1" height="9.00" fill="rgb(0,0,0)" shape-rendering="crispEdges"/><rect x="610" y="207" width="1" height="9.00" fill="rgb(0,0,0)" shape-rendering="crispEdges"/><rect x="611" y="207" width="1" height="9.00" fill="rgb(12,12,12)" shape-rendering="crispEdges"/><rect x="612" y="207" width="1" height="9.00" fill="rgb(12,12,12)" shape-rendering="crispEdges"/><rect x="613" y="207" width="1" height="9.00" fill="rgb(229,229,229)" shape-rendering="crispEdges"/><rect x="614" y="207" width="1" height="9.00" fill="rgb(12,12,12)" shape-rendering="crispEdges"/><rect x="615" y="207" width="1" height="9.00" fill="rgb(25,25,25)" shape-rendering="crispEdges"/><rect x="616" y="207" width="1" height="9.00" fill="rgb(25,25,25)" shape-rendering="crispEdges"/><rect x="617" y="207" width="1" height="9.00" fill="rgb(0,0,0)" shape-rendering="crispEdges"/><rect x="618" y="207" width="1" height="9.00" fill="rgb(38,38,38)" shape-rendering="crispEdges"/><rect x="619" y="207" width="1" height="9.00" fill="rgb(0,0,0)" shape-rendering="crispEdges"/><rect x="620" y="207" width="1" height="9.00" fill="rgb(25,25,25)" shape-rendering="crispEdges"/><rect x="621" y="207" width="1" height="9.00" fill="rgb(38,38,38)" shape-rendering="crispEdges"/><rect x="622" y="207" width="1" height="9.00" fill="rgb(0,0,0)" shape-rendering="crispEdges"/><rect x="623" y="207" width="1" height="9.00" fill="rgb(0,0,0)" shape-rendering="crispEdges"/><rect x="624" y="207" width="1" height="9.00" fill="rgb(25,25,25)" shape-rendering="crispEdges"/><rect x="625" y="207" width="1" height="9.00" fill="rgb(216,216,216)" shape-rendering="crispEdges"/><rect x="626" y="207" width="1" height="9.00" fill="rgb(25,25,25)" shape-rendering="crispEdges"/><rect x="627" y="207" width="1" height="9.00" fill="rgb(12,12,12)" shape-rendering="crispEdges"/><rect x="628" y="207" width="1" height="9.00" fill="rgb(25,25,25)" shape-rendering="crispEdges"/><rect x="629" y="207" width="1" height="9.00" fill="rgb(25,25,25)" shape-rendering="crispEdges"/><rect x="630" y="207" width="1" height="9.00" fill="rgb(0,0,0)" shape-rendering="crispEdges"/><rect x="631" y="207" width="1" height="9.00" fill="rgb(12,12,12)" shape-rendering="crispEdges"/><rect x="632" y="207" width="1" height="9.00" fill="rgb(0,0,0)" shape-rendering="crispEdges"/><rect x="633" y="207" width="1" height="9.00" fill="rgb(38,38,38)" shape-rendering="crispEdges"/><rect x="634" y="207" width="1" height="9.00" fill="rgb(0,0,0)" shape-rendering="crispEdges"/><rect x="635" y="207" width="1" height="9.00" fill="rgb(204,204,204)" shape-rendering="crispEdges"/><rect x="636" y="207" width="1" height="9.00" fill="rgb(12,12,12)" shape-rendering="crispEdges"/><rect x="637" y="207" width="1" height="9.00" fill="rgb(0,0,0)" shape-rendering="crispEdges"/><rect x="638" y="207" width="1" height="9.00" fill="rgb(114,114,114)" shape-rendering="crispEdges"/><rect x="639" y="207" width="1" height="9.00" fill="rgb(114,114,114)" shape-rendering="crispEdges"/><rect x="640" y="207" width="1" height="9.00" fill="rgb(0,0,0)" shape-rendering="crispEdges"/><rect x="641" y="207" width="1" height="9.00" fill="rgb(25,25,25)" shape-rendering="crispEdges"/><rect x="642" y="207" width="1" height="9.00" fill="rgb(38,38,38)" shape-rendering="crispEdges"/><rect x="643" y="207" width="1" height="9.00" fill="rgb(38,38,38)" shape-rendering="crispEdges"/><rect x="644" y="207" width="1" height="9.00" fill="rgb(12,12,12)" shape-rendering="crispEdges"/><rect x="645" y="207" width="1" height="9.00" fill="rgb(114,114,114)" shape-rendering="crispEdges"/><rect x="646" y="207" width="1" height="9.00" fill="rgb(12,12,12)" shape-rendering="crispEdges"/><rect x="647" y="207" width="1" height="9.00" fill="rgb(0,0,0)" shape-rendering="crispEdges"/><rect x="648" y="207" width="1" height="9.00" fill="rgb(0,0,0)" shape-rendering="crispEdges"/><rect x="649" y="207" width="1" height="9.00" fill="rgb(25,25,25)" shape-rendering="crispEdges"/><rect x="650" y="207" width="1" height="9.00" fill="rgb(0,0,0)" shape-rendering="crispEdges"/><rect x="651" y="207" width="1" height="9.00" fill="rgb(12,12,12)" shape-rendering="crispEdges"/><rect x="652" y="207" width="1" height="9.00" fill="rgb(38,38,38)" shape-rendering="crispEdges"/><rect x="653" y="207" width="1" height="9.00" fill="rgb(0,0,0)" shape-rendering="crispEdges"/><rect x="654" y="207" width="1" height="9.00" fill="rgb(0,0,0)" shape-rendering="crispEdges"/><rect x="655" y="207" width="1" height="9.00" fill="rgb(25,25,25)" shape-rendering="crispEdges"/><rect x="656" y="207" width="1" height="9.00" fill="rgb(12,12,12)" shape-rendering="crispEdges"/><rect x="657" y="207" width="1" height="9.00" fill="rgb(12,12,12)" shape-rendering="crispEdges"/><rect x="658" y="207" width="1" height="9.00" fill="rgb(12,12,12)" shape-rendering="crispEdges"/><rect x="659" y="207" width="1" height="9.00" fill="rgb(0,0,0)" shape-rendering="crispEdges"/><rect x="660" y="207" width="1" height="9.00" fill="rgb(38,38,38)" shape-rendering="crispEdges"/><rect x="661" y="207" width="1" height="9.00" fill="rgb(0,0,0)" shape-rendering="crispEdges"/><rect x="662" y="207" width="1" height="9.00" fill="rgb(12,12,12)" shape-rendering="crispEdges"/><rect x="663" y="207" width="1" height="9.00" fill="rgb(38,38,38)" shape-rendering="crispEdges"/><rect x="664" y="207" width="1" height="9.00" fill="rgb(0,0,0)" shape-rendering="crispEdges"/><rect x="665" y="207" width="1" height="9.00" fill="rgb(0,0,0)" shape-rendering="crispEdges"/><rect x="666" y="207" width="1" height="9.00" fill="rgb(38,38,38)" shape-rendering="crispEdges"/><rect x="667" y="207" width="1" height="9.00" fill="rgb(25,25,25)" shape-rendering="crispEdges"/><rect x="668" y="207" width="1" height="9.00" fill="rgb(0,0,0)" shape-rendering="crispEdges"/><rect x="669" y="207" width="1" height="9.00" fill="rgb(38,38,38)" shape-rendering="crispEdges"/><rect x="670" y="207" width="1" height="9.00" fill="rgb(25,25,25)" shape-rendering="crispEdges"/><rect x="671" y="207" width="1" height="9.00" fill="rgb(38,38,38)" shape-rendering="crispEdges"/><rect x="672" y="207" width="1" height="9.00" fill="rgb(0,0,0)" shape-rendering="crispEdges"/><rect x="673" y="207" width="1" height="9.00" fill="rgb(25,25,25)" shape-rendering="crispEdges"/><rect x="674" y="207" width="1" height="9.00" fill="rgb(0,0,0)" shape-rendering="crispEdges"/><rect x="675" y="207" width="1" height="9.00" fill="rgb(0,0,0)" shape-rendering="crispEdges"/><rect x="676" y="207" width="1" height="9.00" fill="rgb(0,0,0)" shape-rendering="crispEdges"/>
<polyline points="527.00,211.50 528.43,212.81 529.87,214.47 531.30,216.00 532.63,215.22 533.97,214.59 535.30,214.00 536.65,214.62 538.00,215.50 539.50,216.92 541.00,217.90 542.75,216.26 544.50,215.30 546.00,215.72 547.50,215.08 549.00,216.00 550.70,216.27 552.40,217.10 553.70,217.72 555.00,218.30 556.30,219.99 557.60,220.50 558.92,220.07 560.24,220.58 561.56,220.66 562.88,219.51 564.20,219.70 565.53,219.92 566.87,219.46 568.20,218.70 569.50,219.83 570.80,219.84 572.10,221.34 573.40,222.48 574.70,223.20 576.03,224.06 577.35,225.11 578.67,226.38 580.00,227.46 581.33,229.35 582.65,229.89 583.97,231.14 585.30,232.40 586.61,234.08 587.92,235.98 589.24,236.54 590.55,237.66 591.86,240.44 593.17,241.72 594.49,243.13 595.80,244.20 597.20,246.33 598.60,248.03 600.00,250.50 601.38,251.92 602.75,254.03 604.12,256.15 605.50,258.10 606.86,259.29 608.21,261.98 609.57,263.82 610.93,264.62 612.29,267.58 613.64,268.89 615.00,270.70 616.46,271.91 617.92,271.91 619.38,272.97 620.84,273.12 622.30,273.80 623.88,275.28 625.45,276.45 627.02,277.11 628.60,279.10 630.00,278.78 631.40,279.09 632.80,279.52 634.20,279.65 635.60,280.07 637.00,280.20 638.33,280.81 639.65,280.84 640.98,281.11 642.30,281.77 643.62,282.77 644.95,282.92 646.27,283.13 647.60,283.30 649.17,283.22 650.75,281.87 652.33,281.17 653.90,281.20 656.00,271.70 657.40,266.93 658.80,262.77 660.20,259.10 661.78,255.26 663.35,252.98 664.92,250.24 666.50,246.50 668.05,239.66 669.60,233.90 671.00,230.29 672.40,226.78 673.80,222.30 676.00,211.80" fill="none" stroke="#0f6637" stroke-width="2.2" stroke-linejoin="round"/>
<polyline points="527.30,291.40 527.30,287.80 663.50,287.80 663.50,291.40" fill="none" stroke="#2a2a2a" stroke-width="1.1" stroke-linejoin="round"/>
<line x1="572.80" y1="287.80" x2="572.80" y2="291.40" stroke="#2a2a2a" stroke-width="1.1"/>
<line x1="618.00" y1="287.80" x2="618.00" y2="291.40" stroke="#2a2a2a" stroke-width="1.1"/>
<text x="525.50" y="301.40" font-size="11" text-anchor="middle" fill="#2b2b2b" font-weight="normal">0</text>
<text x="572.50" y="301.40" font-size="11" text-anchor="middle" fill="#2b2b2b" font-weight="normal">200</text>
<text x="618.00" y="301.40" font-size="11" text-anchor="middle" fill="#2b2b2b" font-weight="normal">400</text>
<text x="663.80" y="301.40" font-size="11" text-anchor="middle" fill="#2b2b2b" font-weight="normal">600</text>
<text x="600.20" y="310.90" font-size="11" text-anchor="middle" fill="#2b2b2b" font-weight="normal">protein rank</text>
<text x="530.00" y="202.40" font-size="11" text-anchor="start" fill="#2b2b2b" font-weight="normal" textLength="88.30" lengthAdjust="spacingAndGlyphs">FOS target genes</text>
<text x="524.3" y="282.4" font-size="11" fill="#2b2b2b">q=8.64e<tspan font-size="7" dy="-4">-7</tspan></text>
<text transform="translate(492.8,246.275) rotate(-90)" font-size="11" text-anchor="middle" fill="#2b2b2b">enrichment</text>
<line x1="521.20" y1="338.20" x2="521.20" y2="405.65" stroke="#2a2a2a" stroke-width="1.1"/>
<line x1="517.50" y1="338.20" x2="521.20" y2="338.20" stroke="#2a2a2a" stroke-width="1.1"/>
<text x="514.80" y="342.10" font-size="11" text-anchor="end" fill="#2b2b2b" font-weight="normal">0</text>
<line x1="517.50" y1="360.35" x2="521.20" y2="360.35" stroke="#2a2a2a" stroke-width="1.1"/>
<text x="514.80" y="364.25" font-size="11" text-anchor="end" fill="#2b2b2b" font-weight="normal">-0.1</text>
<line x1="517.50" y1="382.50" x2="521.20" y2="382.50" stroke="#2a2a2a" stroke-width="1.1"/>
<text x="514.80" y="386.40" font-size="11" text-anchor="end" fill="#2b2b2b" font-weight="normal">-0.2</text>
<line x1="517.50" y1="404.65" x2="521.20" y2="404.65" stroke="#2a2a2a" stroke-width="1.1"/>
<text x="514.80" y="408.55" font-size="11" text-anchor="end" fill="#2b2b2b" font-weight="normal">-0.3</text>
<line x1="521.20" y1="338.20" x2="685.00" y2="338.20" stroke="#666" stroke-width="0.8"/>
<rect x="529" y="333" width="1" height="9.00" fill="rgb(76,76,76)" shape-rendering="crispEdges"/><rect x="530" y="333" width="1" height="9.00" fill="rgb(255,255,255)" shape-rendering="crispEdges"/><rect x="531" y="333" width="1" height="9.00" fill="rgb(255,255,255)" shape-rendering="crispEdges"/><rect x="532" y="333" width="1" height="9.00" fill="rgb(255,255,255)" shape-rendering="crispEdges"/><rect x="533" y="333" width="1" height="9.00" fill="rgb(50,50,50)" shape-rendering="crispEdges"/><rect x="534" y="333" width="1" height="9.00" fill="rgb(255,255,255)" shape-rendering="crispEdges"/><rect x="535" y="333" width="1" height="9.00" fill="rgb(50,50,50)" shape-rendering="crispEdges"/><rect x="536" y="333" width="1" height="9.00" fill="rgb(255,255,255)" shape-rendering="crispEdges"/><rect x="537" y="333" width="1" height="9.00" fill="rgb(38,38,38)" shape-rendering="crispEdges"/><rect x="538" y="333" width="1" height="9.00" fill="rgb(127,127,127)" shape-rendering="crispEdges"/><rect x="539" y="333" width="1" height="9.00" fill="rgb(165,165,165)" shape-rendering="crispEdges"/><rect x="540" y="333" width="1" height="9.00" fill="rgb(12,12,12)" shape-rendering="crispEdges"/><rect x="541" y="333" width="1" height="9.00" fill="rgb(0,0,0)" shape-rendering="crispEdges"/><rect x="542" y="333" width="1" height="9.00" fill="rgb(165,165,165)" shape-rendering="crispEdges"/><rect x="543" y="333" width="1" height="9.00" fill="rgb(204,204,204)" shape-rendering="crispEdges"/><rect x="544" y="333" width="1" height="9.00" fill="rgb(204,204,204)" shape-rendering="crispEdges"/><rect x="545" y="333" width="1" height="9.00" fill="rgb(102,102,102)" shape-rendering="crispEdges"/><rect x="546" y="333" width="1" height="9.00" fill="rgb(50,50,50)" shape-rendering="crispEdges"/><rect x="547" y="333" width="1" height="9.00" fill="rgb(25,25,25)" shape-rendering="crispEdges"/><rect x="548" y="333" width="1" height="9.00" fill="rgb(127,127,127)" shape-rendering="crispEdges"/><rect x="549" y="333" width="1" height="9.00" fill="rgb(165,165,165)" shape-rendering="crispEdges"/><rect x="550" y="333" width="1" height="9.00" fill="rgb(0,0,0)" shape-rendering="crispEdges"/><rect x="551" y="333" width="1" height="9.00" fill="rgb(0,0,0)" shape-rendering="crispEdges"/><rect x="552" y="333" width="1" height="9.00" fill="rgb(127,127,127)" shape-rendering="crispEdges"/><rect x="553" y="333" width="1" height="9.00" fill="rgb(0,0,0)" shape-rendering="crispEdges"/><rect x="554" y="333" width="1" height="9.00" fill="rgb(0,0,0)" shape-rendering="crispEdges"/><rect x="555" y="333" width="1" height="9.00" fill="rgb(12,12,12)" shape-rendering="crispEdges"/><rect x="556" y="333" width="1" height="9.00" fill="rgb(12,12,12)" shape-rendering="crispEdges"/><rect x="557" y="333" width="1" height="9.00" fill="rgb(0,0,0)" shape-rendering="crispEdges"/><rect x="558" y="333" width="1" height="9.00" fill="rgb(204,204,204)" shape-rendering="crispEdges"/><rect x="559" y="333" width="1" height="9.00" fill="rgb(0,0,0)" shape-rendering="crispEdges"/><rect x="560" y="333" width="1" height="9.00" fill="rgb(102,102,102)" shape-rendering="crispEdges"/><rect x="561" y="333" width="1" height="9.00" fill="rgb(204,204,204)" shape-rendering="crispEdges"/><rect x="562" y="333" width="1" height="9.00" fill="rgb(50,50,50)" shape-rendering="crispEdges"/><rect x="563" y="333" width="1" height="9.00" fill="rgb(0,0,0)" shape-rendering="crispEdges"/><rect x="564" y="333" width="1" height="9.00" fill="rgb(127,127,127)" shape-rendering="crispEdges"/><rect x="565" y="333" width="1" height="9.00" fill="rgb(0,0,0)" shape-rendering="crispEdges"/><rect x="566" y="333" width="1" height="9.00" fill="rgb(50,50,50)" shape-rendering="crispEdges"/><rect x="567" y="333" width="1" height="9.00" fill="rgb(25,25,25)" shape-rendering="crispEdges"/><rect x="568" y="333" width="1" height="9.00" fill="rgb(127,127,127)" shape-rendering="crispEdges"/><rect x="569" y="333" width="1" height="9.00" fill="rgb(50,50,50)" shape-rendering="crispEdges"/><rect x="570" y="333" width="1" height="9.00" fill="rgb(50,50,50)" shape-rendering="crispEdges"/><rect x="571" y="333" width="1" height="9.00" fill="rgb(165,165,165)" shape-rendering="crispEdges"/><rect x="572" y="333" width="1" height="9.00" fill="rgb(50,50,50)" shape-rendering="crispEdges"/><rect x="573" y="333" width="1" height="9.00" fill="rgb(12,12,12)" shape-rendering="crispEdges"/><rect x="574" y="333" width="1" height="9.00" fill="rgb(0,0,0)" shape-rendering="crispEdges"/><rect x="575" y="333" width="1" height="9.00" fill="rgb(25,25,25)" shape-rendering="crispEdges"/><rect x="576" y="333" width="1" height="9.00" fill="rgb(0,0,0)" shape-rendering="crispEdges"/><rect x="577" y="333" width="1" height="9.00" fill="rgb(0,0,0)" shape-rendering="crispEdges"/><rect x="578" y="333" width="1" height="9.00" fill="rgb(25,25,25)" shape-rendering="crispEdges"/><rect x="579" y="333" width="1" height="9.00" fill="rgb(25,25,25)" shape-rendering="crispEdges"/><rect x="580" y="333" width="1" height="9.00" fill="rgb(25,25,25)" shape-rendering="crispEdges"/><rect x="581" y="333" width="1" height="9.00" fill="rgb(102,102,102)" shape-rendering="crispEdges"/><rect x="582" y="333" width="1" height="9.00" fill="rgb(50,50,50)" shape-rendering="crispEdges"/><rect x="583" y="333" width="1" height="9.00" fill="rgb(102,102,102)" shape-rendering="crispEdges"/><rect x="584" y="333" width="1" height="9.00" fill="rgb(127,127,127)" shape-rendering="crispEdges"/><rect x="585" y="333" width="1" height="9.00" fill="rgb(12,12,12)" shape-rendering="crispEdges"/><rect x="586" y="333" width="1" height="9.00" fill="rgb(12,12,12)" shape-rendering="crispEdges"/><rect x="587" y="333" width="1" height="9.00" fill="rgb(12,12,12)" shape-rendering="crispEdges"/><rect x="588" y="333" width="1" height="9.00" fill="rgb(204,204,204)" shape-rendering="crispEdges"/><rect x="589" y="333" width="1" height="9.00" fill="rgb(0,0,0)" shape-rendering="crispEdges"/><rect x="590" y="333" width="1" height="9.00" fill="rgb(165,165,165)" shape-rendering="crispEdges"/><rect x="591" y="333" width="1" height="9.00" fill="rgb(165,165,165)" shape-rendering="crispEdges"/><rect x="592" y="333" width="1" height="9.00" fill="rgb(50,50,50)" shape-rendering="crispEdges"/><rect x="593" y="333" width="1" height="9.00" fill="rgb(12,12,12)" shape-rendering="crispEdges"/><rect x="594" y="333" width="1" height="9.00" fill="rgb(50,50,50)" shape-rendering="crispEdges"/><rect x="595" y="333" width="1" height="9.00" fill="rgb(165,165,165)" shape-rendering="crispEdges"/><rect x="596" y="333" width="1" height="9.00" fill="rgb(102,102,102)" shape-rendering="crispEdges"/><rect x="597" y="333" width="1" height="9.00" fill="rgb(165,165,165)" shape-rendering="crispEdges"/><rect x="598" y="333" width="1" height="9.00" fill="rgb(0,0,0)" shape-rendering="crispEdges"/><rect x="599" y="333" width="1" height="9.00" fill="rgb(102,102,102)" shape-rendering="crispEdges"/><rect x="600" y="333" width="1" height="9.00" fill="rgb(127,127,127)" shape-rendering="crispEdges"/><rect x="601" y="333" width="1" height="9.00" fill="rgb(165,165,165)" shape-rendering="crispEdges"/><rect x="602" y="333" width="1" height="9.00" fill="rgb(25,25,25)" shape-rendering="crispEdges"/><rect x="603" y="333" width="1" height="9.00" fill="rgb(12,12,12)" shape-rendering="crispEdges"/><rect x="604" y="333" width="1" height="9.00" fill="rgb(12,12,12)" shape-rendering="crispEdges"/><rect x="605" y="333" width="1" height="9.00" fill="rgb(0,0,0)" shape-rendering="crispEdges"/><rect x="606" y="333" width="1" height="9.00" fill="rgb(127,127,127)" shape-rendering="crispEdges"/><rect x="607" y="333" width="1" height="9.00" fill="rgb(50,50,50)" shape-rendering="crispEdges"/><rect x="608" y="333" width="1" height="9.00" fill="rgb(102,102,102)" shape-rendering="crispEdges"/><rect x="609" y="333" width="1" height="9.00" fill="rgb(25,25,25)" shape-rendering="crispEdges"/><rect x="610" y="333" width="1" height="9.00" fill="rgb(12,12,12)" shape-rendering="crispEdges"/><rect x="611" y="333" width="1" height="9.00" fill="rgb(204,204,204)" shape-rendering="crispEdges"/><rect x="612" y="333" width="1" height="9.00" fill="rgb(25,25,25)" shape-rendering="crispEdges"/><rect x="613" y="333" width="1" height="9.00" fill="rgb(0,0,0)" shape-rendering="crispEdges"/><rect x="614" y="333" width="1" height="9.00" fill="rgb(0,0,0)" shape-rendering="crispEdges"/><rect x="615" y="333" width="1" height="9.00" fill="rgb(0,0,0)" shape-rendering="crispEdges"/><rect x="616" y="333" width="1" height="9.00" fill="rgb(204,204,204)" shape-rendering="crispEdges"/><rect x="617" y="333" width="1" height="9.00" fill="rgb(204,204,204)" shape-rendering="crispEdges"/><rect x="618" y="333" width="1" height="9.00" fill="rgb(0,0,0)" shape-rendering="crispEdges"/><rect x="619" y="333" width="1" height="9.00" fill="rgb(25,25,25)" shape-rendering="crispEdges"/><rect x="620" y="333" width="1" height="9.00" fill="rgb(127,127,127)" shape-rendering="crispEdges"/><rect x="621" y="333" width="1" height="9.00" fill="rgb(0,0,0)" shape-rendering="crispEdges"/><rect x="622" y="333" width="1" height="9.00" fill="rgb(127,127,127)" shape-rendering="crispEdges"/><rect x="623" y="333" width="1" height="9.00" fill="rgb(0,0,0)" shape-rendering="crispEdges"/><rect x="624" y="333" width="1" height="9.00" fill="rgb(102,102,102)" shape-rendering="crispEdges"/><rect x="625" y="333" width="1" height="9.00" fill="rgb(0,0,0)" shape-rendering="crispEdges"/><rect x="626" y="333" width="1" height="9.00" fill="rgb(12,12,12)" shape-rendering="crispEdges"/><rect x="627" y="333" width="1" height="9.00" fill="rgb(50,50,50)" shape-rendering="crispEdges"/><rect x="628" y="333" width="1" height="9.00" fill="rgb(0,0,0)" shape-rendering="crispEdges"/><rect x="629" y="333" width="1" height="9.00" fill="rgb(204,204,204)" shape-rendering="crispEdges"/><rect x="630" y="333" width="1" height="9.00" fill="rgb(0,0,0)" shape-rendering="crispEdges"/><rect x="631" y="333" width="1" height="9.00" fill="rgb(127,127,127)" shape-rendering="crispEdges"/><rect x="632" y="333" width="1" height="9.00" fill="rgb(0,0,0)" shape-rendering="crispEdges"/><rect x="633" y="333" width="1" height="9.00" fill="rgb(12,12,12)" shape-rendering="crispEdges"/><rect x="634" y="333" width="1" height="9.00" fill="rgb(165,165,165)" shape-rendering="crispEdges"/><rect x="635" y="333" width="1" height="9.00" fill="rgb(0,0,0)" shape-rendering="crispEdges"/><rect x="636" y="333" width="1" height="9.00" fill="rgb(102,102,102)" shape-rendering="crispEdges"/><rect x="637" y="333" width="1" height="9.00" fill="rgb(127,127,127)" shape-rendering="crispEdges"/><rect x="638" y="333" width="1" height="9.00" fill="rgb(0,0,0)" shape-rendering="crispEdges"/><rect x="639" y="333" width="1" height="9.00" fill="rgb(165,165,165)" shape-rendering="crispEdges"/><rect x="640" y="333" width="1" height="9.00" fill="rgb(127,127,127)" shape-rendering="crispEdges"/><rect x="641" y="333" width="1" height="9.00" fill="rgb(12,12,12)" shape-rendering="crispEdges"/><rect x="642" y="333" width="1" height="9.00" fill="rgb(12,12,12)" shape-rendering="crispEdges"/><rect x="643" y="333" width="1" height="9.00" fill="rgb(102,102,102)" shape-rendering="crispEdges"/><rect x="644" y="333" width="1" height="9.00" fill="rgb(102,102,102)" shape-rendering="crispEdges"/><rect x="645" y="333" width="1" height="9.00" fill="rgb(25,25,25)" shape-rendering="crispEdges"/><rect x="646" y="333" width="1" height="9.00" fill="rgb(102,102,102)" shape-rendering="crispEdges"/><rect x="647" y="333" width="1" height="9.00" fill="rgb(102,102,102)" shape-rendering="crispEdges"/><rect x="648" y="333" width="1" height="9.00" fill="rgb(127,127,127)" shape-rendering="crispEdges"/><rect x="649" y="333" width="1" height="9.00" fill="rgb(165,165,165)" shape-rendering="crispEdges"/><rect x="650" y="333" width="1" height="9.00" fill="rgb(12,12,12)" shape-rendering="crispEdges"/><rect x="651" y="333" width="1" height="9.00" fill="rgb(204,204,204)" shape-rendering="crispEdges"/><rect x="652" y="333" width="1" height="9.00" fill="rgb(25,25,25)" shape-rendering="crispEdges"/><rect x="653" y="333" width="1" height="9.00" fill="rgb(0,0,0)" shape-rendering="crispEdges"/><rect x="654" y="333" width="1" height="9.00" fill="rgb(0,0,0)" shape-rendering="crispEdges"/><rect x="655" y="333" width="1" height="9.00" fill="rgb(50,50,50)" shape-rendering="crispEdges"/><rect x="656" y="333" width="1" height="9.00" fill="rgb(204,204,204)" shape-rendering="crispEdges"/><rect x="657" y="333" width="1" height="9.00" fill="rgb(25,25,25)" shape-rendering="crispEdges"/><rect x="658" y="333" width="1" height="9.00" fill="rgb(204,204,204)" shape-rendering="crispEdges"/><rect x="659" y="333" width="1" height="9.00" fill="rgb(12,12,12)" shape-rendering="crispEdges"/><rect x="660" y="333" width="1" height="9.00" fill="rgb(127,127,127)" shape-rendering="crispEdges"/><rect x="661" y="333" width="1" height="9.00" fill="rgb(102,102,102)" shape-rendering="crispEdges"/><rect x="662" y="333" width="1" height="9.00" fill="rgb(165,165,165)" shape-rendering="crispEdges"/><rect x="663" y="333" width="1" height="9.00" fill="rgb(204,204,204)" shape-rendering="crispEdges"/><rect x="664" y="333" width="1" height="9.00" fill="rgb(204,204,204)" shape-rendering="crispEdges"/><rect x="665" y="333" width="1" height="9.00" fill="rgb(165,165,165)" shape-rendering="crispEdges"/><rect x="666" y="333" width="1" height="9.00" fill="rgb(102,102,102)" shape-rendering="crispEdges"/><rect x="667" y="333" width="1" height="9.00" fill="rgb(102,102,102)" shape-rendering="crispEdges"/><rect x="668" y="333" width="1" height="9.00" fill="rgb(0,0,0)" shape-rendering="crispEdges"/><rect x="669" y="333" width="1" height="9.00" fill="rgb(165,165,165)" shape-rendering="crispEdges"/><rect x="670" y="333" width="1" height="9.00" fill="rgb(12,12,12)" shape-rendering="crispEdges"/><rect x="671" y="333" width="1" height="9.00" fill="rgb(0,0,0)" shape-rendering="crispEdges"/><rect x="672" y="333" width="1" height="9.00" fill="rgb(25,25,25)" shape-rendering="crispEdges"/><rect x="673" y="333" width="1" height="9.00" fill="rgb(50,50,50)" shape-rendering="crispEdges"/><rect x="674" y="333" width="1" height="9.00" fill="rgb(102,102,102)" shape-rendering="crispEdges"/><rect x="675" y="333" width="1" height="9.00" fill="rgb(204,204,204)" shape-rendering="crispEdges"/><rect x="676" y="333" width="1" height="9.00" fill="rgb(127,127,127)" shape-rendering="crispEdges"/>
<polyline points="528.40,338.10 530.25,340.51 532.10,344.00 533.60,344.58 535.10,346.20 536.95,347.09 538.80,347.70 540.25,345.05 541.70,343.30 543.55,338.39 545.40,334.50 546.87,336.65 548.33,338.78 549.80,341.10 551.27,341.32 552.75,342.20 554.23,343.45 555.70,343.60 557.18,344.11 558.65,345.21 560.12,346.01 561.60,347.70 563.07,347.86 564.54,348.19 566.01,349.96 567.49,349.55 568.96,351.03 570.43,350.35 571.90,351.40 573.38,353.29 574.86,354.05 576.34,355.63 577.82,356.91 579.30,358.00 580.72,359.15 582.15,360.58 583.58,362.68 585.00,363.90 586.38,365.56 587.75,367.57 589.12,370.80 590.50,372.60 591.81,374.50 593.12,375.69 594.44,377.77 595.75,380.02 597.06,380.85 598.38,382.35 599.69,384.47 601.00,386.30 602.45,387.02 603.90,388.49 605.35,389.21 606.80,391.42 608.25,392.67 609.70,393.25 611.15,394.44 612.60,395.80 614.05,395.85 615.50,397.21 616.95,397.49 618.40,397.58 619.85,397.28 621.30,397.67 622.75,398.89 624.20,398.90 625.68,399.53 627.16,401.28 628.64,401.97 630.12,402.48 631.60,404.20 633.06,404.20 634.52,405.62 635.98,405.21 637.44,406.12 638.90,406.30 640.23,407.44 641.55,407.71 642.88,408.62 644.20,409.40 645.75,407.80 647.30,405.20 648.62,404.47 649.95,403.13 651.27,402.11 652.60,401.00 654.20,396.73 655.80,392.60 657.20,391.43 658.60,390.71 660.00,389.40 661.40,385.54 662.80,382.91 664.20,378.90 666.30,367.30 668.00,363.10 669.53,363.51 671.07,364.12 672.60,365.20 674.70,353.70 676.80,341.00 677.50,338.00" fill="none" stroke="#0f6637" stroke-width="2.2" stroke-linejoin="round"/>
<polyline points="527.30,417.40 527.30,413.80 663.50,413.80 663.50,417.40" fill="none" stroke="#c8c8c8" stroke-width="1.1" stroke-linejoin="round"/>
<line x1="572.80" y1="413.80" x2="572.80" y2="417.40" stroke="#c8c8c8" stroke-width="1.1"/>
<line x1="618.00" y1="413.80" x2="618.00" y2="417.40" stroke="#c8c8c8" stroke-width="1.1"/>
<text x="521.50" y="427.40" font-size="11" text-anchor="middle" fill="#2b2b2b" font-weight="normal">0</text>
<text x="572.50" y="427.40" font-size="11" text-anchor="middle" fill="#2b2b2b" font-weight="normal">200</text>
<text x="618.00" y="427.40" font-size="11" text-anchor="middle" fill="#2b2b2b" font-weight="normal">400</text>
<text x="663.80" y="427.40" font-size="11" text-anchor="middle" fill="#2b2b2b" font-weight="normal">600</text>
<text x="600.20" y="436.90" font-size="11" text-anchor="middle" fill="#2b2b2b" font-weight="normal">protein rank</text>
<text x="529.20" y="328.50" font-size="11" text-anchor="start" fill="#2b2b2b" font-weight="normal" textLength="95.50" lengthAdjust="spacingAndGlyphs">JUND target genes</text>
<text x="524.4" y="408.0" font-size="11" fill="#2b2b2b">q=2.33e<tspan font-size="7" dy="-4">-4</tspan></text>
<text transform="translate(494.5,377.92499999999995) rotate(-90)" font-size="11" text-anchor="middle" fill="#2b2b2b">enrichment</text>
</svg></body></html>
